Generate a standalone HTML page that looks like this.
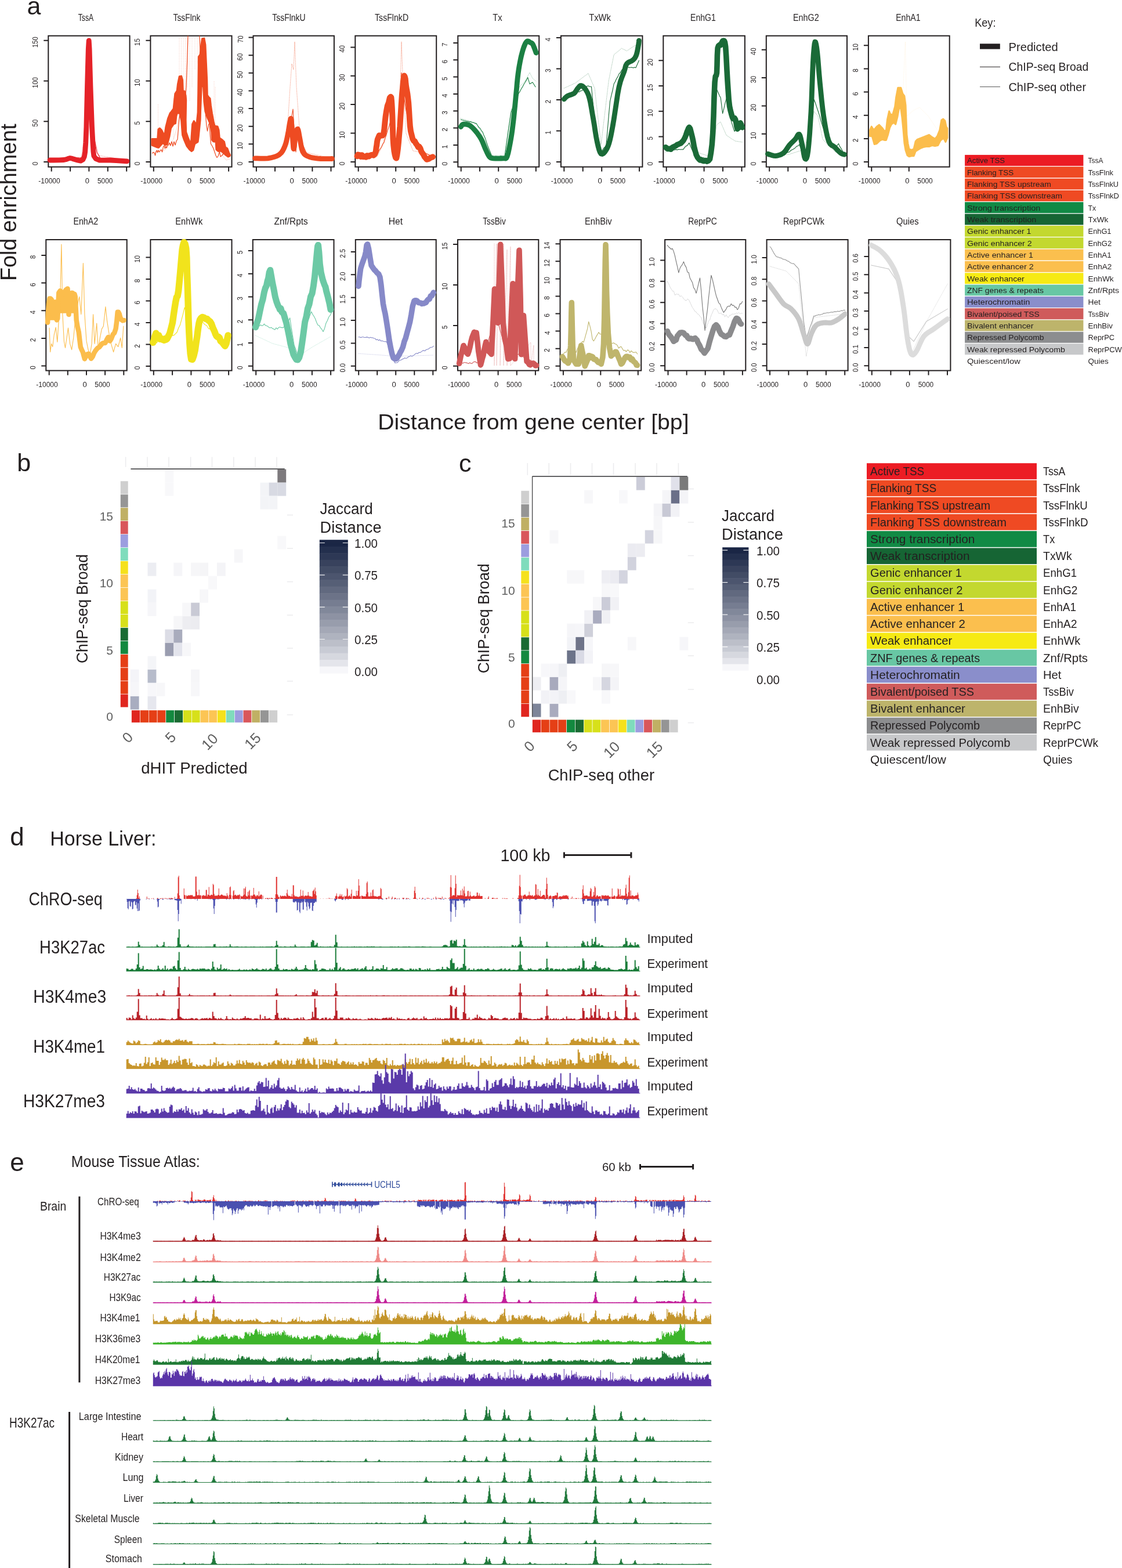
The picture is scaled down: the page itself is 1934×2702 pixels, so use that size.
<!DOCTYPE html>
<html><head><meta charset="utf-8"><title>Figure</title>
<style>html,body{margin:0;padding:0;background:#fff;}svg{display:block;}</style></head>
<body><svg width="1934" height="2702" viewBox="0 0 1934 2702" font-family="'Liberation Sans', Arial, sans-serif" fill="#231f20">
<rect width="1934" height="2702" fill="#fff"/>
<text x="46.5" y="24.5" font-size="43" >a</text>
<text x="27.8" y="484.1" font-size="39" textLength="270.8" lengthAdjust="spacingAndGlyphs" transform="rotate(-90 27.8 484.1)" >Fold enrichment</text>
<text x="651.2" y="740.0" font-size="37.5" textLength="536.4" lengthAdjust="spacingAndGlyphs" >Distance from gene center [bp]</text>
<rect x="83.3" y="61.7" width="140.3" height="225.9" fill="none" stroke="#231f20" stroke-width="2"/>
<text x="148.0" y="35.6" font-size="15.8" text-anchor="middle" textLength="26.6" lengthAdjust="spacingAndGlyphs" >TssA</text>
<text x="65.3" y="281.9" font-size="13" text-anchor="middle" textLength="6.3" lengthAdjust="spacingAndGlyphs" transform="rotate(-90 65.3 281.9)" >0</text>
<text x="65.3" y="212.1" font-size="13" text-anchor="middle" textLength="12.6" lengthAdjust="spacingAndGlyphs" transform="rotate(-90 65.3 212.1)" >50</text>
<text x="65.3" y="142.4" font-size="13" text-anchor="middle" textLength="18.9" lengthAdjust="spacingAndGlyphs" transform="rotate(-90 65.3 142.4)" >100</text>
<text x="65.3" y="72.6" font-size="13" text-anchor="middle" textLength="18.9" lengthAdjust="spacingAndGlyphs" transform="rotate(-90 65.3 72.6)" >150</text>
<path d="M75.3,279.0H83.3 M75.3,209.2H83.3 M75.3,139.5H83.3 M75.3,69.7H83.3 M88.7,287.6V295.6 M121.1,287.6V295.6 M153.4,287.6V295.6 M185.8,287.6V295.6 M218.2,287.6V295.6" stroke="#231f20" stroke-width="2" fill="none"/>
<text x="85.0" y="315.6" font-size="13" text-anchor="middle" textLength="37.5" lengthAdjust="spacingAndGlyphs" >-10000</text>
<text x="150.4" y="315.6" font-size="13" text-anchor="middle" >0</text>
<text x="181.2" y="315.6" font-size="13" text-anchor="middle" textLength="26.4" lengthAdjust="spacingAndGlyphs" >5000</text>
<rect x="259.4" y="61.7" width="140.1" height="225.9" fill="none" stroke="#231f20" stroke-width="2"/>
<text x="321.9" y="35.6" font-size="15.8" text-anchor="middle" textLength="46.8" lengthAdjust="spacingAndGlyphs" >TssFlnk</text>
<text x="241.4" y="281.9" font-size="13" text-anchor="middle" textLength="6.3" lengthAdjust="spacingAndGlyphs" transform="rotate(-90 241.4 281.9)" >0</text>
<text x="241.4" y="212.1" font-size="13" text-anchor="middle" textLength="6.3" lengthAdjust="spacingAndGlyphs" transform="rotate(-90 241.4 212.1)" >5</text>
<text x="241.4" y="142.4" font-size="13" text-anchor="middle" textLength="12.6" lengthAdjust="spacingAndGlyphs" transform="rotate(-90 241.4 142.4)" >10</text>
<text x="241.4" y="72.6" font-size="13" text-anchor="middle" textLength="12.6" lengthAdjust="spacingAndGlyphs" transform="rotate(-90 241.4 72.6)" >15</text>
<path d="M251.4,279.0H259.4 M251.4,209.2H259.4 M251.4,139.5H259.4 M251.4,69.7H259.4 M264.8,287.6V295.6 M297.1,287.6V295.6 M329.4,287.6V295.6 M361.8,287.6V295.6 M394.1,287.6V295.6" stroke="#231f20" stroke-width="2" fill="none"/>
<text x="261.1" y="315.6" font-size="13" text-anchor="middle" textLength="37.5" lengthAdjust="spacingAndGlyphs" >-10000</text>
<text x="326.4" y="315.6" font-size="13" text-anchor="middle" >0</text>
<text x="357.2" y="315.6" font-size="13" text-anchor="middle" textLength="26.4" lengthAdjust="spacingAndGlyphs" >5000</text>
<rect x="436.5" y="61.7" width="139.4" height="225.9" fill="none" stroke="#231f20" stroke-width="2"/>
<text x="498.0" y="35.6" font-size="15.8" text-anchor="middle" textLength="57.3" lengthAdjust="spacingAndGlyphs" >TssFlnkU</text>
<text x="418.5" y="281.8" font-size="13" text-anchor="middle" textLength="6.3" lengthAdjust="spacingAndGlyphs" transform="rotate(-90 418.5 281.8)" >0</text>
<text x="418.5" y="251.2" font-size="13" text-anchor="middle" textLength="12.6" lengthAdjust="spacingAndGlyphs" transform="rotate(-90 418.5 251.2)" >10</text>
<text x="418.5" y="220.6" font-size="13" text-anchor="middle" textLength="12.6" lengthAdjust="spacingAndGlyphs" transform="rotate(-90 418.5 220.6)" >20</text>
<text x="418.5" y="190.0" font-size="13" text-anchor="middle" textLength="12.6" lengthAdjust="spacingAndGlyphs" transform="rotate(-90 418.5 190.0)" >30</text>
<text x="418.5" y="159.3" font-size="13" text-anchor="middle" textLength="12.6" lengthAdjust="spacingAndGlyphs" transform="rotate(-90 418.5 159.3)" >40</text>
<text x="418.5" y="128.7" font-size="13" text-anchor="middle" textLength="12.6" lengthAdjust="spacingAndGlyphs" transform="rotate(-90 418.5 128.7)" >50</text>
<text x="418.5" y="98.1" font-size="13" text-anchor="middle" textLength="12.6" lengthAdjust="spacingAndGlyphs" transform="rotate(-90 418.5 98.1)" >60</text>
<text x="418.5" y="67.5" font-size="13" text-anchor="middle" textLength="12.6" lengthAdjust="spacingAndGlyphs" transform="rotate(-90 418.5 67.5)" >70</text>
<path d="M428.5,278.9H436.5 M428.5,248.3H436.5 M428.5,217.7H436.5 M428.5,187.1H436.5 M428.5,156.4H436.5 M428.5,125.8H436.5 M428.5,95.2H436.5 M428.5,64.6H436.5 M441.9,287.6V295.6 M474.0,287.6V295.6 M506.2,287.6V295.6 M538.4,287.6V295.6 M570.5,287.6V295.6" stroke="#231f20" stroke-width="2" fill="none"/>
<text x="438.2" y="315.6" font-size="13" text-anchor="middle" textLength="37.5" lengthAdjust="spacingAndGlyphs" >-10000</text>
<text x="503.2" y="315.6" font-size="13" text-anchor="middle" >0</text>
<text x="533.8" y="315.6" font-size="13" text-anchor="middle" textLength="26.4" lengthAdjust="spacingAndGlyphs" >5000</text>
<rect x="612.3" y="61.7" width="139.9" height="225.9" fill="none" stroke="#231f20" stroke-width="2"/>
<text x="675.1" y="35.6" font-size="15.8" text-anchor="middle" textLength="58.1" lengthAdjust="spacingAndGlyphs" >TssFlnkD</text>
<text x="594.3" y="281.8" font-size="13" text-anchor="middle" textLength="6.3" lengthAdjust="spacingAndGlyphs" transform="rotate(-90 594.3 281.8)" >0</text>
<text x="594.3" y="232.4" font-size="13" text-anchor="middle" textLength="12.6" lengthAdjust="spacingAndGlyphs" transform="rotate(-90 594.3 232.4)" >10</text>
<text x="594.3" y="183.0" font-size="13" text-anchor="middle" textLength="12.6" lengthAdjust="spacingAndGlyphs" transform="rotate(-90 594.3 183.0)" >20</text>
<text x="594.3" y="133.7" font-size="13" text-anchor="middle" textLength="12.6" lengthAdjust="spacingAndGlyphs" transform="rotate(-90 594.3 133.7)" >30</text>
<text x="594.3" y="84.3" font-size="13" text-anchor="middle" textLength="12.6" lengthAdjust="spacingAndGlyphs" transform="rotate(-90 594.3 84.3)" >40</text>
<path d="M604.3,278.9H612.3 M604.3,229.5H612.3 M604.3,180.1H612.3 M604.3,130.8H612.3 M604.3,81.4H612.3 M617.7,287.6V295.6 M650.0,287.6V295.6 M682.2,287.6V295.6 M714.5,287.6V295.6 M746.8,287.6V295.6" stroke="#231f20" stroke-width="2" fill="none"/>
<text x="614.0" y="315.6" font-size="13" text-anchor="middle" textLength="37.5" lengthAdjust="spacingAndGlyphs" >-10000</text>
<text x="679.2" y="315.6" font-size="13" text-anchor="middle" >0</text>
<text x="709.9" y="315.6" font-size="13" text-anchor="middle" textLength="26.4" lengthAdjust="spacingAndGlyphs" >5000</text>
<rect x="789.3" y="61.7" width="139.9" height="225.9" fill="none" stroke="#231f20" stroke-width="2"/>
<text x="857.5" y="35.6" font-size="15.8" text-anchor="middle" textLength="16.3" lengthAdjust="spacingAndGlyphs" >Tx</text>
<text x="771.3" y="282.1" font-size="13" text-anchor="middle" textLength="6.3" lengthAdjust="spacingAndGlyphs" transform="rotate(-90 771.3 282.1)" >0</text>
<text x="771.3" y="252.8" font-size="13" text-anchor="middle" textLength="6.3" lengthAdjust="spacingAndGlyphs" transform="rotate(-90 771.3 252.8)" >1</text>
<text x="771.3" y="223.4" font-size="13" text-anchor="middle" textLength="6.3" lengthAdjust="spacingAndGlyphs" transform="rotate(-90 771.3 223.4)" >2</text>
<text x="771.3" y="194.1" font-size="13" text-anchor="middle" textLength="6.3" lengthAdjust="spacingAndGlyphs" transform="rotate(-90 771.3 194.1)" >3</text>
<text x="771.3" y="164.8" font-size="13" text-anchor="middle" textLength="6.3" lengthAdjust="spacingAndGlyphs" transform="rotate(-90 771.3 164.8)" >4</text>
<text x="771.3" y="135.5" font-size="13" text-anchor="middle" textLength="6.3" lengthAdjust="spacingAndGlyphs" transform="rotate(-90 771.3 135.5)" >5</text>
<text x="771.3" y="106.1" font-size="13" text-anchor="middle" textLength="6.3" lengthAdjust="spacingAndGlyphs" transform="rotate(-90 771.3 106.1)" >6</text>
<text x="771.3" y="76.8" font-size="13" text-anchor="middle" textLength="6.3" lengthAdjust="spacingAndGlyphs" transform="rotate(-90 771.3 76.8)" >7</text>
<path d="M781.3,279.2H789.3 M781.3,249.9H789.3 M781.3,220.5H789.3 M781.3,191.2H789.3 M781.3,161.9H789.3 M781.3,132.6H789.3 M781.3,103.2H789.3 M781.3,73.9H789.3 M794.7,287.6V295.6 M827.0,287.6V295.6 M859.2,287.6V295.6 M891.5,287.6V295.6 M923.8,287.6V295.6" stroke="#231f20" stroke-width="2" fill="none"/>
<text x="791.0" y="315.6" font-size="13" text-anchor="middle" textLength="37.5" lengthAdjust="spacingAndGlyphs" >-10000</text>
<text x="856.2" y="315.6" font-size="13" text-anchor="middle" >0</text>
<text x="886.9" y="315.6" font-size="13" text-anchor="middle" textLength="26.4" lengthAdjust="spacingAndGlyphs" >5000</text>
<rect x="966.9" y="61.7" width="140.5" height="225.9" fill="none" stroke="#231f20" stroke-width="2"/>
<text x="1034.1" y="35.6" font-size="15.8" text-anchor="middle" textLength="37.8" lengthAdjust="spacingAndGlyphs" >TxWk</text>
<text x="948.9" y="281.9" font-size="13" text-anchor="middle" textLength="6.3" lengthAdjust="spacingAndGlyphs" transform="rotate(-90 948.9 281.9)" >0</text>
<text x="948.9" y="228.4" font-size="13" text-anchor="middle" textLength="6.3" lengthAdjust="spacingAndGlyphs" transform="rotate(-90 948.9 228.4)" >1</text>
<text x="948.9" y="175.0" font-size="13" text-anchor="middle" textLength="6.3" lengthAdjust="spacingAndGlyphs" transform="rotate(-90 948.9 175.0)" >2</text>
<text x="948.9" y="121.5" font-size="13" text-anchor="middle" textLength="6.3" lengthAdjust="spacingAndGlyphs" transform="rotate(-90 948.9 121.5)" >3</text>
<text x="948.9" y="68.0" font-size="13" text-anchor="middle" textLength="6.3" lengthAdjust="spacingAndGlyphs" transform="rotate(-90 948.9 68.0)" >4</text>
<path d="M958.9,279.0H966.9 M958.9,225.5H966.9 M958.9,172.1H966.9 M958.9,118.6H966.9 M958.9,65.1H966.9 M972.3,287.6V295.6 M1004.7,287.6V295.6 M1037.2,287.6V295.6 M1069.6,287.6V295.6 M1102.0,287.6V295.6" stroke="#231f20" stroke-width="2" fill="none"/>
<text x="968.6" y="315.6" font-size="13" text-anchor="middle" textLength="37.5" lengthAdjust="spacingAndGlyphs" >-10000</text>
<text x="1034.2" y="315.6" font-size="13" text-anchor="middle" >0</text>
<text x="1065.0" y="315.6" font-size="13" text-anchor="middle" textLength="26.4" lengthAdjust="spacingAndGlyphs" >5000</text>
<rect x="1143.3" y="61.7" width="140.6" height="225.9" fill="none" stroke="#231f20" stroke-width="2"/>
<text x="1211.9" y="35.6" font-size="15.8" text-anchor="middle" textLength="43.7" lengthAdjust="spacingAndGlyphs" >EnhG1</text>
<text x="1125.3" y="282.0" font-size="13" text-anchor="middle" textLength="6.3" lengthAdjust="spacingAndGlyphs" transform="rotate(-90 1125.3 282.0)" >0</text>
<text x="1125.3" y="238.3" font-size="13" text-anchor="middle" textLength="6.3" lengthAdjust="spacingAndGlyphs" transform="rotate(-90 1125.3 238.3)" >5</text>
<text x="1125.3" y="194.6" font-size="13" text-anchor="middle" textLength="12.6" lengthAdjust="spacingAndGlyphs" transform="rotate(-90 1125.3 194.6)" >10</text>
<text x="1125.3" y="150.9" font-size="13" text-anchor="middle" textLength="12.6" lengthAdjust="spacingAndGlyphs" transform="rotate(-90 1125.3 150.9)" >15</text>
<text x="1125.3" y="107.2" font-size="13" text-anchor="middle" textLength="12.6" lengthAdjust="spacingAndGlyphs" transform="rotate(-90 1125.3 107.2)" >20</text>
<path d="M1135.3,279.1H1143.3 M1135.3,235.4H1143.3 M1135.3,191.7H1143.3 M1135.3,148.0H1143.3 M1135.3,104.3H1143.3 M1148.7,287.6V295.6 M1181.2,287.6V295.6 M1213.6,287.6V295.6 M1246.0,287.6V295.6 M1278.5,287.6V295.6" stroke="#231f20" stroke-width="2" fill="none"/>
<text x="1145.0" y="315.6" font-size="13" text-anchor="middle" textLength="37.5" lengthAdjust="spacingAndGlyphs" >-10000</text>
<text x="1210.6" y="315.6" font-size="13" text-anchor="middle" >0</text>
<text x="1241.5" y="315.6" font-size="13" text-anchor="middle" textLength="26.4" lengthAdjust="spacingAndGlyphs" >5000</text>
<rect x="1320.8" y="61.7" width="139.2" height="225.9" fill="none" stroke="#231f20" stroke-width="2"/>
<text x="1389.3" y="35.6" font-size="15.8" text-anchor="middle" textLength="44.7" lengthAdjust="spacingAndGlyphs" >EnhG2</text>
<text x="1302.8" y="282.0" font-size="13" text-anchor="middle" textLength="6.3" lengthAdjust="spacingAndGlyphs" transform="rotate(-90 1302.8 282.0)" >0</text>
<text x="1302.8" y="233.7" font-size="13" text-anchor="middle" textLength="12.6" lengthAdjust="spacingAndGlyphs" transform="rotate(-90 1302.8 233.7)" >10</text>
<text x="1302.8" y="185.3" font-size="13" text-anchor="middle" textLength="12.6" lengthAdjust="spacingAndGlyphs" transform="rotate(-90 1302.8 185.3)" >20</text>
<text x="1302.8" y="137.0" font-size="13" text-anchor="middle" textLength="12.6" lengthAdjust="spacingAndGlyphs" transform="rotate(-90 1302.8 137.0)" >30</text>
<text x="1302.8" y="88.6" font-size="13" text-anchor="middle" textLength="12.6" lengthAdjust="spacingAndGlyphs" transform="rotate(-90 1302.8 88.6)" >40</text>
<path d="M1312.8,279.1H1320.8 M1312.8,230.8H1320.8 M1312.8,182.4H1320.8 M1312.8,134.1H1320.8 M1312.8,85.7H1320.8 M1326.2,287.6V295.6 M1358.3,287.6V295.6 M1390.4,287.6V295.6 M1422.5,287.6V295.6 M1454.6,287.6V295.6" stroke="#231f20" stroke-width="2" fill="none"/>
<text x="1322.5" y="315.6" font-size="13" text-anchor="middle" textLength="37.5" lengthAdjust="spacingAndGlyphs" >-10000</text>
<text x="1387.4" y="315.6" font-size="13" text-anchor="middle" >0</text>
<text x="1417.9" y="315.6" font-size="13" text-anchor="middle" textLength="26.4" lengthAdjust="spacingAndGlyphs" >5000</text>
<rect x="1496.9" y="61.7" width="139.8" height="225.9" fill="none" stroke="#231f20" stroke-width="2"/>
<text x="1565.4" y="35.6" font-size="15.8" text-anchor="middle" textLength="42.5" lengthAdjust="spacingAndGlyphs" >EnhA1</text>
<text x="1478.9" y="282.0" font-size="13" text-anchor="middle" textLength="6.3" lengthAdjust="spacingAndGlyphs" transform="rotate(-90 1478.9 282.0)" >0</text>
<text x="1478.9" y="241.8" font-size="13" text-anchor="middle" textLength="6.3" lengthAdjust="spacingAndGlyphs" transform="rotate(-90 1478.9 241.8)" >2</text>
<text x="1478.9" y="201.7" font-size="13" text-anchor="middle" textLength="6.3" lengthAdjust="spacingAndGlyphs" transform="rotate(-90 1478.9 201.7)" >4</text>
<text x="1478.9" y="161.5" font-size="13" text-anchor="middle" textLength="6.3" lengthAdjust="spacingAndGlyphs" transform="rotate(-90 1478.9 161.5)" >6</text>
<text x="1478.9" y="121.4" font-size="13" text-anchor="middle" textLength="6.3" lengthAdjust="spacingAndGlyphs" transform="rotate(-90 1478.9 121.4)" >8</text>
<text x="1478.9" y="81.2" font-size="13" text-anchor="middle" textLength="12.6" lengthAdjust="spacingAndGlyphs" transform="rotate(-90 1478.9 81.2)" >10</text>
<path d="M1488.9,279.1H1496.9 M1488.9,238.9H1496.9 M1488.9,198.8H1496.9 M1488.9,158.6H1496.9 M1488.9,118.5H1496.9 M1488.9,78.3H1496.9 M1502.3,287.6V295.6 M1534.6,287.6V295.6 M1566.8,287.6V295.6" stroke="#231f20" stroke-width="2" fill="none"/>
<text x="1498.6" y="315.6" font-size="13" text-anchor="middle" textLength="37.5" lengthAdjust="spacingAndGlyphs" >-10000</text>
<text x="1563.8" y="315.6" font-size="13" text-anchor="middle" >0</text>
<text x="1594.5" y="315.6" font-size="13" text-anchor="middle" textLength="26.4" lengthAdjust="spacingAndGlyphs" >5000</text>
<rect x="79.3" y="413.0" width="139.4" height="225.6" fill="none" stroke="#231f20" stroke-width="2"/>
<text x="147.8" y="387.4" font-size="15.8" text-anchor="middle" textLength="42.7" lengthAdjust="spacingAndGlyphs" >EnhA2</text>
<text x="61.3" y="633.4" font-size="13" text-anchor="middle" textLength="6.3" lengthAdjust="spacingAndGlyphs" transform="rotate(-90 61.3 633.4)" >0</text>
<text x="61.3" y="585.8" font-size="13" text-anchor="middle" textLength="6.3" lengthAdjust="spacingAndGlyphs" transform="rotate(-90 61.3 585.8)" >2</text>
<text x="61.3" y="538.1" font-size="13" text-anchor="middle" textLength="6.3" lengthAdjust="spacingAndGlyphs" transform="rotate(-90 61.3 538.1)" >4</text>
<text x="61.3" y="490.5" font-size="13" text-anchor="middle" textLength="6.3" lengthAdjust="spacingAndGlyphs" transform="rotate(-90 61.3 490.5)" >6</text>
<text x="61.3" y="442.9" font-size="13" text-anchor="middle" textLength="6.3" lengthAdjust="spacingAndGlyphs" transform="rotate(-90 61.3 442.9)" >8</text>
<path d="M71.3,630.5H79.3 M71.3,582.9H79.3 M71.3,535.2H79.3 M71.3,487.6H79.3 M71.3,440.0H79.3 M84.7,638.6V646.6 M116.8,638.6V646.6 M149.0,638.6V646.6 M181.1,638.6V646.6 M213.3,638.6V646.6" stroke="#231f20" stroke-width="2" fill="none"/>
<text x="81.0" y="666.6" font-size="13" text-anchor="middle" textLength="37.5" lengthAdjust="spacingAndGlyphs" >-10000</text>
<text x="146.0" y="666.6" font-size="13" text-anchor="middle" >0</text>
<text x="176.5" y="666.6" font-size="13" text-anchor="middle" textLength="26.4" lengthAdjust="spacingAndGlyphs" >5000</text>
<rect x="259.4" y="413.0" width="140.1" height="225.6" fill="none" stroke="#231f20" stroke-width="2"/>
<text x="325.8" y="387.4" font-size="15.8" text-anchor="middle" textLength="46.9" lengthAdjust="spacingAndGlyphs" >EnhWk</text>
<text x="241.4" y="633.8" font-size="13" text-anchor="middle" textLength="6.3" lengthAdjust="spacingAndGlyphs" transform="rotate(-90 241.4 633.8)" >0</text>
<text x="241.4" y="596.3" font-size="13" text-anchor="middle" textLength="6.3" lengthAdjust="spacingAndGlyphs" transform="rotate(-90 241.4 596.3)" >2</text>
<text x="241.4" y="558.8" font-size="13" text-anchor="middle" textLength="6.3" lengthAdjust="spacingAndGlyphs" transform="rotate(-90 241.4 558.8)" >4</text>
<text x="241.4" y="521.3" font-size="13" text-anchor="middle" textLength="6.3" lengthAdjust="spacingAndGlyphs" transform="rotate(-90 241.4 521.3)" >6</text>
<text x="241.4" y="483.8" font-size="13" text-anchor="middle" textLength="6.3" lengthAdjust="spacingAndGlyphs" transform="rotate(-90 241.4 483.8)" >8</text>
<text x="241.4" y="446.3" font-size="13" text-anchor="middle" textLength="12.6" lengthAdjust="spacingAndGlyphs" transform="rotate(-90 241.4 446.3)" >10</text>
<path d="M251.4,630.9H259.4 M251.4,593.4H259.4 M251.4,555.9H259.4 M251.4,518.4H259.4 M251.4,480.9H259.4 M251.4,443.4H259.4 M264.8,638.6V646.6 M297.1,638.6V646.6 M329.4,638.6V646.6 M361.8,638.6V646.6 M394.1,638.6V646.6" stroke="#231f20" stroke-width="2" fill="none"/>
<text x="261.1" y="666.6" font-size="13" text-anchor="middle" textLength="37.5" lengthAdjust="spacingAndGlyphs" >-10000</text>
<text x="326.4" y="666.6" font-size="13" text-anchor="middle" >0</text>
<text x="357.2" y="666.6" font-size="13" text-anchor="middle" textLength="26.4" lengthAdjust="spacingAndGlyphs" >5000</text>
<rect x="435.8" y="413.0" width="139.7" height="225.6" fill="none" stroke="#231f20" stroke-width="2"/>
<text x="501.6" y="387.4" font-size="15.8" text-anchor="middle" textLength="58.2" lengthAdjust="spacingAndGlyphs" >Znf/Rpts</text>
<text x="417.8" y="633.7" font-size="13" text-anchor="middle" textLength="6.3" lengthAdjust="spacingAndGlyphs" transform="rotate(-90 417.8 633.7)" >0</text>
<text x="417.8" y="593.9" font-size="13" text-anchor="middle" textLength="6.3" lengthAdjust="spacingAndGlyphs" transform="rotate(-90 417.8 593.9)" >1</text>
<text x="417.8" y="554.2" font-size="13" text-anchor="middle" textLength="6.3" lengthAdjust="spacingAndGlyphs" transform="rotate(-90 417.8 554.2)" >2</text>
<text x="417.8" y="514.4" font-size="13" text-anchor="middle" textLength="6.3" lengthAdjust="spacingAndGlyphs" transform="rotate(-90 417.8 514.4)" >3</text>
<text x="417.8" y="474.7" font-size="13" text-anchor="middle" textLength="6.3" lengthAdjust="spacingAndGlyphs" transform="rotate(-90 417.8 474.7)" >4</text>
<text x="417.8" y="434.9" font-size="13" text-anchor="middle" textLength="6.3" lengthAdjust="spacingAndGlyphs" transform="rotate(-90 417.8 434.9)" >5</text>
<path d="M427.8,630.8H435.8 M427.8,591.0H435.8 M427.8,551.3H435.8 M427.8,511.5H435.8 M427.8,471.8H435.8 M427.8,432.0H435.8 M441.2,638.6V646.6 M473.4,638.6V646.6 M505.6,638.6V646.6 M537.9,638.6V646.6 M570.1,638.6V646.6" stroke="#231f20" stroke-width="2" fill="none"/>
<text x="437.5" y="666.6" font-size="13" text-anchor="middle" textLength="37.5" lengthAdjust="spacingAndGlyphs" >-10000</text>
<text x="502.6" y="666.6" font-size="13" text-anchor="middle" >0</text>
<text x="533.3" y="666.6" font-size="13" text-anchor="middle" textLength="26.4" lengthAdjust="spacingAndGlyphs" >5000</text>
<rect x="612.8" y="413.0" width="138.9" height="225.6" fill="none" stroke="#231f20" stroke-width="2"/>
<text x="681.9" y="387.4" font-size="15.8" text-anchor="middle" textLength="24.4" lengthAdjust="spacingAndGlyphs" >Het</text>
<text x="594.8" y="633.7" font-size="13" text-anchor="middle" textLength="15.5" lengthAdjust="spacingAndGlyphs" transform="rotate(-90 594.8 633.7)" >0.0</text>
<text x="594.8" y="594.3" font-size="13" text-anchor="middle" textLength="15.5" lengthAdjust="spacingAndGlyphs" transform="rotate(-90 594.8 594.3)" >0.5</text>
<text x="594.8" y="554.9" font-size="13" text-anchor="middle" textLength="15.5" lengthAdjust="spacingAndGlyphs" transform="rotate(-90 594.8 554.9)" >1.0</text>
<text x="594.8" y="515.6" font-size="13" text-anchor="middle" textLength="15.5" lengthAdjust="spacingAndGlyphs" transform="rotate(-90 594.8 515.6)" >1.5</text>
<text x="594.8" y="476.2" font-size="13" text-anchor="middle" textLength="15.5" lengthAdjust="spacingAndGlyphs" transform="rotate(-90 594.8 476.2)" >2.0</text>
<text x="594.8" y="436.8" font-size="13" text-anchor="middle" textLength="15.5" lengthAdjust="spacingAndGlyphs" transform="rotate(-90 594.8 436.8)" >2.5</text>
<path d="M604.8,630.8H612.8 M604.8,591.4H612.8 M604.8,552.0H612.8 M604.8,512.7H612.8 M604.8,473.3H612.8 M604.8,433.9H612.8 M618.2,638.6V646.6 M650.2,638.6V646.6 M682.2,638.6V646.6 M714.3,638.6V646.6 M746.3,638.6V646.6" stroke="#231f20" stroke-width="2" fill="none"/>
<text x="614.5" y="666.6" font-size="13" text-anchor="middle" textLength="37.5" lengthAdjust="spacingAndGlyphs" >-10000</text>
<text x="679.2" y="666.6" font-size="13" text-anchor="middle" >0</text>
<text x="709.7" y="666.6" font-size="13" text-anchor="middle" textLength="26.4" lengthAdjust="spacingAndGlyphs" >5000</text>
<rect x="789.0" y="413.0" width="139.3" height="225.6" fill="none" stroke="#231f20" stroke-width="2"/>
<text x="852.0" y="387.4" font-size="15.8" text-anchor="middle" textLength="39.4" lengthAdjust="spacingAndGlyphs" >TssBiv</text>
<text x="771.0" y="633.7" font-size="13" text-anchor="middle" textLength="6.3" lengthAdjust="spacingAndGlyphs" transform="rotate(-90 771.0 633.7)" >0</text>
<text x="771.0" y="563.8" font-size="13" text-anchor="middle" textLength="6.3" lengthAdjust="spacingAndGlyphs" transform="rotate(-90 771.0 563.8)" >5</text>
<text x="771.0" y="493.8" font-size="13" text-anchor="middle" textLength="12.6" lengthAdjust="spacingAndGlyphs" transform="rotate(-90 771.0 493.8)" >10</text>
<text x="771.0" y="423.9" font-size="13" text-anchor="middle" textLength="12.6" lengthAdjust="spacingAndGlyphs" transform="rotate(-90 771.0 423.9)" >15</text>
<path d="M781.0,630.8H789.0 M781.0,560.9H789.0 M781.0,490.9H789.0 M781.0,421.0H789.0 M794.4,638.6V646.6 M826.5,638.6V646.6 M858.6,638.6V646.6 M890.8,638.6V646.6 M922.9,638.6V646.6" stroke="#231f20" stroke-width="2" fill="none"/>
<text x="790.7" y="666.6" font-size="13" text-anchor="middle" textLength="37.5" lengthAdjust="spacingAndGlyphs" >-10000</text>
<text x="855.6" y="666.6" font-size="13" text-anchor="middle" >0</text>
<text x="886.2" y="666.6" font-size="13" text-anchor="middle" textLength="26.4" lengthAdjust="spacingAndGlyphs" >5000</text>
<rect x="965.5" y="413.0" width="139.7" height="225.6" fill="none" stroke="#231f20" stroke-width="2"/>
<text x="1031.3" y="387.4" font-size="15.8" text-anchor="middle" textLength="46.7" lengthAdjust="spacingAndGlyphs" >EnhBiv</text>
<text x="947.5" y="633.7" font-size="13" text-anchor="middle" textLength="6.3" lengthAdjust="spacingAndGlyphs" transform="rotate(-90 947.5 633.7)" >0</text>
<text x="947.5" y="603.6" font-size="13" text-anchor="middle" textLength="6.3" lengthAdjust="spacingAndGlyphs" transform="rotate(-90 947.5 603.6)" >2</text>
<text x="947.5" y="573.5" font-size="13" text-anchor="middle" textLength="6.3" lengthAdjust="spacingAndGlyphs" transform="rotate(-90 947.5 573.5)" >4</text>
<text x="947.5" y="543.4" font-size="13" text-anchor="middle" textLength="6.3" lengthAdjust="spacingAndGlyphs" transform="rotate(-90 947.5 543.4)" >6</text>
<text x="947.5" y="513.4" font-size="13" text-anchor="middle" textLength="6.3" lengthAdjust="spacingAndGlyphs" transform="rotate(-90 947.5 513.4)" >8</text>
<text x="947.5" y="483.3" font-size="13" text-anchor="middle" textLength="12.6" lengthAdjust="spacingAndGlyphs" transform="rotate(-90 947.5 483.3)" >10</text>
<text x="947.5" y="453.2" font-size="13" text-anchor="middle" textLength="12.6" lengthAdjust="spacingAndGlyphs" transform="rotate(-90 947.5 453.2)" >12</text>
<text x="947.5" y="423.1" font-size="13" text-anchor="middle" textLength="12.6" lengthAdjust="spacingAndGlyphs" transform="rotate(-90 947.5 423.1)" >14</text>
<path d="M957.5,630.8H965.5 M957.5,600.7H965.5 M957.5,570.6H965.5 M957.5,540.5H965.5 M957.5,510.5H965.5 M957.5,480.4H965.5 M957.5,450.3H965.5 M957.5,420.2H965.5 M970.9,638.6V646.6 M1003.1,638.6V646.6 M1035.3,638.6V646.6 M1067.6,638.6V646.6 M1099.8,638.6V646.6" stroke="#231f20" stroke-width="2" fill="none"/>
<text x="967.2" y="666.6" font-size="13" text-anchor="middle" textLength="37.5" lengthAdjust="spacingAndGlyphs" >-10000</text>
<text x="1032.3" y="666.6" font-size="13" text-anchor="middle" >0</text>
<text x="1063.0" y="666.6" font-size="13" text-anchor="middle" textLength="26.4" lengthAdjust="spacingAndGlyphs" >5000</text>
<rect x="1146.1" y="413.0" width="139.2" height="225.6" fill="none" stroke="#231f20" stroke-width="2"/>
<text x="1211.0" y="387.4" font-size="15.8" text-anchor="middle" textLength="49.3" lengthAdjust="spacingAndGlyphs" >ReprPC</text>
<text x="1128.1" y="633.2" font-size="13" text-anchor="middle" textLength="15.5" lengthAdjust="spacingAndGlyphs" transform="rotate(-90 1128.1 633.2)" >0.0</text>
<text x="1128.1" y="596.8" font-size="13" text-anchor="middle" textLength="15.5" lengthAdjust="spacingAndGlyphs" transform="rotate(-90 1128.1 596.8)" >0.2</text>
<text x="1128.1" y="560.4" font-size="13" text-anchor="middle" textLength="15.5" lengthAdjust="spacingAndGlyphs" transform="rotate(-90 1128.1 560.4)" >0.4</text>
<text x="1128.1" y="524.1" font-size="13" text-anchor="middle" textLength="15.5" lengthAdjust="spacingAndGlyphs" transform="rotate(-90 1128.1 524.1)" >0.6</text>
<text x="1128.1" y="487.7" font-size="13" text-anchor="middle" textLength="15.5" lengthAdjust="spacingAndGlyphs" transform="rotate(-90 1128.1 487.7)" >0.8</text>
<text x="1128.1" y="451.3" font-size="13" text-anchor="middle" textLength="15.5" lengthAdjust="spacingAndGlyphs" transform="rotate(-90 1128.1 451.3)" >1.0</text>
<path d="M1138.1,630.3H1146.1 M1138.1,593.9H1146.1 M1138.1,557.5H1146.1 M1138.1,521.2H1146.1 M1138.1,484.8H1146.1 M1138.1,448.4H1146.1 M1151.5,638.6V646.6 M1183.6,638.6V646.6 M1215.7,638.6V646.6 M1247.8,638.6V646.6 M1279.9,638.6V646.6" stroke="#231f20" stroke-width="2" fill="none"/>
<text x="1147.8" y="666.6" font-size="13" text-anchor="middle" textLength="37.5" lengthAdjust="spacingAndGlyphs" >-10000</text>
<text x="1212.7" y="666.6" font-size="13" text-anchor="middle" >0</text>
<text x="1243.2" y="666.6" font-size="13" text-anchor="middle" textLength="26.4" lengthAdjust="spacingAndGlyphs" >5000</text>
<rect x="1321.6" y="413.0" width="140.0" height="225.6" fill="none" stroke="#231f20" stroke-width="2"/>
<text x="1385.5" y="387.4" font-size="15.8" text-anchor="middle" textLength="70.8" lengthAdjust="spacingAndGlyphs" >ReprPCWk</text>
<text x="1303.6" y="633.2" font-size="13" text-anchor="middle" textLength="15.5" lengthAdjust="spacingAndGlyphs" transform="rotate(-90 1303.6 633.2)" >0.0</text>
<text x="1303.6" y="595.9" font-size="13" text-anchor="middle" textLength="15.5" lengthAdjust="spacingAndGlyphs" transform="rotate(-90 1303.6 595.9)" >0.2</text>
<text x="1303.6" y="558.7" font-size="13" text-anchor="middle" textLength="15.5" lengthAdjust="spacingAndGlyphs" transform="rotate(-90 1303.6 558.7)" >0.4</text>
<text x="1303.6" y="521.4" font-size="13" text-anchor="middle" textLength="15.5" lengthAdjust="spacingAndGlyphs" transform="rotate(-90 1303.6 521.4)" >0.6</text>
<text x="1303.6" y="484.2" font-size="13" text-anchor="middle" textLength="15.5" lengthAdjust="spacingAndGlyphs" transform="rotate(-90 1303.6 484.2)" >0.8</text>
<text x="1303.6" y="446.9" font-size="13" text-anchor="middle" textLength="15.5" lengthAdjust="spacingAndGlyphs" transform="rotate(-90 1303.6 446.9)" >1.0</text>
<path d="M1313.6,630.3H1321.6 M1313.6,593.0H1321.6 M1313.6,555.8H1321.6 M1313.6,518.5H1321.6 M1313.6,481.3H1321.6 M1313.6,444.0H1321.6 M1327.0,638.6V646.6 M1359.3,638.6V646.6 M1391.6,638.6V646.6 M1423.9,638.6V646.6 M1456.2,638.6V646.6" stroke="#231f20" stroke-width="2" fill="none"/>
<text x="1323.3" y="666.6" font-size="13" text-anchor="middle" textLength="37.5" lengthAdjust="spacingAndGlyphs" >-10000</text>
<text x="1388.6" y="666.6" font-size="13" text-anchor="middle" >0</text>
<text x="1419.3" y="666.6" font-size="13" text-anchor="middle" textLength="26.4" lengthAdjust="spacingAndGlyphs" >5000</text>
<rect x="1497.4" y="413.0" width="141.0" height="225.6" fill="none" stroke="#231f20" stroke-width="2"/>
<text x="1564.3" y="387.4" font-size="15.8" text-anchor="middle" textLength="38.5" lengthAdjust="spacingAndGlyphs" >Quies</text>
<text x="1479.4" y="633.2" font-size="13" text-anchor="middle" textLength="15.5" lengthAdjust="spacingAndGlyphs" transform="rotate(-90 1479.4 633.2)" >0.0</text>
<text x="1479.4" y="601.8" font-size="13" text-anchor="middle" textLength="15.5" lengthAdjust="spacingAndGlyphs" transform="rotate(-90 1479.4 601.8)" >0.1</text>
<text x="1479.4" y="570.4" font-size="13" text-anchor="middle" textLength="15.5" lengthAdjust="spacingAndGlyphs" transform="rotate(-90 1479.4 570.4)" >0.2</text>
<text x="1479.4" y="539.0" font-size="13" text-anchor="middle" textLength="15.5" lengthAdjust="spacingAndGlyphs" transform="rotate(-90 1479.4 539.0)" >0.3</text>
<text x="1479.4" y="507.6" font-size="13" text-anchor="middle" textLength="15.5" lengthAdjust="spacingAndGlyphs" transform="rotate(-90 1479.4 507.6)" >0.4</text>
<text x="1479.4" y="476.2" font-size="13" text-anchor="middle" textLength="15.5" lengthAdjust="spacingAndGlyphs" transform="rotate(-90 1479.4 476.2)" >0.5</text>
<text x="1479.4" y="444.8" font-size="13" text-anchor="middle" textLength="15.5" lengthAdjust="spacingAndGlyphs" transform="rotate(-90 1479.4 444.8)" >0.6</text>
<path d="M1489.4,630.3H1497.4 M1489.4,598.9H1497.4 M1489.4,567.5H1497.4 M1489.4,536.1H1497.4 M1489.4,504.7H1497.4 M1489.4,473.3H1497.4 M1489.4,441.9H1497.4 M1502.8,638.6V646.6 M1535.4,638.6V646.6 M1567.9,638.6V646.6 M1600.5,638.6V646.6 M1633.0,638.6V646.6" stroke="#231f20" stroke-width="2" fill="none"/>
<text x="1499.1" y="666.6" font-size="13" text-anchor="middle" textLength="37.5" lengthAdjust="spacingAndGlyphs" >-10000</text>
<text x="1564.9" y="666.6" font-size="13" text-anchor="middle" >0</text>
<text x="1595.9" y="666.6" font-size="13" text-anchor="middle" textLength="26.4" lengthAdjust="spacingAndGlyphs" >5000</text>
<text x="1680.2" y="46.2" font-size="20" textLength="36.3" lengthAdjust="spacingAndGlyphs" >Key:</text>
<rect x="1689" y="75.3" width="34.8" height="9.3" fill="#231f20"/>
<text x="1738.5" y="87.8" font-size="21" textLength="85.2" lengthAdjust="spacingAndGlyphs" >Predicted</text>
<path d="M1689,115.3H1724" stroke="#231f20" stroke-width="1"/>
<text x="1738.5" y="122.4" font-size="21" textLength="137.8" lengthAdjust="spacingAndGlyphs" >ChIP-seq Broad</text>
<path d="M1689,149.6H1724" stroke="#555" stroke-width="1"/>
<text x="1738.5" y="157.0" font-size="21" textLength="133.5" lengthAdjust="spacingAndGlyphs" >ChIP-seq other</text>
<rect x="1663.1" y="266.9" width="204.3" height="19.0" fill="#ec1c24"/>
<text x="1667.0" y="281.2" font-size="13.5" textLength="65.2" lengthAdjust="spacingAndGlyphs" >Active TSS</text>
<text x="1875.6" y="281.2" font-size="13.5" textLength="25.9" lengthAdjust="spacingAndGlyphs" >TssA</text>
<rect x="1663.1" y="287.2" width="204.3" height="19.0" fill="#ef4a23"/>
<text x="1667.0" y="301.5" font-size="13.5" textLength="80.1" lengthAdjust="spacingAndGlyphs" >Flanking TSS</text>
<text x="1875.6" y="301.5" font-size="13.5" textLength="43.4" lengthAdjust="spacingAndGlyphs" >TssFlnk</text>
<rect x="1663.1" y="307.6" width="204.3" height="19.0" fill="#ef4a23"/>
<text x="1667.0" y="321.9" font-size="13.5" textLength="144.8" lengthAdjust="spacingAndGlyphs" >Flanking TSS upstream</text>
<text x="1875.6" y="321.9" font-size="13.5" textLength="52.5" lengthAdjust="spacingAndGlyphs" >TssFlnkU</text>
<rect x="1663.1" y="327.9" width="204.3" height="19.0" fill="#ef4a23"/>
<text x="1667.0" y="342.2" font-size="13.5" textLength="164.0" lengthAdjust="spacingAndGlyphs" >Flanking TSS downstream</text>
<text x="1875.6" y="342.2" font-size="13.5" textLength="53.4" lengthAdjust="spacingAndGlyphs" >TssFlnkD</text>
<rect x="1663.1" y="348.2" width="204.3" height="19.0" fill="#118a45"/>
<text x="1667.0" y="362.5" font-size="13.5" textLength="126.4" lengthAdjust="spacingAndGlyphs" >Strong transcription</text>
<text x="1875.6" y="362.5" font-size="13.5" textLength="13.6" lengthAdjust="spacingAndGlyphs" >Tx</text>
<rect x="1663.1" y="368.5" width="204.3" height="19.0" fill="#166534"/>
<text x="1667.0" y="382.8" font-size="13.5" textLength="119.4" lengthAdjust="spacingAndGlyphs" >Weak transcription</text>
<text x="1875.6" y="382.8" font-size="13.5" textLength="34.6" lengthAdjust="spacingAndGlyphs" >TxWk</text>
<rect x="1663.1" y="388.9" width="204.3" height="19.0" fill="#c3d82f"/>
<text x="1667.0" y="403.2" font-size="13.5" textLength="110.4" lengthAdjust="spacingAndGlyphs" >Genic enhancer 1</text>
<text x="1875.6" y="403.2" font-size="13.5" textLength="39.9" lengthAdjust="spacingAndGlyphs" >EnhG1</text>
<rect x="1663.1" y="409.2" width="204.3" height="19.0" fill="#c3d82f"/>
<text x="1667.0" y="423.5" font-size="13.5" textLength="111.6" lengthAdjust="spacingAndGlyphs" >Genic enhancer 2</text>
<text x="1875.6" y="423.5" font-size="13.5" textLength="40.6" lengthAdjust="spacingAndGlyphs" >EnhG2</text>
<rect x="1663.1" y="429.5" width="204.3" height="19.0" fill="#fbbf4e"/>
<text x="1667.0" y="443.8" font-size="13.5" textLength="113.9" lengthAdjust="spacingAndGlyphs" >Active enhancer 1</text>
<text x="1875.6" y="443.8" font-size="13.5" textLength="40.0" lengthAdjust="spacingAndGlyphs" >EnhA1</text>
<rect x="1663.1" y="449.9" width="204.3" height="19.0" fill="#fbbf4e"/>
<text x="1667.0" y="464.2" font-size="13.5" textLength="114.6" lengthAdjust="spacingAndGlyphs" >Active enhancer 2</text>
<text x="1875.6" y="464.2" font-size="13.5" textLength="40.6" lengthAdjust="spacingAndGlyphs" >EnhA2</text>
<rect x="1663.1" y="470.2" width="204.3" height="19.0" fill="#f6ea14"/>
<text x="1667.0" y="484.5" font-size="13.5" textLength="98.8" lengthAdjust="spacingAndGlyphs" >Weak enhancer</text>
<text x="1875.6" y="484.5" font-size="13.5" textLength="44.1" lengthAdjust="spacingAndGlyphs" >EnhWk</text>
<rect x="1663.1" y="490.5" width="204.3" height="19.0" fill="#68c7a4"/>
<text x="1667.0" y="504.8" font-size="13.5" textLength="132.0" lengthAdjust="spacingAndGlyphs" >ZNF genes &amp; repeats</text>
<text x="1875.6" y="504.8" font-size="13.5" textLength="53.4" lengthAdjust="spacingAndGlyphs" >Znf/Rpts</text>
<rect x="1663.1" y="510.9" width="204.3" height="19.0" fill="#8a8ecb"/>
<text x="1667.0" y="525.2" font-size="13.5" textLength="108.3" lengthAdjust="spacingAndGlyphs" >Heterochromatin</text>
<text x="1875.6" y="525.2" font-size="13.5" textLength="21.3" lengthAdjust="spacingAndGlyphs" >Het</text>
<rect x="1663.1" y="531.2" width="204.3" height="19.0" fill="#cf5b5b"/>
<text x="1667.0" y="545.5" font-size="13.5" textLength="124.7" lengthAdjust="spacingAndGlyphs" >Bivalent/poised TSS</text>
<text x="1875.6" y="545.5" font-size="13.5" textLength="35.8" lengthAdjust="spacingAndGlyphs" >TssBiv</text>
<rect x="1663.1" y="551.5" width="204.3" height="19.0" fill="#bdb46b"/>
<text x="1667.0" y="565.8" font-size="13.5" textLength="114.6" lengthAdjust="spacingAndGlyphs" >Bivalent enhancer</text>
<text x="1875.6" y="565.8" font-size="13.5" textLength="42.3" lengthAdjust="spacingAndGlyphs" >EnhBiv</text>
<rect x="1663.1" y="571.8" width="204.3" height="19.0" fill="#8c8d8f"/>
<text x="1667.0" y="586.1" font-size="13.5" textLength="132.6" lengthAdjust="spacingAndGlyphs" >Repressed Polycomb</text>
<text x="1875.6" y="586.1" font-size="13.5" textLength="45.5" lengthAdjust="spacingAndGlyphs" >ReprPC</text>
<rect x="1663.1" y="592.2" width="204.3" height="19.0" fill="#c7c8ca"/>
<text x="1667.0" y="606.5" font-size="13.5" textLength="168.8" lengthAdjust="spacingAndGlyphs" >Weak repressed Polycomb</text>
<text x="1875.6" y="606.5" font-size="13.5" textLength="58.1" lengthAdjust="spacingAndGlyphs" >ReprPCW</text>
<text x="1667.0" y="626.8" font-size="13.5" textLength="91.8" lengthAdjust="spacingAndGlyphs" >Quiescent/low</text>
<text x="1875.6" y="626.8" font-size="13.5" textLength="35.0" lengthAdjust="spacingAndGlyphs" >Quies</text>
<polyline points="87.0,276.0 140.0,274.0 150.0,200.0 153.0,120.0 158.0,180.0 163.0,240.0 170.0,268.0 219.0,276.0" fill="none" stroke="#e52228" stroke-width="1.0" stroke-linejoin="round" stroke-linecap="round" stroke-dasharray="1 1.6" opacity="0.4"/>
<polyline points="87.0,276.9 89.1,276.8 91.1,277.0 93.2,276.2 95.2,276.0 97.3,275.9 99.4,275.1 101.4,275.3 103.5,275.2 105.6,275.1 107.6,274.0 109.7,274.0 111.8,273.5 113.8,274.1 115.9,273.7 117.9,272.7 120.0,273.6 122.1,273.5 124.2,273.0 126.2,272.9 128.3,272.3 130.4,272.0 132.5,272.5 134.6,271.9 136.7,272.0 138.8,271.9 140.8,271.6 142.9,272.0 145.0,271.9 147.5,236.4 150.0,200.0 152.0,175.2 154.0,150.0 156.0,175.2 158.0,199.9 160.5,219.7 163.0,240.6 165.0,251.6 167.0,262.4 169.0,265.9 171.0,269.1 173.0,272.7 175.0,272.9 177.0,272.8 179.0,273.8 181.0,273.6 183.0,274.3 185.0,273.9 187.0,274.8 189.0,274.8 191.0,274.0 193.0,274.4 195.0,275.4 197.0,275.1 199.0,275.8 201.0,275.3 203.0,275.1 205.0,275.9 207.0,276.3 209.0,275.9 211.0,275.8 213.0,276.3 215.0,277.2 217.0,277.1 219.0,277.0" fill="none" stroke="#e52228" stroke-width="1.1" stroke-linejoin="round" stroke-linecap="round" />
<polyline points="86.0,276.0 92.7,276.0 102.1,275.9 110.0,275.5 114.6,274.5 117.7,273.2 120.7,272.5 123.8,273.0 126.7,274.1 130.0,275.0 134.4,276.3 139.1,277.2 143.0,275.0 145.3,270.0 146.7,261.7 147.8,246.0 148.9,218.4 149.7,183.3 150.5,150.0 151.4,116.2 152.3,84.2 153.2,70.0 154.1,84.2 155.0,116.2 156.0,150.0 157.2,183.4 158.5,218.5 160.0,246.0 160.9,261.1 161.8,268.6 165.0,273.4 171.7,276.1 180.6,276.1 190.0,276.0 200.4,276.7 211.3,277.4 219.0,277.8" fill="none" stroke="#e52228" stroke-width="8.8" stroke-linejoin="round" stroke-linecap="round" />
<path d="M272.5,180V262" stroke="#ee4b22" stroke-width="1" stroke-dasharray="1 1.6" opacity="0.3"/>
<path d="M299,170V240" stroke="#ee4b22" stroke-width="1" stroke-dasharray="1 1.6" opacity="0.3"/>
<path d="M309,66V200" stroke="#ee4b22" stroke-width="1" stroke-dasharray="1 1.6" opacity="0.3"/>
<path d="M312.5,66V190" stroke="#ee4b22" stroke-width="1" stroke-dasharray="1 1.6" opacity="0.3"/>
<path d="M316,66V200" stroke="#ee4b22" stroke-width="1" stroke-dasharray="1 1.6" opacity="0.3"/>
<path d="M319.5,66V180" stroke="#ee4b22" stroke-width="1" stroke-dasharray="1 1.6" opacity="0.3"/>
<path d="M323,66V150" stroke="#ee4b22" stroke-width="1" stroke-dasharray="1 1.6" opacity="0.3"/>
<path d="M327,66V175" stroke="#ee4b22" stroke-width="1" stroke-dasharray="1 1.6" opacity="0.3"/>
<path d="M331,66V150" stroke="#ee4b22" stroke-width="1" stroke-dasharray="1 1.6" opacity="0.3"/>
<path d="M336,66V120" stroke="#ee4b22" stroke-width="1" stroke-dasharray="1 1.6" opacity="0.3"/>
<path d="M340,66V110" stroke="#ee4b22" stroke-width="1" stroke-dasharray="1 1.6" opacity="0.3"/>
<path d="M345,66V100" stroke="#ee4b22" stroke-width="1" stroke-dasharray="1 1.6" opacity="0.3"/>
<path d="M369,140V220" stroke="#ee4b22" stroke-width="1" stroke-dasharray="1 1.6" opacity="0.3"/>
<path d="M371,150V230" stroke="#ee4b22" stroke-width="1" stroke-dasharray="1 1.6" opacity="0.3"/>
<polyline points="263.0,262.0 272.0,262.0 285.0,258.0 292.0,250.0 299.0,240.0 305.0,220.0 309.0,200.0" fill="none" stroke="#ee4b22" stroke-width="1.0" stroke-linejoin="round" stroke-linecap="round" stroke-dasharray="1 1.6" opacity="0.3"/>
<polyline points="372.0,230.0 380.0,255.0 385.0,270.0 390.0,276.0 396.0,274.0" fill="none" stroke="#ee4b22" stroke-width="1.0" stroke-linejoin="round" stroke-linecap="round" stroke-dasharray="1 1.6" opacity="0.3"/>
<polyline points="262.6,264.0 264.5,262.5 266.4,264.0 267.5,268.0 269.0,261.0 270.4,259.0 271.5,263.0 273.0,259.0 274.6,262.0 276.5,259.0 278.0,258.0 279.6,262.0 281.5,253.0 283.0,251.0 284.4,256.0 285.8,252.0 287.0,255.0 289.0,250.0 290.5,250.0 292.0,246.0 294.0,251.0 296.0,244.0 298.0,252.0 300.0,244.0 302.0,250.0 304.0,243.0 306.0,240.0 308.0,215.0 310.0,195.0 315.0,185.0 319.0,175.0 321.0,150.0 322.5,110.0 324.0,62.0" fill="none" stroke="#ee4b22" stroke-width="1.2" stroke-linejoin="round" stroke-linecap="round" />
<polyline points="343.8,62.0 345.1,87.0 348.0,120.0 352.0,160.0 354.6,200.0 356.0,217.0 357.5,226.0 359.5,215.0 361.0,212.0 362.0,230.0 363.5,248.0 366.0,252.0 368.0,256.0 370.0,262.0 372.0,268.0 374.0,271.5 376.0,269.0 378.5,261.0 380.0,270.0 382.5,268.0 385.0,265.0" fill="none" stroke="#ee4b22" stroke-width="1.2" stroke-linejoin="round" stroke-linecap="round" />
<polygon points="261.8,239.5 271.7,239.5 272.9,222.8 275.4,221.0 278.4,224.0 280.9,229.0 284.0,232.0 285.8,219.1 289.5,204.3 293.2,195.0 295.0,192.9 299.1,187.4 301.8,161.6 305.2,156.2 306.5,144.7 309.2,131.8 312.6,131.1 314.6,137.9 315.3,156.2 318.0,156.9 320.1,165.0 320.7,172.5 320.1,207.1 320.7,227.4 323.5,235.6 327.5,245.7 329.6,243.0 331.6,213.9 334.3,208.5 337.0,212.5 339.0,213.9 341.1,193.6 341.7,161.6 342.4,97.9 345.1,93.9 346.5,80.3 348.5,66.8 351.9,66.1 353.9,76.9 355.3,107.4 356.7,137.9 357.3,163.7 359.4,167.0 362.1,169.8 363.4,182.0 365.5,195.5 368.2,210.5 370.2,217.3 375.0,218.0 377.0,224.0 378.3,237.6 383.1,241.0 386.5,244.4 388.5,253.8 391.9,255.9 394.6,263.3 396.6,267.4 395.9,268.8 393.2,270.1 388.5,266.7 384.4,262.7 380.4,259.9 376.3,260.6 372.9,257.9 372.2,244.4 367.5,243.7 365.5,241.0 364.8,227.4 362.7,213.9 358.0,203.7 353.9,192.1 351.9,175.2 350.6,150.1 349.2,148.1 347.2,149.4 345.6,190.0 345.1,207.1 342.4,234.2 341.1,244.4 335.7,247.8 332.9,258.6 330.2,260.6 326.8,257.9 322.1,251.8 317.4,241.0 314.6,232.8 312.6,207.1 309.9,194.9 305.2,194.9 303.8,200.3 302.5,212.5 299.1,213.9 294.5,221.0 292.0,235.1 288.3,248.7 284.6,250.0 280.9,246.2 277.2,250.0 273.5,254.3 270.4,253.7 261.8,250.0" fill="#ee4b22" stroke="#ee4b22" stroke-width="3" stroke-linejoin="round"/>
<polyline points="440.0,274.0 480.0,268.0 495.0,230.0 500.0,150.0 503.0,110.0 506.0,120.0 508.0,72.0 511.0,150.0 516.0,220.0 525.0,262.0 572.0,273.0" fill="none" stroke="#ee4b22" stroke-width="1.0" stroke-linejoin="round" stroke-linecap="round" stroke-dasharray="1 1.6" opacity="0.45"/>
<polyline points="440.0,274.0 480.0,269.0 495.0,245.0 502.0,205.0 505.0,188.0 508.0,240.0 510.0,262.0 513.0,230.0 518.0,240.0 530.0,268.0 572.0,274.0" fill="none" stroke="#ee4b22" stroke-width="1.1" stroke-linejoin="round" stroke-linecap="round" />
<polyline points="439.4,272.8 443.4,272.9 449.3,273.2 455.7,273.2 461.6,272.8 466.9,271.9 472.2,270.6 477.1,268.9 481.3,266.6 484.6,263.6 487.1,260.1 489.2,256.1 491.1,251.8 492.7,247.3 493.9,242.4 495.0,237.2 496.0,232.0 497.1,226.2 498.1,220.0 499.0,214.3 499.8,210.0 500.5,206.9 501.0,204.7 501.5,204.2 502.0,206.5 502.7,213.1 503.4,223.1 504.1,233.7 504.7,242.0 505.2,248.1 505.5,253.1 505.9,256.3 506.4,256.7 507.1,252.9 507.9,245.9 508.7,238.0 509.6,232.0 510.5,227.9 511.4,224.5 512.4,222.5 513.3,222.3 514.2,224.6 515.1,228.9 516.0,234.2 517.0,239.5 518.0,245.0 519.0,251.1 520.2,257.0 521.9,261.7 524.0,264.9 526.5,267.2 529.5,268.8 533.0,270.3 537.3,271.6 542.3,272.4 547.6,273.1 552.7,273.5 558.1,273.7 563.8,273.7 568.9,273.6 572.4,273.5" fill="none" stroke="#ee4b22" stroke-width="8.8" stroke-linejoin="round" stroke-linecap="round" />
<polyline points="615.0,272.0 650.0,270.0 660.0,250.0 668.0,205.0 672.0,180.0 676.0,250.0 684.0,268.0 690.0,150.0 692.0,72.0 695.0,150.0 700.0,230.0 712.0,260.0 725.0,262.0 746.0,270.0" fill="none" stroke="#ee4b22" stroke-width="1.0" stroke-linejoin="round" stroke-linecap="round" stroke-dasharray="1 1.6" opacity="0.45"/>
<polyline points="615.0,269.2 617.1,270.2 619.1,269.8 621.2,270.2 623.2,268.6 625.3,268.3 627.4,269.1 629.4,268.7 631.5,267.7 633.5,268.3 635.6,267.4 637.6,268.0 639.7,266.4 641.8,266.4 643.8,267.5 645.9,266.2 647.9,265.8 650.0,266.6 652.0,262.8 654.0,258.3 656.0,255.6 658.0,252.3 660.0,247.8 662.0,245.3 664.0,238.0 666.0,232.2 668.0,225.4 670.0,219.4 672.5,211.0 675.0,199.8 677.5,231.0 680.0,259.9 682.0,261.9 684.0,264.1 686.0,265.4 688.0,211.7 690.0,160.2 692.0,125.3 695.0,159.4 697.5,174.2 700.0,190.7 702.0,200.0 704.0,209.4 706.0,219.9 708.0,229.4 710.0,235.6 712.0,240.0 714.0,244.2 716.0,250.6 718.0,250.9 720.0,253.0 722.0,254.2 724.0,257.3 726.0,257.8 728.0,260.3 730.0,261.2 732.0,263.0 734.0,264.4 736.0,265.1 738.0,265.9 740.0,267.0 742.0,267.9 744.0,269.2 746.0,270.0" fill="none" stroke="#ee4b22" stroke-width="1.1" stroke-linejoin="round" stroke-linecap="round" />
<polyline points="615.5,269.3 617.2,266.4 619.0,268.9 620.6,267.3 622.3,270.1 624.0,267.2 625.8,270.1 627.6,269.6 629.4,270.3 630.9,270.7 632.5,268.2 634.0,268.5 635.9,269.4 637.7,267.8 639.4,267.4 641.1,266.9 644.0,267.6 646.3,265.2 647.8,260.8 648.7,253.6 649.3,250.3 650.0,244.4 650.8,240.3 651.6,238.4 652.5,236.2 653.7,233.3 655.3,234.1 657.3,233.6 659.3,233.5 661.0,231.1 662.4,222.3 663.5,210.6 664.6,200.7 666.0,191.6 667.8,182.2 669.9,176.7 671.8,168.6 673.4,166.8 674.4,167.9 675.0,173.9 675.4,179.4 675.9,188.5 676.4,201.0 676.9,219.8 677.5,239.1 678.3,250.5 679.4,260.0 680.6,266.7 682.0,271.7 683.3,272.6 684.5,266.7 685.8,257.0 687.0,245.3 688.2,231.0 689.4,217.4 690.7,196.6 691.9,177.5 693.0,162.4 694.0,152.2 695.0,140.9 695.9,135.8 696.8,130.5 697.7,131.9 698.7,135.8 699.6,145.4 700.5,151.7 701.4,156.5 702.3,161.3 703.3,169.5 704.2,177.6 705.1,190.5 705.9,204.5 706.8,217.2 708.0,226.3 709.5,232.3 711.3,239.4 713.1,242.7 715.0,243.3 716.9,247.3 718.8,249.6 720.8,253.4 722.7,252.8 724.6,255.9 726.4,261.6 728.2,264.0 730.0,266.5 731.8,270.2 733.6,272.3 735.5,274.7 737.4,274.4 739.7,273.5 742.2,271.7 744.4,271.0 746.0,270.3" fill="none" stroke="#ee4b22" stroke-width="10" stroke-linejoin="round" stroke-linecap="round" />
<polyline points="794.0,204.0 821.0,212.0 848.0,268.0 870.0,268.0 881.0,190.0 886.0,178.0 895.0,150.0 905.0,140.0 913.0,125.0 918.0,135.0 924.0,140.0" fill="none" stroke="#1b8043" stroke-width="1.0" stroke-linejoin="round" stroke-linecap="round" stroke-dasharray="1 1.6" opacity="0.35"/>
<polyline points="794.4,206.1 796.4,206.8 798.5,207.2 800.5,207.8 802.6,208.2 804.6,209.1 806.7,209.0 808.7,210.1 810.8,209.6 812.8,210.6 814.9,211.2 816.9,211.4 819.0,212.9 821.0,212.7 823.2,216.3 825.4,219.4 827.6,221.2 829.8,225.1 832.0,227.8 834.2,233.6 836.5,238.6 838.7,245.3 840.9,251.6 843.1,257.1 845.4,263.0 847.6,269.2 849.6,269.1 851.6,270.0 853.7,269.3 855.7,269.4 857.7,269.7 859.7,270.2 861.7,269.2 863.7,268.8 865.8,270.3 867.8,270.0 869.8,270.0 872.0,254.4 874.2,238.9 876.4,223.6 878.6,208.8 880.8,193.9 883.0,187.8 885.3,183.3 887.5,177.8 889.7,171.1 891.9,166.9 894.1,160.8 896.3,157.6 898.5,153.0 900.8,149.6 903.0,145.2 905.2,141.8 907.5,137.9 909.7,133.4 913.0,144.7 915.5,143.2 918.0,141.8 920.5,145.7 923.0,149.8" fill="none" stroke="#1b8043" stroke-width="1.1" stroke-linejoin="round" stroke-linecap="round" />
<polyline points="794.4,218.5 795.0,217.5 795.9,216.1 797.1,214.8 798.8,214.0 801.1,213.9 803.9,214.2 807.0,215.0 809.9,216.3 812.7,218.4 815.6,221.1 818.4,224.2 821.0,227.3 823.4,230.4 825.7,233.7 827.9,237.1 829.9,240.6 831.7,244.4 833.3,248.4 834.9,252.4 836.5,256.2 838.2,259.9 839.9,263.6 841.5,266.9 843.2,269.5 844.6,271.1 845.8,272.0 847.4,272.4 849.8,272.8 853.7,273.1 858.6,273.2 863.6,273.1 867.5,272.8 870.0,272.9 871.5,273.1 872.8,272.4 874.2,269.5 875.9,263.7 877.6,255.8 879.3,247.0 880.8,238.4 882.1,230.5 883.2,222.6 884.2,214.3 885.3,205.2 886.4,194.6 887.6,183.0 888.7,171.4 889.7,160.8 890.6,151.6 891.3,143.1 892.1,135.2 893.0,127.6 894.0,120.3 895.1,113.5 896.3,107.0 897.5,101.0 898.8,95.3 900.2,90.0 901.6,85.1 903.0,81.0 904.4,77.5 905.7,74.7 907.1,72.5 908.5,71.1 909.9,70.8 911.4,71.4 912.8,72.4 914.1,73.3 915.3,73.8 916.3,74.2 917.3,75.0 918.5,76.6 919.9,79.8 921.6,84.0 923.1,88.2 924.1,91.0" fill="none" stroke="#1b8043" stroke-width="8.8" stroke-linejoin="round" stroke-linecap="round" />
<polyline points="972.2,152.0 991.7,143.1 1013.9,126.5 1025.0,152.0 1036.0,249.5 1049.3,138.7 1058.2,94.3 1071.5,83.3 1080.4,87.7 1093.7,78.8 1101.0,78.0" fill="none" stroke="#1a6a37" stroke-width="1.0" stroke-linejoin="round" stroke-linecap="round" stroke-dasharray="1 1.6" opacity="0.35"/>
<polyline points="972.2,170.0 974.4,169.1 976.5,168.0 978.7,165.5 980.9,164.9 983.0,163.4 985.2,161.9 987.4,159.7 989.5,158.1 991.7,157.3 993.9,158.3 996.1,157.8 998.3,158.6 1000.5,156.8 1002.8,156.2 1005.0,154.9 1007.2,152.4 1009.5,151.6 1011.7,148.5 1013.9,148.0 1016.6,149.3 1019.4,149.2 1022.0,176.0 1024.6,201.6 1027.2,228.0 1029.4,235.7 1031.6,245.1 1033.8,254.5 1036.0,263.0 1038.2,259.2 1040.5,255.5 1042.7,253.5 1044.9,249.5 1047.1,225.1 1049.3,198.6 1051.5,174.5 1053.7,164.9 1056.0,155.5 1058.2,144.5 1060.4,140.7 1062.6,135.7 1064.8,132.4 1067.0,127.4 1069.2,125.2 1071.4,121.2 1073.7,118.7 1075.9,115.8 1078.1,111.7 1080.3,113.7 1082.6,115.8 1084.8,116.5 1087.0,116.3 1089.2,116.1 1091.5,117.0 1093.7,116.0 1095.9,116.7 1098.7,110.5 1101.4,104.3" fill="none" stroke="#1a6a37" stroke-width="1.1" stroke-linejoin="round" stroke-linecap="round" />
<polyline points="972.2,170.8 973.2,169.8 974.6,168.3 976.4,166.7 978.4,165.3 980.9,164.2 983.9,163.3 986.9,162.2 989.5,160.8 991.5,158.8 993.1,156.4 994.6,154.0 996.1,152.0 997.5,150.3 998.8,148.8 1000.2,147.7 1001.7,147.5 1003.5,148.2 1005.5,149.6 1007.5,151.6 1009.4,154.2 1011.1,157.0 1012.8,160.1 1014.5,164.2 1016.1,169.7 1017.8,177.1 1019.4,185.9 1021.0,195.6 1022.7,205.2 1024.4,215.3 1026.0,226.1 1027.7,236.3 1029.4,245.0 1031.0,252.0 1032.6,257.9 1034.2,262.3 1036.0,265.0 1038.1,265.5 1040.5,264.1 1042.8,261.5 1044.9,258.4 1046.7,255.1 1048.3,251.3 1049.9,246.5 1051.5,240.6 1053.1,233.5 1054.7,225.2 1056.4,215.9 1058.2,205.2 1060.2,192.1 1062.5,176.9 1064.7,162.1 1067.0,149.8 1069.3,140.8 1071.7,133.9 1074.0,128.2 1075.9,123.2 1077.2,118.8 1078.0,115.3 1078.9,112.4 1080.4,109.9 1082.8,107.8 1085.8,106.3 1088.9,104.9 1091.4,103.2 1093.2,101.3 1094.7,99.3 1095.9,97.0 1097.0,94.3 1098.0,90.7 1098.9,86.5 1099.7,82.4 1100.3,78.8 1100.8,75.9 1101.1,73.4 1101.3,71.4 1101.4,70.0" fill="none" stroke="#1a6a37" stroke-width="8.8" stroke-linejoin="round" stroke-linecap="round" />
<polyline points="1147.0,262.0 1180.0,256.0 1188.0,248.0 1200.0,262.0 1225.0,270.0 1235.5,215.0 1242.0,210.0 1252.0,233.0 1267.0,243.0 1280.0,245.0" fill="none" stroke="#1a6a37" stroke-width="1.0" stroke-linejoin="round" stroke-linecap="round" stroke-dasharray="1 1.6" opacity="0.35"/>
<polyline points="1147.4,259.5 1149.4,260.2 1151.5,259.3 1153.5,258.8 1155.5,259.2 1157.6,259.0 1159.6,258.7 1161.6,258.4 1163.7,257.8 1165.7,257.6 1167.7,258.2 1169.8,257.3 1171.8,257.7 1173.8,257.7 1175.9,257.7 1177.9,257.6 1179.9,254.1 1181.9,252.1 1184.0,251.1 1186.0,248.8 1188.0,246.0 1190.0,251.4 1192.1,256.3 1194.1,260.7 1196.2,264.0 1198.2,268.6 1200.3,268.4 1202.4,270.7 1204.5,269.6 1206.7,271.0 1208.8,271.0 1210.9,271.5 1213.0,271.8 1215.1,272.8 1217.2,272.7 1219.4,272.5 1221.5,272.5 1223.6,273.7 1225.9,253.1 1228.1,230.1 1230.4,209.7 1233.0,182.4 1235.5,154.3 1237.7,159.0 1240.0,164.5 1242.2,168.6 1245.6,195.6 1247.9,186.7 1250.1,176.9 1252.4,169.1 1255.0,184.1 1257.5,199.3 1259.6,205.7 1261.8,213.4 1263.9,220.2 1266.0,226.4 1268.0,223.4 1270.0,221.5 1272.1,219.4 1274.1,217.2 1276.1,216.3 1280.0,224.0" fill="none" stroke="#1a6a37" stroke-width="1.1" stroke-linejoin="round" stroke-linecap="round" />
<polyline points="1147.4,253.7 1148.9,255.2 1151.2,256.2 1152.7,256.5 1154.2,256.4 1156.3,257.2 1158.3,254.7 1159.9,253.5 1161.6,252.9 1163.2,252.0 1164.7,251.3 1166.2,250.3 1167.7,249.1 1169.6,248.6 1171.5,247.6 1173.2,247.2 1174.9,245.4 1177.9,242.2 1180.3,237.8 1182.3,233.0 1184.0,227.7 1185.4,224.4 1186.7,221.1 1188.0,219.3 1189.6,221.5 1191.4,228.5 1193.1,235.3 1194.7,242.6 1196.4,252.5 1198.2,259.6 1200.2,266.9 1202.4,271.2 1205.0,274.4 1206.6,275.8 1208.2,275.2 1210.0,276.4 1211.7,277.3 1213.4,277.6 1215.1,276.7 1216.6,276.6 1218.2,278.2 1221.1,277.1 1223.6,274.2 1225.6,262.5 1227.3,249.0 1228.7,229.6 1230.0,200.0 1231.0,167.2 1232.1,141.6 1233.3,131.3 1234.5,130.4 1235.5,125.6 1236.0,112.6 1236.4,95.3 1237.1,82.9 1238.5,78.9 1240.4,77.3 1242.2,77.7 1244.0,73.8 1245.7,70.6 1247.3,70.0 1248.6,70.5 1249.6,73.4 1250.7,80.5 1251.8,97.4 1253.0,121.3 1254.1,140.5 1255.2,156.7 1256.2,171.4 1257.5,182.8 1259.0,190.1 1260.8,196.7 1262.5,202.5 1264.3,204.8 1266.0,203.3 1267.6,205.8 1268.8,211.1 1269.8,217.8 1271.0,222.1 1272.6,220.4 1274.5,215.8 1276.1,211.8 1277.5,214.2 1278.7,218.0 1279.5,219.5" fill="none" stroke="#1a6a37" stroke-width="9.6" stroke-linejoin="round" stroke-linecap="round" />
<polyline points="1323.5,270.0 1360.0,266.0 1385.0,258.0 1395.0,230.0 1403.0,192.0 1410.0,200.0 1418.0,240.0 1440.0,262.0 1455.0,266.0" fill="none" stroke="#1a6a37" stroke-width="1.0" stroke-linejoin="round" stroke-linecap="round" stroke-dasharray="1 1.6" opacity="0.35"/>
<polyline points="1323.5,269.8 1325.5,269.3 1327.6,269.4 1329.6,269.6 1331.7,268.2 1333.7,268.9 1335.7,269.3 1337.8,269.2 1339.8,268.5 1341.8,267.6 1343.9,268.1 1345.9,269.1 1348.0,267.3 1350.0,267.6 1352.1,267.5 1354.3,265.1 1356.4,263.3 1358.5,262.1 1360.7,261.9 1362.8,259.4 1364.9,258.2 1367.0,257.2 1369.2,256.1 1371.3,254.1 1373.4,251.9 1375.6,251.5 1377.7,249.1 1379.7,253.9 1381.7,258.9 1383.8,264.6 1385.8,268.5 1387.8,274.1 1389.8,261.5 1391.9,249.9 1393.9,238.1 1396.0,228.0 1398.0,216.7 1400.5,193.4 1403.1,171.5 1405.5,177.5 1408.0,185.3 1410.3,192.0 1412.6,199.1 1414.8,207.6 1417.1,214.9 1419.4,222.1 1421.7,228.9 1423.8,233.2 1425.9,236.3 1428.0,239.4 1430.2,242.1 1432.3,247.0 1434.4,250.1 1436.5,253.1 1438.6,257.0 1440.9,253.6 1443.1,250.6 1445.4,247.5 1447.4,252.1 1449.5,255.4 1451.5,258.8 1453.6,263.4 1455.6,266.0" fill="none" stroke="#1a6a37" stroke-width="1.1" stroke-linejoin="round" stroke-linecap="round" />
<polyline points="1323.5,265.2 1325.9,266.0 1329.4,267.2 1333.3,268.3 1337.0,268.6 1340.5,268.1 1344.0,267.1 1347.4,265.6 1350.6,263.5 1353.4,260.6 1355.9,257.1 1358.3,253.3 1360.8,250.0 1363.4,247.2 1366.1,244.6 1368.6,242.2 1370.9,239.8 1372.9,236.9 1374.6,233.7 1376.2,231.5 1377.7,231.3 1379.1,233.9 1380.4,238.6 1381.6,244.3 1382.8,250.0 1384.1,256.4 1385.3,263.9 1386.5,270.3 1387.8,273.7 1389.1,274.2 1390.3,272.6 1391.6,268.2 1392.9,260.1 1394.2,247.4 1395.6,230.7 1396.8,211.8 1398.0,192.4 1399.0,171.3 1399.8,148.0 1400.6,125.8 1401.4,107.7 1402.2,94.1 1403.1,83.5 1403.9,76.1 1404.8,72.2 1405.7,72.3 1406.7,76.1 1407.8,82.6 1408.8,90.8 1409.8,101.0 1410.8,113.6 1411.9,127.4 1413.2,141.6 1414.7,156.6 1416.3,172.7 1418.1,188.5 1420.0,202.5 1422.0,214.8 1424.0,226.0 1426.2,235.7 1428.5,243.2 1430.9,247.9 1433.4,250.2 1436.0,251.5 1438.6,253.3 1441.2,256.0 1443.9,258.9 1446.5,261.5 1448.8,263.5 1450.9,264.8 1452.8,265.5 1454.5,265.9 1455.6,266.2" fill="none" stroke="#1a6a37" stroke-width="8.8" stroke-linejoin="round" stroke-linecap="round" />
<polyline points="1500.0,235.0 1530.0,215.0 1548.0,180.0 1556.0,170.0 1560.5,72.0 1563.0,200.0 1575.0,190.0 1585.0,185.0 1600.0,200.0 1620.0,230.0 1632.0,240.0" fill="none" stroke="#fbbd4c" stroke-width="1.0" stroke-linejoin="round" stroke-linecap="round" stroke-dasharray="1 1.6" opacity="0.12"/>
<polygon points="1499.6,224.2 1502.2,218.1 1506.2,224.2 1511.3,218.1 1515.3,215.1 1520.4,220.2 1524.5,226.2 1527.5,224.2 1529.5,206.0 1532.6,191.8 1534.6,196.8 1538.7,197.9 1542.7,183.7 1544.7,167.5 1547.8,151.2 1552.8,151.2 1555.9,161.4 1558.9,165.4 1561.0,181.6 1562.0,207.0 1563.0,232.3 1565.0,247.5 1567.0,256.7 1571.1,258.7 1575.1,256.7 1578.2,243.5 1581.2,240.4 1586.3,238.4 1591.4,236.4 1596.4,234.4 1601.5,232.3 1606.6,236.4 1611.6,239.4 1615.7,234.4 1619.8,224.2 1622.8,207.0 1625.8,205.0 1628.9,208.0 1630.9,218.1 1632.9,221.2 1632.9,237.4 1629.9,244.5 1626.8,238.4 1622.8,240.4 1620.8,242.5 1616.7,250.6 1611.6,251.6 1606.6,250.6 1601.5,252.6 1596.4,252.6 1591.4,253.6 1586.3,255.6 1581.2,258.7 1578.2,260.7 1575.1,268.8 1571.1,268.8 1567.0,269.8 1564.0,267.8 1561.0,258.7 1558.9,246.5 1556.9,222.2 1554.9,201.9 1552.8,186.7 1549.8,185.7 1546.8,201.9 1543.7,214.1 1540.7,211.0 1536.6,214.1 1533.6,220.2 1530.5,232.3 1527.5,241.4 1524.5,241.4 1520.4,240.4 1516.4,242.5 1511.3,247.5 1507.2,248.5 1503.2,234.4 1499.6,234.4" fill="#fbbd4c" stroke="#fbbd4c" stroke-width="3" stroke-linejoin="round"/>
<polyline points="85.1,565.1 86.6,606.6 88.6,592.4 90.7,597.5 93.2,577.2 96.2,564.1 98.8,589.4 101.3,551.9 103.3,531.6 105.9,421.1 107.9,541.8 110.4,588.4 112.5,599.5 115.0,582.3 117.5,565.1 120.6,592.4 123.6,602.6 126.7,582.3 130.7,541.8 134.8,519.5 136.8,511.4 139.8,541.8 143.4,453.6 145.9,541.8 149.0,587.4 152.0,602.6 155.0,612.7 158.1,592.4 160.6,541.8 163.1,592.4 166.7,557.0 169.2,602.6 172.3,582.3 175.3,567.1 178.3,562.0 181.9,528.6 184.4,551.9 187.5,572.2 191.5,592.4 195.6,606.6 199.6,592.4 203.7,597.5 207.7,582.3 210.3,599.5 212.8,562.0" fill="none" stroke="#fbbd4c" stroke-width="1.1" stroke-linejoin="round" stroke-linecap="round" />
<polyline points="101.3,505.0 102.1,538.0 102.9,505.0 103.7,538.0 104.5,505.0 105.3,538.0 106.1,505.0 106.9,538.0 107.7,505.0 108.5,538.0 109.3,505.0 110.1,538.0 110.9,505.0 111.7,538.0 112.5,505.0 113.3,538.0 114.1,505.0 114.9,538.0 115.7,505.0 116.5,538.0 117.3,505.0 118.1,538.0 118.9,505.0 119.7,538.0 120.5,505.0 121.3,538.0 122.1,505.0 122.9,538.0 123.7,505.0 124.5,538.0 125.3,505.0 126.1,538.0 126.9,505.0 127.7,538.0 128.5,505.0 129.3,538.0" fill="none" stroke="#fbbd4c" stroke-width="3.5" stroke-linejoin="round" stroke-linecap="round" />
<polyline points="83.0,518.0 83.8,550.0 84.6,518.0 85.4,550.0 86.2,518.0 87.0,550.0 87.8,518.0 88.6,550.0 89.4,518.0 90.2,550.0 91.0,518.0 91.8,550.0 92.6,518.0 93.4,550.0 94.2,518.0 95.0,550.0 95.8,518.0 96.6,550.0 97.4,518.0 98.2,550.0" fill="none" stroke="#fbbd4c" stroke-width="3.5" stroke-linejoin="round" stroke-linecap="round" />
<polyline points="82.1,555.8 82.9,539.6 84.1,522.3 85.5,514.6 87.1,514.6 88.7,516.1 90.2,521.6 91.1,531.0 92.2,541.2 94.1,545.3 96.2,546.2 97.9,551.4 99.3,548.9 100.2,526.5 101.3,504.7 103.7,501.2 106.4,504.3 108.3,506.3 110.4,506.0 112.0,501.8 113.6,499.7 116.5,497.4 117.8,521.4 118.5,542.0 119.3,528.3 120.6,507.0 123.6,504.8 125.1,505.0 126.7,506.4 128.5,506.6 129.7,511.0 130.6,529.9 131.7,551.8 133.7,563.4 135.8,572.4 137.3,585.4 138.8,597.8 140.9,602.9 142.9,607.0 144.5,613.3 145.9,618.4 147.4,615.4 149.0,611.9 150.9,610.1 153.0,609.8 155.0,614.2 157.1,617.9 159.6,614.7 162.1,608.4 164.1,605.1 166.2,602.2 168.6,599.6 171.2,598.1 173.7,594.9 176.3,591.9 178.9,590.9 181.4,591.0 184.1,585.2 186.5,581.0 188.0,583.4 189.5,587.5 191.9,583.6 194.6,576.4 197.2,573.6 199.6,566.4 201.3,553.1 202.7,537.8 204.2,537.8 205.7,540.8 207.1,546.5 208.7,550.3 211.4,552.4 213.8,551.9" fill="none" stroke="#fbbd4c" stroke-width="8.5" stroke-linejoin="round" stroke-linecap="round" />
<polyline points="263.8,592.6 265.9,592.1 268.0,589.3 270.1,590.9 272.2,587.6 274.3,588.1 276.4,585.5 278.5,586.6 280.6,584.0 282.7,584.7 284.8,583.9 286.9,583.2 289.0,581.3 291.1,581.7 293.2,581.2 295.3,577.7 297.4,578.1 300.0,577.6 302.5,575.2 305.1,572.5 307.7,565.2 310.3,560.3 312.9,550.8 315.5,541.2 318.1,529.8 320.7,537.4 323.3,547.5 327.0,614.4 329.1,606.8 331.2,597.9 333.3,591.1 335.4,582.8 337.6,572.6 339.7,565.9 341.8,555.1 343.9,546.8 345.9,550.7 347.9,553.3 349.9,555.5 351.9,558.2 354.0,560.0 356.0,560.4 358.0,564.0 360.0,566.7 362.0,566.4 364.2,569.6 366.3,570.6 368.5,572.6 370.6,575.7 372.8,578.3 374.9,581.2 377.1,580.7 379.3,583.9 381.4,587.4 383.6,588.7 385.7,590.1 387.9,591.2 390.4,588.9 393.0,585.0" fill="none" stroke="#f1e31c" stroke-width="1.1" stroke-linejoin="round" stroke-linecap="round" />
<polyline points="263.8,590.3 264.9,587.5 266.6,580.5 268.9,574.2 270.4,577.8 272.0,578.0 273.8,578.1 275.6,584.2 277.5,583.1 279.3,584.9 281.1,585.5 282.8,586.2 284.6,583.6 286.4,585.1 288.0,583.8 289.6,580.5 292.5,574.9 295.1,565.1 297.4,555.9 299.3,542.2 301.0,531.0 302.6,520.9 304.4,512.3 306.1,510.1 307.7,500.8 309.1,486.3 310.3,473.5 311.6,458.7 312.9,443.8 314.1,430.3 315.5,422.6 317.2,417.4 319.1,420.3 320.7,428.0 321.8,443.9 322.5,471.2 323.3,493.4 324.1,520.1 324.9,550.0 325.8,571.6 326.9,592.5 328.2,609.7 329.7,619.0 331.7,619.5 334.0,612.8 336.2,603.7 338.0,590.9 339.7,580.6 341.4,566.7 343.0,556.9 344.6,551.1 346.5,548.2 348.9,546.5 351.6,547.4 354.3,549.4 356.9,549.4 359.4,552.3 362.0,554.0 364.5,558.1 367.0,565.1 369.8,571.1 371.5,575.8 373.1,579.0 375.0,580.7 376.8,580.6 378.4,582.3 380.1,587.5 383.0,589.9 385.6,593.4 387.9,596.3 390.0,591.9 391.8,583.8 393.1,577.9" fill="none" stroke="#f1e31c" stroke-width="11.5" stroke-linejoin="round" stroke-linecap="round" />
<polyline points="440.0,578.0 470.0,592.0 500.0,600.0 520.0,610.0 540.0,597.0 570.0,580.0" fill="none" stroke="#6cc9a5" stroke-width="1.0" stroke-linejoin="round" stroke-linecap="round" stroke-dasharray="1 1.6" opacity="0.35"/>
<polyline points="440.6,563.9 442.7,561.8 444.8,561.3 446.9,561.9 449.1,559.8 451.2,561.4 453.3,560.8 455.4,558.1 457.5,560.9 459.5,561.2 461.6,562.4 463.6,564.2 465.7,565.1 467.7,564.2 469.8,566.3 471.8,566.9 473.9,568.3 476.0,564.9 478.1,567.1 480.2,564.4 482.4,563.6 484.5,564.4 486.6,564.6 488.7,564.4 490.9,559.7 493.1,558.1 495.3,552.8 497.5,552.7 499.7,547.8 502.2,564.5 504.6,579.3 507.1,595.0 509.6,601.1 512.0,609.0 514.5,615.1 517.0,602.3 519.4,588.9 521.9,574.1 524.0,570.1 526.1,562.8 528.2,559.6 530.4,552.4 532.5,549.2 534.6,542.2 536.7,537.1 538.9,541.8 541.1,544.9 543.4,549.3 545.6,555.2 547.8,560.1 550.1,560.9 552.4,564.8 554.7,567.4 557.0,571.4 559.5,565.9 561.9,557.0 564.4,552.2 566.9,546.0 569.3,543.1 571.8,537.3" fill="none" stroke="#6cc9a5" stroke-width="1.1" stroke-linejoin="round" stroke-linecap="round" />
<polyline points="440.6,563.8 442.5,557.6 445.3,549.3 448.0,536.1 450.5,524.5 453.1,515.6 455.4,503.4 457.4,496.3 459.3,492.5 461.0,484.3 462.6,479.2 464.1,469.4 465.8,465.4 467.7,476.3 469.8,488.2 472.0,498.7 474.3,511.3 476.7,519.8 479.4,527.2 480.9,529.5 482.4,533.5 484.1,531.6 485.7,537.5 487.2,538.9 488.7,540.0 491.3,548.9 493.6,556.4 496.0,567.5 498.5,580.0 500.9,592.8 503.4,602.2 505.9,610.9 508.3,615.6 510.8,619.6 513.3,620.0 515.7,616.3 518.2,607.6 520.7,591.3 523.1,574.0 525.6,554.9 528.1,545.2 530.5,531.3 533.0,524.4 535.5,511.3 538.1,505.5 540.4,492.4 542.5,476.5 544.4,456.6 545.9,440.5 546.9,430.0 547.6,424.1 548.5,422.2 549.8,434.0 551.3,454.8 553.3,469.5 556.1,481.3 557.8,486.5 559.4,491.0 561.0,494.4 562.5,501.5 565.4,512.4 568.0,523.2 569.9,533.6" fill="none" stroke="#6cc9a5" stroke-width="11" stroke-linejoin="round" stroke-linecap="round" />
<polyline points="618.0,609.3 658.6,612.0 680.8,614.0 747.2,612.0" fill="none" stroke="#8689c8" stroke-width="1.0" stroke-linejoin="round" stroke-linecap="round" stroke-dasharray="1 1.6" opacity="0.35"/>
<polyline points="618.0,580.7 620.0,580.7 622.1,581.8 624.1,580.8 626.2,580.7 628.2,581.5 630.3,581.4 632.3,580.9 634.4,581.3 636.4,582.4 638.4,581.2 640.4,581.9 642.5,582.0 644.5,583.0 646.5,583.2 648.5,585.8 650.5,584.7 652.5,586.8 654.6,585.3 656.6,587.7 658.6,587.2 661.1,588.3 663.5,588.8 666.0,588.4 668.1,593.6 670.2,600.0 672.3,604.0 674.5,609.0 676.6,616.1 678.7,621.0 680.8,625.4 682.9,625.0 685.0,624.9 687.1,622.3 689.2,620.9 691.3,620.5 693.4,618.9 695.5,618.3 697.6,616.7 699.6,617.6 701.7,616.9 703.7,615.0 705.8,614.2 707.8,613.1 709.9,613.9 711.9,612.9 714.0,611.6 716.1,609.6 718.1,608.8 720.2,609.4 722.2,607.2 724.3,607.5 726.3,606.1 728.4,604.3 730.4,603.9 732.5,604.8 734.6,602.3 736.7,602.1 738.8,601.3 740.9,599.3 743.0,598.5 745.1,598.3 747.2,596.4" fill="none" stroke="#8689c8" stroke-width="1.1" stroke-linejoin="round" stroke-linecap="round" />
<polyline points="618.0,493.1 618.8,484.6 620.0,474.8 621.6,462.8 623.9,455.4 626.6,447.8 629.0,441.1 630.6,433.7 632.0,422.5 633.5,420.8 635.5,428.7 637.8,443.6 640.1,457.4 642.5,461.0 645.0,464.6 647.5,466.9 650.0,470.2 652.6,471.9 654.9,477.3 656.9,490.9 658.6,507.3 660.4,523.3 662.2,532.9 664.0,540.6 666.0,552.6 668.3,567.3 670.9,585.6 673.4,599.3 675.7,609.4 678.1,616.8 680.8,618.6 682.6,618.2 684.3,617.1 686.3,613.7 688.3,610.9 690.0,606.9 691.8,604.1 694.5,597.9 696.9,588.4 699.2,582.8 701.7,573.3 704.1,564.4 706.6,554.8 708.9,542.3 711.3,527.3 714.0,518.5 715.7,517.8 717.4,517.7 719.3,518.7 721.3,521.5 723.2,521.8 725.1,522.0 727.0,523.4 728.8,522.8 730.7,523.0 732.5,521.8 734.4,521.3 736.2,518.0 738.2,515.9 740.3,515.5 742.3,509.9 744.4,509.5 747.2,504.1" fill="none" stroke="#8689c8" stroke-width="9.6" stroke-linejoin="round" stroke-linecap="round" />
<polyline points="852.0,420.0 852.0,630.0 856.0,420.0 856.0,630.0 862.0,420.0 862.0,630.0 868.0,420.0 868.0,630.0 874.0,430.0 874.0,630.0 880.0,425.0 880.0,630.0 915.0,590.0 915.0,630.0 920.0,595.0 920.0,630.0" fill="none" stroke="#d05858" stroke-width="1.0" stroke-linejoin="round" stroke-linecap="round" stroke-dasharray="1 1.6" opacity="0.35"/>
<polyline points="791.6,626.1 793.6,625.3 795.6,624.4 797.7,626.1 799.7,624.7 801.7,624.7 803.7,625.1 805.7,625.7 807.8,626.6 809.8,624.9 811.8,626.4 813.8,626.3 815.9,624.0 817.9,623.3 819.9,623.5 821.9,625.4 823.9,624.6 826.0,625.5 828.0,625.5 830.0,624.5 832.0,617.7 834.0,609.9 836.0,603.4 838.0,599.3 840.0,592.5 842.0,586.4 844.0,579.4 846.0,573.3 848.0,566.8 850.0,561.2 852.1,535.5 854.1,513.3 856.2,489.4 860.0,561.0 862.0,569.1 864.0,575.3 866.0,582.7 868.0,591.2 870.0,599.4 872.0,601.8 874.0,601.7 876.0,603.7 878.0,603.4 880.0,605.1 882.0,605.1 884.0,607.4 886.0,608.0 888.0,610.1 890.0,611.3 892.0,610.9 894.0,610.3 896.0,613.7 898.0,614.5 900.0,613.9 902.0,614.8 904.0,616.9 906.0,615.7 908.0,616.5 910.0,618.6 912.1,619.7 914.2,620.8 916.3,622.4 918.3,622.6 920.4,623.5 922.5,624.0 924.6,626.0" fill="none" stroke="#d05858" stroke-width="1.1" stroke-linejoin="round" stroke-linecap="round" />
<polyline points="791.6,626.5 793.2,618.5 794.8,610.9 796.9,604.3 799.0,595.5 800.9,599.0 802.7,603.0 804.6,608.1 806.4,610.3 808.2,605.1 810.0,598.2 811.9,588.7 813.7,581.7 815.5,577.0 817.4,572.4 819.2,574.8 821.1,573.2 822.9,587.9 824.7,605.2 826.6,616.6 828.5,628.9 830.0,623.2 831.5,617.2 833.0,612.6 834.6,603.2 836.2,595.7 837.8,589.2 839.4,594.4 841.0,600.7 842.6,605.6 844.8,607.6 847.0,610.4 850.0,552.5 852.5,498.0 855.4,526.3 858.1,556.4 860.4,484.6 862.5,421.4 864.8,476.7 867.3,556.6 870.1,583.7 872.9,595.6 875.7,618.5 878.4,617.9 881.3,546.1 883.9,488.9 885.6,557.2 887.6,618.3 889.5,570.3 891.3,522.1 893.2,476.9 895.0,431.4 897.1,513.7 898.7,610.8 900.4,583.2 902.4,543.9 904.9,579.5 906.4,600.9 908.0,622.8 910.2,624.5 912.5,628.0 914.1,628.9 915.6,627.2 917.2,626.5 919.3,626.0 921.5,627.8 923.0,630.0 924.6,629.7" fill="none" stroke="#d05858" stroke-width="9.6" stroke-linejoin="round" stroke-linecap="round" />
<polyline points="969.4,611.5 971.6,609.3 973.7,606.8 975.9,607.3 978.0,601.9 980.2,600.2 982.3,593.4 984.5,592.9 986.6,597.9 988.8,599.0 991.0,604.6 993.1,607.3 995.2,601.5 997.4,596.5 999.5,598.2 1001.7,591.7 1003.9,588.2 1006.0,589.8 1008.2,582.4 1010.4,574.3 1012.5,566.9 1014.7,554.3 1016.9,562.1 1019.0,570.8 1021.1,584.4 1023.3,587.7 1025.5,584.3 1027.6,579.9 1029.8,576.4 1031.9,572.7 1034.1,575.7 1036.2,575.7 1038.3,577.7 1040.5,582.6 1042.7,579.7 1044.8,585.2 1047.0,586.4 1049.1,587.1 1051.2,588.8 1053.4,591.6 1055.6,591.7 1057.7,590.7 1059.9,592.5 1062.1,593.2 1064.2,595.3 1066.4,600.0 1068.6,598.0 1070.7,597.2 1072.8,600.9 1075.0,604.2 1077.2,603.4 1079.3,606.2 1081.5,603.1 1083.6,603.5 1085.8,607.6 1087.9,604.5 1090.1,606.6 1092.2,607.6 1094.4,607.0 1096.5,606.7 1098.7,610.0" fill="none" stroke="#bfb56c" stroke-width="1.1" stroke-linejoin="round" stroke-linecap="round" />
<polyline points="969.4,614.6 972.2,619.4 974.1,622.1 975.9,622.2 977.6,624.2 979.4,625.8 982.3,620.1 983.6,595.9 984.3,570.5 984.8,540.2 985.3,521.6 985.8,541.4 986.5,570.1 987.2,596.6 988.8,620.2 990.9,623.8 993.0,627.2 995.2,626.9 997.4,627.2 999.7,607.8 1001.7,595.3 1003.3,603.8 1004.8,610.8 1006.5,621.5 1008.2,630.9 1011.2,623.9 1012.9,619.7 1014.7,612.9 1016.4,612.9 1018.1,616.5 1019.8,614.2 1021.7,615.1 1023.5,618.8 1025.4,619.5 1027.3,619.5 1029.3,622.4 1031.2,624.4 1032.9,625.1 1034.5,624.8 1036.2,627.3 1038.9,615.6 1040.5,592.4 1041.7,548.1 1042.5,498.6 1043.3,447.7 1044.0,421.6 1044.7,451.3 1045.5,500.2 1046.7,539.0 1048.3,574.2 1050.5,598.8 1053.4,613.6 1055.5,611.1 1057.5,610.3 1059.1,608.2 1060.6,606.4 1062.1,606.3 1064.3,611.1 1066.4,616.6 1068.6,621.4 1070.7,627.3 1072.8,625.5 1075.0,621.1 1077.2,616.5 1079.3,614.2 1081.4,614.2 1083.5,616.0 1085.7,615.4 1087.9,619.9 1089.9,618.7 1091.9,622.5 1093.8,624.1 1095.5,625.3 1097.1,629.1 1098.7,629.4" fill="none" stroke="#bfb56c" stroke-width="9.6" stroke-linejoin="round" stroke-linecap="round" />
<polyline points="1150.4,485.2 1152.6,489.0 1154.7,494.1 1156.9,497.9 1159.1,501.3 1161.2,501.7 1163.4,508.7 1165.6,506.7 1167.7,507.2 1169.9,507.1 1172.0,510.8 1174.2,509.8 1176.3,511.7 1178.5,514.9 1180.6,517.1 1182.8,518.2 1184.9,515.3 1187.1,516.4 1189.2,520.5 1191.4,525.3 1193.5,530.0 1195.7,532.8 1197.8,536.6 1200.0,537.5 1202.1,540.8 1204.3,541.8 1206.4,544.9 1208.6,547.2 1210.8,553.5 1212.9,558.1 1215.0,562.2 1217.2,565.4 1219.3,559.9 1221.5,553.2 1223.6,550.9 1225.7,543.8 1227.9,539.2 1230.0,533.9 1232.2,532.0 1234.3,532.3 1236.5,534.6 1238.7,539.6 1240.8,540.2 1243.0,539.2 1245.2,542.8 1247.4,541.5 1249.5,545.9 1251.7,542.5 1253.7,546.1 1255.7,547.2 1257.7,543.4 1259.7,543.3 1261.7,541.0 1263.7,541.5 1265.7,540.9 1267.7,540.9 1269.7,539.2 1271.7,540.2 1273.7,538.7 1275.7,540.9 1277.7,539.8 1279.7,540.0" fill="none" stroke="#8b8b8d" stroke-width="1.0" stroke-linejoin="round" stroke-linecap="round" stroke-dasharray="1 1.6" opacity="0.45"/>
<polyline points="1150.4,422.7 1152.6,425.5 1154.7,427.2 1156.9,429.5 1159.0,428.3 1161.2,433.4 1163.3,440.6 1165.5,450.7 1167.7,459.9 1169.8,469.9 1172.0,462.3 1174.1,458.5 1176.2,455.9 1178.4,450.9 1180.6,457.1 1182.8,460.6 1184.9,468.9 1187.1,469.6 1189.2,478.9 1191.4,482.9 1193.5,486.9 1195.7,495.9 1197.8,498.6 1200.0,505.3 1202.2,497.1 1204.3,487.6 1206.5,479.0 1208.7,501.2 1210.8,527.7 1212.9,546.5 1215.1,569.5 1217.3,549.2 1219.4,533.6 1221.6,511.9 1223.7,493.5 1225.9,474.4 1228.1,481.7 1230.2,490.9 1232.3,500.6 1234.5,509.7 1236.7,515.7 1238.8,521.8 1241.0,523.8 1243.1,529.4 1245.2,534.3 1247.4,538.4 1249.6,535.4 1251.7,532.6 1253.8,528.2 1256.0,527.5 1258.2,527.7 1260.3,523.5 1262.5,526.4 1264.6,526.0 1266.8,529.4 1268.9,529.3 1271.1,533.8 1273.2,530.7 1275.4,523.5 1277.5,523.6 1279.7,519.5" fill="none" stroke="#777" stroke-width="1.1" stroke-linejoin="round" stroke-linecap="round" />
<polyline points="1150.4,570.7 1152.1,575.0 1154.5,578.1 1156.9,581.1 1159.1,584.4 1161.2,588.3 1163.4,586.8 1165.5,585.7 1167.5,579.0 1169.8,576.2 1172.4,573.3 1175.3,572.9 1176.8,573.2 1178.4,573.6 1180.1,576.0 1181.8,578.0 1183.7,578.1 1185.5,581.8 1187.4,583.7 1189.2,583.8 1191.0,583.0 1192.9,584.2 1194.7,584.6 1196.6,583.3 1198.3,582.6 1200.0,584.8 1201.5,586.0 1203.0,590.3 1205.8,594.9 1208.6,601.7 1211.5,604.5 1214.3,608.5 1217.2,604.5 1220.1,600.4 1223.0,589.0 1225.9,579.4 1228.8,569.9 1231.6,562.4 1234.5,559.7 1237.4,563.2 1240.2,570.7 1243.1,575.9 1246.0,577.5 1248.8,579.8 1251.7,580.3 1254.6,577.7 1257.4,577.1 1260.3,569.9 1263.2,563.0 1266.1,554.2 1269.0,548.6 1270.6,548.8 1272.2,549.8 1273.8,552.4 1275.4,556.4 1277.6,558.3" fill="none" stroke="#8b8b8d" stroke-width="9.6" stroke-linejoin="round" stroke-linecap="round" />
<polyline points="1327.2,459.0 1355.0,467.0 1376.7,489.0 1389.7,614.0 1402.6,547.0 1456.5,541.0" fill="none" stroke="#aaa" stroke-width="1.0" stroke-linejoin="round" stroke-linecap="round" stroke-dasharray="1 1.6" opacity="0.45"/>
<polyline points="1327.2,425.0 1329.3,427.5 1331.5,431.8 1333.6,435.6 1335.8,439.0 1337.9,441.9 1340.1,442.9 1342.2,443.3 1344.4,444.4 1346.6,444.5 1348.7,446.3 1350.9,446.9 1353.0,447.2 1355.2,448.2 1357.3,449.8 1359.5,450.4 1361.7,452.3 1363.8,453.4 1365.9,454.3 1368.1,454.1 1370.2,456.3 1372.4,458.8 1374.5,461.0 1376.7,463.7 1378.8,486.6 1381.0,508.8 1383.2,531.6 1385.3,554.1 1387.5,568.3 1389.7,584.1 1391.8,577.2 1394.0,571.0 1396.2,563.9 1398.3,558.5 1400.4,552.4 1402.6,544.6 1404.8,544.8 1406.9,543.3 1409.0,543.1 1411.2,542.2 1413.3,542.7 1415.5,541.8 1417.6,541.5 1419.8,539.7 1421.9,539.9 1424.1,539.2 1426.3,538.7 1428.4,539.1 1430.6,538.4 1432.7,537.7 1434.9,538.1 1437.1,537.5 1439.2,536.9 1441.4,537.3 1443.5,536.2 1445.7,536.6 1447.9,536.4 1450.0,535.1 1452.2,535.7 1454.3,534.4 1456.5,534.6" fill="none" stroke="#999" stroke-width="1.1" stroke-linejoin="round" stroke-linecap="round" />
<polyline points="1325.0,489.3 1327.3,492.4 1330.6,496.9 1334.4,501.9 1337.9,506.6 1341.1,511.1 1344.4,515.7 1347.7,520.1 1350.9,523.8 1354.1,526.4 1357.4,528.1 1360.6,529.8 1363.8,532.4 1367.1,535.9 1370.5,540.0 1373.8,544.6 1376.7,549.7 1379.2,555.8 1381.4,562.6 1383.4,569.4 1385.3,575.5 1387.1,581.2 1388.7,586.8 1390.2,591.1 1391.8,592.8 1393.4,590.9 1394.9,586.2 1396.5,580.5 1398.3,575.5 1400.2,571.3 1402.2,567.1 1404.4,563.4 1406.9,560.4 1409.8,558.5 1413.1,557.3 1416.5,556.6 1419.8,556.1 1423.0,555.9 1426.3,556.2 1429.6,556.4 1432.8,556.1 1436.1,555.0 1439.4,553.4 1442.6,551.6 1445.7,549.7 1448.8,547.5 1451.9,545.0 1454.6,542.6 1456.5,541.0" fill="none" stroke="#c8c8c8" stroke-width="8.8" stroke-linejoin="round" stroke-linecap="round" />
<polyline points="1570.7,610.0 1596.6,555.0 1633.2,489.3" fill="none" stroke="#ccc" stroke-width="1.0" stroke-linejoin="round" stroke-linecap="round" stroke-dasharray="1 1.6" opacity="0.6"/>
<polyline points="1501.7,457.0 1531.9,463.4 1549.1,489.3 1562.1,575.5 1575.0,588.4 1596.6,554.0 1633.2,532.4" fill="none" stroke="#c8c8c8" stroke-width="1.1" stroke-linejoin="round" stroke-linecap="round" />
<polyline points="1501.7,422.5 1504.1,423.8 1507.4,425.5 1511.3,427.7 1515.3,430.3 1519.0,433.3 1522.5,436.8 1526.1,440.7 1529.6,445.1 1533.0,449.8 1536.2,454.8 1539.1,460.0 1541.9,465.4 1544.4,471.3 1546.9,477.7 1549.1,485.0 1551.1,493.3 1553.0,502.5 1554.7,512.3 1556.3,522.4 1557.8,532.4 1559.2,542.9 1560.5,554.0 1561.7,565.1 1563.0,575.3 1564.2,584.1 1565.5,591.4 1566.7,597.8 1567.9,603.1 1569.3,607.2 1570.7,610.0 1572.2,611.4 1573.8,611.5 1575.4,610.4 1577.3,608.4 1579.3,605.7 1581.5,601.7 1583.9,596.3 1586.5,590.3 1589.3,584.5 1592.2,579.8 1595.3,576.5 1598.5,573.9 1601.9,571.7 1605.6,569.5 1609.5,566.9 1614.2,563.5 1619.7,559.5 1625.1,555.5 1629.9,552.1 1633.2,549.7" fill="none" stroke="#dcdcdc" stroke-width="8.8" stroke-linejoin="round" stroke-linecap="round" />
<text x="29.3" y="811.7" font-size="43" >b</text>
<path d="M216.6,787.6V804.8 M254.0,787.6V804.8 M291.0,787.6V804.8 M328.6,787.6V804.8 M365.5,787.6V804.8 M402.8,787.6V804.8 M440.0,787.6V804.8 M477.0,787.6V804.8" stroke="#ebebed" stroke-width="1.5"/>
<path d="M494.8,887.6H505.0 M494.8,945.0H505.0 M494.8,1002.4H505.0 M494.8,1060.0H505.0 M494.8,1117.0H505.0 M494.8,1173.8H505.0 M494.8,1231.7H505.0" stroke="#ebebed" stroke-width="1.5"/>
<rect x="224.7" y="1199.6" width="14.9" height="23.0" fill="#a8adc0"/>
<rect x="254.5" y="1199.6" width="14.9" height="23.0" fill="#e6e7ee"/>
<rect x="224.7" y="1176.6" width="14.9" height="23.0" fill="#f6f6f9"/>
<rect x="224.7" y="1153.6" width="14.9" height="23.0" fill="#f4f4f8"/>
<rect x="254.5" y="1176.6" width="14.9" height="23.0" fill="#f7f7fa"/>
<rect x="254.5" y="1153.6" width="14.9" height="23.0" fill="#b7bccb"/>
<rect x="254.5" y="1130.6" width="14.9" height="23.0" fill="#f4f5f8"/>
<rect x="329.1" y="1153.6" width="14.9" height="23.0" fill="#f6f6f8"/>
<rect x="329.1" y="1176.6" width="14.9" height="23.0" fill="#f7f7f9"/>
<rect x="269.5" y="1176.6" width="14.9" height="23.0" fill="#f7f7f9"/>
<rect x="284.4" y="1107.6" width="14.9" height="23.0" fill="#9a9db0"/>
<rect x="299.3" y="1107.6" width="14.9" height="23.0" fill="#e3e4ec"/>
<rect x="284.4" y="1084.6" width="14.9" height="23.0" fill="#dcdde6"/>
<rect x="299.3" y="1084.6" width="14.9" height="23.0" fill="#a9acbd"/>
<rect x="314.2" y="1107.6" width="14.9" height="23.0" fill="#f7f7f9"/>
<rect x="314.2" y="1061.6" width="14.9" height="23.0" fill="#ededf1"/>
<rect x="329.1" y="1061.6" width="14.9" height="23.0" fill="#ececf0"/>
<rect x="299.3" y="1061.6" width="14.9" height="23.0" fill="#f6f6f8"/>
<rect x="329.1" y="1038.6" width="14.9" height="23.0" fill="#c9cad5"/>
<rect x="314.2" y="1038.6" width="14.9" height="23.0" fill="#f7f7f9"/>
<rect x="254.5" y="1038.6" width="14.9" height="23.0" fill="#f6f6f9"/>
<rect x="254.5" y="1015.6" width="14.9" height="23.0" fill="#f2f3f7"/>
<rect x="254.5" y="969.6" width="14.9" height="23.0" fill="#ecedf2"/>
<rect x="299.3" y="969.6" width="14.9" height="23.0" fill="#f5f5f8"/>
<rect x="329.1" y="969.6" width="14.9" height="23.0" fill="#f6f6f8"/>
<rect x="344.1" y="969.6" width="14.9" height="23.0" fill="#f5f5f7"/>
<rect x="373.9" y="969.6" width="14.9" height="23.0" fill="#f4f4f7"/>
<rect x="344.1" y="1015.6" width="14.9" height="23.0" fill="#f7f7f9"/>
<rect x="359.0" y="992.6" width="14.9" height="23.0" fill="#f8f8fa"/>
<rect x="403.7" y="946.6" width="14.9" height="23.0" fill="#f6f6f8"/>
<rect x="478.3" y="808.6" width="14.9" height="23.0" fill="#7d7a7d"/>
<rect x="463.4" y="831.6" width="14.9" height="23.0" fill="#d8dae3"/>
<rect x="478.3" y="831.6" width="14.9" height="23.0" fill="#d8dae3"/>
<rect x="448.5" y="831.6" width="14.9" height="23.0" fill="#f3f4f7"/>
<rect x="448.5" y="854.6" width="14.9" height="23.0" fill="#f3f4f7"/>
<rect x="463.4" y="854.6" width="14.9" height="23.0" fill="#f3f4f7"/>
<rect x="284.4" y="831.6" width="14.9" height="23.0" fill="#f8f8fa"/>
<rect x="284.4" y="808.6" width="14.9" height="23.0" fill="#f8f8fa"/>
<rect x="478.3" y="923.6" width="14.9" height="23.0" fill="#f8f8fa"/>
<rect x="207.4" y="1196.0" width="13.6" height="22.9" fill="#e0261f" stroke="#fff" stroke-width="0.6"/>
<rect x="207.4" y="1173.1" width="13.6" height="22.9" fill="#e53f16" stroke="#fff" stroke-width="0.6"/>
<rect x="207.4" y="1150.2" width="13.6" height="22.9" fill="#e53f16" stroke="#fff" stroke-width="0.6"/>
<rect x="207.4" y="1127.2" width="13.6" height="22.9" fill="#e53f16" stroke="#fff" stroke-width="0.6"/>
<rect x="207.4" y="1104.2" width="13.6" height="22.9" fill="#13893f" stroke="#fff" stroke-width="0.6"/>
<rect x="207.4" y="1081.3" width="13.6" height="22.9" fill="#1a6b33" stroke="#fff" stroke-width="0.6"/>
<rect x="207.4" y="1058.3" width="13.6" height="22.9" fill="#d7e01a" stroke="#fff" stroke-width="0.6"/>
<rect x="207.4" y="1035.4" width="13.6" height="22.9" fill="#d7e01a" stroke="#fff" stroke-width="0.6"/>
<rect x="207.4" y="1012.5" width="13.6" height="22.9" fill="#fcc554" stroke="#fff" stroke-width="0.6"/>
<rect x="207.4" y="989.5" width="13.6" height="22.9" fill="#fcc554" stroke="#fff" stroke-width="0.6"/>
<rect x="207.4" y="966.5" width="13.6" height="22.9" fill="#f5e11c" stroke="#fff" stroke-width="0.6"/>
<rect x="207.4" y="943.6" width="13.6" height="22.9" fill="#7fdcbc" stroke="#fff" stroke-width="0.6"/>
<rect x="207.4" y="920.7" width="13.6" height="22.9" fill="#9c9ddf" stroke="#fff" stroke-width="0.6"/>
<rect x="207.4" y="897.7" width="13.6" height="22.9" fill="#d9565b" stroke="#fff" stroke-width="0.6"/>
<rect x="207.4" y="874.8" width="13.6" height="22.9" fill="#c0b064" stroke="#fff" stroke-width="0.6"/>
<rect x="207.4" y="851.8" width="13.6" height="22.9" fill="#959595" stroke="#fff" stroke-width="0.6"/>
<rect x="207.4" y="828.9" width="13.6" height="22.9" fill="#cfcfcf" stroke="#fff" stroke-width="0.6"/>
<rect x="226.7" y="1223.8" width="14.8" height="21.4" fill="#e0261f" stroke="#fff" stroke-width="0.6"/>
<rect x="241.5" y="1223.8" width="14.8" height="21.4" fill="#e53f16" stroke="#fff" stroke-width="0.6"/>
<rect x="256.3" y="1223.8" width="14.8" height="21.4" fill="#e53f16" stroke="#fff" stroke-width="0.6"/>
<rect x="271.1" y="1223.8" width="14.8" height="21.4" fill="#e53f16" stroke="#fff" stroke-width="0.6"/>
<rect x="285.9" y="1223.8" width="14.8" height="21.4" fill="#13893f" stroke="#fff" stroke-width="0.6"/>
<rect x="300.7" y="1223.8" width="14.8" height="21.4" fill="#1a6b33" stroke="#fff" stroke-width="0.6"/>
<rect x="315.5" y="1223.8" width="14.8" height="21.4" fill="#d7e01a" stroke="#fff" stroke-width="0.6"/>
<rect x="330.3" y="1223.8" width="14.8" height="21.4" fill="#d7e01a" stroke="#fff" stroke-width="0.6"/>
<rect x="345.1" y="1223.8" width="14.8" height="21.4" fill="#fcc554" stroke="#fff" stroke-width="0.6"/>
<rect x="359.9" y="1223.8" width="14.8" height="21.4" fill="#fcc554" stroke="#fff" stroke-width="0.6"/>
<rect x="374.7" y="1223.8" width="14.8" height="21.4" fill="#f5e11c" stroke="#fff" stroke-width="0.6"/>
<rect x="389.5" y="1223.8" width="14.8" height="21.4" fill="#7fdcbc" stroke="#fff" stroke-width="0.6"/>
<rect x="404.3" y="1223.8" width="14.8" height="21.4" fill="#9c9ddf" stroke="#fff" stroke-width="0.6"/>
<rect x="419.1" y="1223.8" width="14.8" height="21.4" fill="#d9565b" stroke="#fff" stroke-width="0.6"/>
<rect x="433.9" y="1223.8" width="14.8" height="21.4" fill="#c0b064" stroke="#fff" stroke-width="0.6"/>
<rect x="448.7" y="1223.8" width="14.8" height="21.4" fill="#959595" stroke="#fff" stroke-width="0.6"/>
<rect x="463.5" y="1223.8" width="14.8" height="21.4" fill="#cfcfcf" stroke="#fff" stroke-width="0.6"/>
<path d="M225.4,808.2H490.7" stroke="#4d4d4f" stroke-width="1.8"/>
<text x="195.0" y="897.0" font-size="21" text-anchor="end" fill="#5f5f5f" >15</text>
<text x="195.0" y="1012.0" font-size="21" text-anchor="end" fill="#5f5f5f" >10</text>
<text x="195.0" y="1127.5" font-size="21" text-anchor="end" fill="#5f5f5f" >5</text>
<text x="195.0" y="1242.0" font-size="21" text-anchor="end" fill="#5f5f5f" >0</text>
<text x="226.0" y="1276.8" font-size="25" text-anchor="middle" fill="#5f5f5f" transform="rotate(-45 226.0 1276.8)" >0</text>
<text x="299.8" y="1276.8" font-size="25" text-anchor="middle" fill="#5f5f5f" transform="rotate(-45 299.8 1276.8)" >5</text>
<text x="367.6" y="1284.2" font-size="25" text-anchor="middle" fill="#5f5f5f" transform="rotate(-45 367.6 1284.2)" >10</text>
<text x="441.5" y="1283.0" font-size="25" text-anchor="middle" fill="#5f5f5f" transform="rotate(-45 441.5 1283.0)" >15</text>
<text x="151.0" y="1143.0" font-size="28" textLength="188.0" lengthAdjust="spacingAndGlyphs" transform="rotate(-90 151.0 1143.0)" >ChIP-seq Broad</text>
<text x="243.2" y="1332.9" font-size="28" textLength="183.5" lengthAdjust="spacingAndGlyphs" >dHIT Predicted</text>
<text x="551.6" y="886.3" font-size="27" textLength="91.0" lengthAdjust="spacingAndGlyphs" >Jaccard</text>
<text x="551.6" y="917.9" font-size="27" textLength="106.0" lengthAdjust="spacingAndGlyphs" >Distance</text>
<rect x="550.8" y="930.2" width="49.0" height="12.1" fill="rgb(26, 38, 69)"/>
<rect x="550.8" y="941.7" width="49.0" height="12.1" fill="rgb(35, 47, 77)"/>
<rect x="550.8" y="953.2" width="49.0" height="12.1" fill="rgb(45, 56, 85)"/>
<rect x="550.8" y="964.7" width="49.0" height="12.1" fill="rgb(56, 66, 93)"/>
<rect x="550.8" y="976.2" width="49.0" height="12.1" fill="rgb(66, 76, 101)"/>
<rect x="550.8" y="987.7" width="49.0" height="12.1" fill="rgb(76, 85, 110)"/>
<rect x="550.8" y="999.1" width="49.0" height="12.1" fill="rgb(86, 95, 118)"/>
<rect x="550.8" y="1010.6" width="49.0" height="12.1" fill="rgb(97, 105, 127)"/>
<rect x="550.8" y="1022.1" width="49.0" height="12.1" fill="rgb(108, 115, 136)"/>
<rect x="550.8" y="1033.6" width="49.0" height="12.1" fill="rgb(118, 125, 145)"/>
<rect x="550.8" y="1045.1" width="49.0" height="12.1" fill="rgb(129, 136, 154)"/>
<rect x="550.8" y="1056.6" width="49.0" height="12.1" fill="rgb(141, 146, 163)"/>
<rect x="550.8" y="1068.1" width="49.0" height="12.1" fill="rgb(152, 157, 172)"/>
<rect x="550.8" y="1079.6" width="49.0" height="12.1" fill="rgb(164, 168, 182)"/>
<rect x="550.8" y="1091.1" width="49.0" height="12.1" fill="rgb(175, 179, 191)"/>
<rect x="550.8" y="1102.5" width="49.0" height="12.1" fill="rgb(188, 191, 201)"/>
<rect x="550.8" y="1114.0" width="49.0" height="12.1" fill="rgb(200, 203, 212)"/>
<rect x="550.8" y="1125.5" width="49.0" height="12.1" fill="rgb(214, 216, 223)"/>
<rect x="550.8" y="1137.0" width="49.0" height="12.1" fill="rgb(228, 229, 235)"/>
<rect x="550.8" y="1148.5" width="49.0" height="12.1" fill="rgb(247, 247, 250)"/>
<text x="611.0" y="944.0" font-size="22" textLength="40.0" lengthAdjust="spacingAndGlyphs" >1.00</text>
<path d="M550.8,935.5h9M590.8,935.5h9" stroke="#fff" stroke-width="1.2" opacity="0.9"/>
<text x="611.0" y="999.4" font-size="22" textLength="40.0" lengthAdjust="spacingAndGlyphs" >0.75</text>
<path d="M550.8,990.9h9M590.8,990.9h9" stroke="#fff" stroke-width="1.2" opacity="0.9"/>
<text x="611.0" y="1054.7" font-size="22" textLength="40.0" lengthAdjust="spacingAndGlyphs" >0.50</text>
<path d="M550.8,1046.2h9M590.8,1046.2h9" stroke="#fff" stroke-width="1.2" opacity="0.9"/>
<text x="611.0" y="1110.0" font-size="22" textLength="40.0" lengthAdjust="spacingAndGlyphs" >0.25</text>
<path d="M550.8,1101.5h9M590.8,1101.5h9" stroke="#fff" stroke-width="1.2" opacity="0.9"/>
<text x="611.0" y="1165.4" font-size="22" textLength="40.0" lengthAdjust="spacingAndGlyphs" >0.00</text>
<text x="791.0" y="812.9" font-size="43" >c</text>
<path d="M909.3,798.0V818.8 M946.2,798.0V818.8 M983.5,798.0V818.8 M1020.5,798.0V818.8 M1057.5,798.0V818.8 M1095.0,798.0V818.8 M1132.0,798.0V818.8 M1169.4,798.0V818.8" stroke="#ebebed" stroke-width="1.5"/>
<path d="M1185.7,842.4H1196.0 M1185.7,900.0H1196.0 M1185.7,957.6H1196.0 M1185.7,1015.0H1196.0 M1185.7,1073.0H1196.0 M1185.7,1130.0H1196.0 M1185.7,1188.0H1196.0 M1185.7,1245.6H1196.0" stroke="#ebebed" stroke-width="1.5"/>
<rect x="917.6" y="1212.6" width="14.9" height="23.0" fill="#7e8599"/>
<rect x="947.5" y="1212.6" width="14.9" height="23.0" fill="#a9abbe"/>
<rect x="917.6" y="1166.6" width="14.9" height="23.0" fill="#eeeef2"/>
<rect x="947.5" y="1166.6" width="14.9" height="23.0" fill="#a8aabd"/>
<rect x="932.5" y="1189.6" width="14.9" height="23.0" fill="#f2f2f6"/>
<rect x="947.5" y="1189.6" width="14.9" height="23.0" fill="#f3f3f7"/>
<rect x="962.4" y="1189.6" width="14.9" height="23.0" fill="#eeeff3"/>
<rect x="962.4" y="1166.6" width="14.9" height="23.0" fill="#f5f5f8"/>
<rect x="962.4" y="1143.6" width="14.9" height="23.0" fill="#eeeff3"/>
<rect x="932.5" y="1143.6" width="14.9" height="23.0" fill="#f7f7fa"/>
<rect x="947.5" y="1143.6" width="14.9" height="23.0" fill="#f6f6f9"/>
<rect x="1037.0" y="1166.6" width="14.9" height="23.0" fill="#d5d6e0"/>
<rect x="1052.0" y="1166.6" width="14.9" height="23.0" fill="#f4f4f7"/>
<rect x="1022.1" y="1166.6" width="14.9" height="23.0" fill="#f7f7f9"/>
<rect x="1037.0" y="1143.6" width="14.9" height="23.0" fill="#f6f6f8"/>
<rect x="1052.0" y="1143.6" width="14.9" height="23.0" fill="#f7f7f9"/>
<rect x="1037.0" y="1189.6" width="14.9" height="23.0" fill="#f8f8fa"/>
<rect x="977.3" y="1189.6" width="14.9" height="23.0" fill="#f8f8fa"/>
<rect x="977.3" y="1120.6" width="14.9" height="23.0" fill="#6c7389"/>
<rect x="992.2" y="1120.6" width="14.9" height="23.0" fill="#d9dae5"/>
<rect x="1007.2" y="1120.6" width="14.9" height="23.0" fill="#f3f3f7"/>
<rect x="992.2" y="1097.6" width="14.9" height="23.0" fill="#6f7489"/>
<rect x="977.3" y="1097.6" width="14.9" height="23.0" fill="#f2f3f7"/>
<rect x="1007.2" y="1097.6" width="14.9" height="23.0" fill="#f6f6f9"/>
<rect x="977.3" y="1074.6" width="14.9" height="23.0" fill="#f5f5f8"/>
<rect x="992.2" y="1074.6" width="14.9" height="23.0" fill="#f6f6f9"/>
<rect x="1007.2" y="1074.6" width="14.9" height="23.0" fill="#cfd0da"/>
<rect x="1007.2" y="1051.6" width="14.9" height="23.0" fill="#f1f1f5"/>
<rect x="1022.1" y="1051.6" width="14.9" height="23.0" fill="#aaacbf"/>
<rect x="1037.0" y="1051.6" width="14.9" height="23.0" fill="#f0f0f4"/>
<rect x="1022.1" y="1028.6" width="14.9" height="23.0" fill="#f7f7f9"/>
<rect x="1037.0" y="1028.6" width="14.9" height="23.0" fill="#cbccd8"/>
<rect x="1052.0" y="1028.6" width="14.9" height="23.0" fill="#f1f1f5"/>
<rect x="1037.0" y="1005.6" width="14.9" height="23.0" fill="#f7f7f9"/>
<rect x="1052.0" y="1005.6" width="14.9" height="23.0" fill="#f8f8fa"/>
<rect x="1037.0" y="982.6" width="14.9" height="23.0" fill="#eeeef3"/>
<rect x="1052.0" y="982.6" width="14.9" height="23.0" fill="#ebebf1"/>
<rect x="1066.9" y="982.6" width="14.9" height="23.0" fill="#d3d4df"/>
<rect x="977.3" y="982.6" width="14.9" height="23.0" fill="#f7f7f9"/>
<rect x="992.2" y="982.6" width="14.9" height="23.0" fill="#f7f7f9"/>
<rect x="1081.8" y="959.6" width="14.9" height="23.0" fill="#d1d2dd"/>
<rect x="1081.8" y="936.6" width="14.9" height="23.0" fill="#ebebf1"/>
<rect x="1096.8" y="936.6" width="14.9" height="23.0" fill="#ececf1"/>
<rect x="1111.7" y="913.6" width="14.9" height="23.0" fill="#d3d4df"/>
<rect x="1126.6" y="913.6" width="14.9" height="23.0" fill="#f6f6f8"/>
<rect x="1126.6" y="890.6" width="14.9" height="23.0" fill="#f6f6f8"/>
<rect x="1126.6" y="867.6" width="14.9" height="23.0" fill="#f4f4f7"/>
<rect x="1141.5" y="867.6" width="14.9" height="23.0" fill="#c8c9d5"/>
<rect x="1156.5" y="867.6" width="14.9" height="23.0" fill="#f2f2f6"/>
<rect x="1156.5" y="844.6" width="14.9" height="23.0" fill="#6a6f88"/>
<rect x="1141.5" y="844.6" width="14.9" height="23.0" fill="#f5f5f8"/>
<rect x="1171.4" y="844.6" width="14.9" height="23.0" fill="#f4f4f7"/>
<rect x="1096.8" y="821.6" width="14.9" height="23.0" fill="#cbccd8"/>
<rect x="1156.5" y="821.6" width="14.9" height="23.0" fill="#e0e1ea"/>
<rect x="1171.4" y="821.6" width="14.9" height="23.0" fill="#7a7a7a"/>
<rect x="1171.4" y="1097.6" width="14.9" height="23.0" fill="#f6f6f9"/>
<rect x="1081.8" y="1097.6" width="14.9" height="23.0" fill="#f7f7f9"/>
<rect x="947.5" y="913.6" width="14.9" height="23.0" fill="#f7f7f9"/>
<rect x="1007.2" y="844.6" width="14.9" height="23.0" fill="#f7f7f9"/>
<rect x="1066.9" y="844.6" width="14.9" height="23.0" fill="#f8f8fa"/>
<rect x="898.0" y="1212.6" width="14.2" height="22.9" fill="#e0261f" stroke="#fff" stroke-width="0.6"/>
<rect x="898.0" y="1189.7" width="14.2" height="22.9" fill="#e53f16" stroke="#fff" stroke-width="0.6"/>
<rect x="898.0" y="1166.8" width="14.2" height="22.9" fill="#e53f16" stroke="#fff" stroke-width="0.6"/>
<rect x="898.0" y="1143.8" width="14.2" height="22.9" fill="#e53f16" stroke="#fff" stroke-width="0.6"/>
<rect x="898.0" y="1120.8" width="14.2" height="22.9" fill="#13893f" stroke="#fff" stroke-width="0.6"/>
<rect x="898.0" y="1097.9" width="14.2" height="22.9" fill="#1a6b33" stroke="#fff" stroke-width="0.6"/>
<rect x="898.0" y="1074.9" width="14.2" height="22.9" fill="#d7e01a" stroke="#fff" stroke-width="0.6"/>
<rect x="898.0" y="1052.0" width="14.2" height="22.9" fill="#d7e01a" stroke="#fff" stroke-width="0.6"/>
<rect x="898.0" y="1029.0" width="14.2" height="22.9" fill="#fcc554" stroke="#fff" stroke-width="0.6"/>
<rect x="898.0" y="1006.1" width="14.2" height="22.9" fill="#fcc554" stroke="#fff" stroke-width="0.6"/>
<rect x="898.0" y="983.1" width="14.2" height="22.9" fill="#f5e11c" stroke="#fff" stroke-width="0.6"/>
<rect x="898.0" y="960.2" width="14.2" height="22.9" fill="#7fdcbc" stroke="#fff" stroke-width="0.6"/>
<rect x="898.0" y="937.2" width="14.2" height="22.9" fill="#9c9ddf" stroke="#fff" stroke-width="0.6"/>
<rect x="898.0" y="914.3" width="14.2" height="22.9" fill="#d9565b" stroke="#fff" stroke-width="0.6"/>
<rect x="898.0" y="891.3" width="14.2" height="22.9" fill="#c0b064" stroke="#fff" stroke-width="0.6"/>
<rect x="898.0" y="868.4" width="14.2" height="22.9" fill="#959595" stroke="#fff" stroke-width="0.6"/>
<rect x="898.0" y="845.4" width="14.2" height="22.9" fill="#cfcfcf" stroke="#fff" stroke-width="0.6"/>
<rect x="917.6" y="1240.0" width="14.8" height="22.2" fill="#e0261f" stroke="#fff" stroke-width="0.6"/>
<rect x="932.4" y="1240.0" width="14.8" height="22.2" fill="#e53f16" stroke="#fff" stroke-width="0.6"/>
<rect x="947.2" y="1240.0" width="14.8" height="22.2" fill="#e53f16" stroke="#fff" stroke-width="0.6"/>
<rect x="961.9" y="1240.0" width="14.8" height="22.2" fill="#e53f16" stroke="#fff" stroke-width="0.6"/>
<rect x="976.7" y="1240.0" width="14.8" height="22.2" fill="#13893f" stroke="#fff" stroke-width="0.6"/>
<rect x="991.5" y="1240.0" width="14.8" height="22.2" fill="#1a6b33" stroke="#fff" stroke-width="0.6"/>
<rect x="1006.3" y="1240.0" width="14.8" height="22.2" fill="#d7e01a" stroke="#fff" stroke-width="0.6"/>
<rect x="1021.1" y="1240.0" width="14.8" height="22.2" fill="#d7e01a" stroke="#fff" stroke-width="0.6"/>
<rect x="1035.8" y="1240.0" width="14.8" height="22.2" fill="#fcc554" stroke="#fff" stroke-width="0.6"/>
<rect x="1050.6" y="1240.0" width="14.8" height="22.2" fill="#fcc554" stroke="#fff" stroke-width="0.6"/>
<rect x="1065.4" y="1240.0" width="14.8" height="22.2" fill="#f5e11c" stroke="#fff" stroke-width="0.6"/>
<rect x="1080.2" y="1240.0" width="14.8" height="22.2" fill="#7fdcbc" stroke="#fff" stroke-width="0.6"/>
<rect x="1095.0" y="1240.0" width="14.8" height="22.2" fill="#9c9ddf" stroke="#fff" stroke-width="0.6"/>
<rect x="1109.7" y="1240.0" width="14.8" height="22.2" fill="#d9565b" stroke="#fff" stroke-width="0.6"/>
<rect x="1124.5" y="1240.0" width="14.8" height="22.2" fill="#c0b064" stroke="#fff" stroke-width="0.6"/>
<rect x="1139.3" y="1240.0" width="14.8" height="22.2" fill="#959595" stroke="#fff" stroke-width="0.6"/>
<rect x="1154.1" y="1240.0" width="14.8" height="22.2" fill="#cfcfcf" stroke="#fff" stroke-width="0.6"/>
<path d="M917.6,820.8H1184.8" stroke="#4d4d4f" stroke-width="1.8"/>
<path d="M917.6,820.8V1235.6" stroke="#4d4d4f" stroke-width="1.4"/>
<text x="887.7" y="909.0" font-size="21" text-anchor="end" fill="#5f5f5f" >15</text>
<text x="887.7" y="1024.5" font-size="21" text-anchor="end" fill="#5f5f5f" >10</text>
<text x="887.7" y="1139.5" font-size="21" text-anchor="end" fill="#5f5f5f" >5</text>
<text x="887.7" y="1253.5" font-size="21" text-anchor="end" fill="#5f5f5f" >0</text>
<text x="918.4" y="1292.0" font-size="25" text-anchor="middle" fill="#5f5f5f" transform="rotate(-45 918.4 1292.0)" >0</text>
<text x="992.3" y="1292.0" font-size="25" text-anchor="middle" fill="#5f5f5f" transform="rotate(-45 992.3 1292.0)" >5</text>
<text x="1060.3" y="1297.9" font-size="25" text-anchor="middle" fill="#5f5f5f" transform="rotate(-45 1060.3 1297.9)" >10</text>
<text x="1134.2" y="1297.9" font-size="25" text-anchor="middle" fill="#5f5f5f" transform="rotate(-45 1134.2 1297.9)" >15</text>
<text x="843.0" y="1160.2" font-size="28" textLength="189.0" lengthAdjust="spacingAndGlyphs" transform="rotate(-90 843.0 1160.2)" >ChIP-seq Broad</text>
<text x="944.7" y="1345.0" font-size="28" textLength="183.3" lengthAdjust="spacingAndGlyphs" >ChIP-seq other</text>
<text x="1244.0" y="898.2" font-size="27" textLength="91.0" lengthAdjust="spacingAndGlyphs" >Jaccard</text>
<text x="1244.0" y="930.4" font-size="27" textLength="106.0" lengthAdjust="spacingAndGlyphs" >Distance</text>
<rect x="1245.2" y="943.2" width="45.2" height="11.2" fill="rgb(26, 38, 69)"/>
<rect x="1245.2" y="953.8" width="45.2" height="11.2" fill="rgb(35, 47, 77)"/>
<rect x="1245.2" y="964.4" width="45.2" height="11.2" fill="rgb(45, 56, 85)"/>
<rect x="1245.2" y="975.0" width="45.2" height="11.2" fill="rgb(56, 66, 93)"/>
<rect x="1245.2" y="985.6" width="45.2" height="11.2" fill="rgb(66, 76, 101)"/>
<rect x="1245.2" y="996.2" width="45.2" height="11.2" fill="rgb(76, 85, 110)"/>
<rect x="1245.2" y="1006.7" width="45.2" height="11.2" fill="rgb(86, 95, 118)"/>
<rect x="1245.2" y="1017.3" width="45.2" height="11.2" fill="rgb(97, 105, 127)"/>
<rect x="1245.2" y="1027.9" width="45.2" height="11.2" fill="rgb(108, 115, 136)"/>
<rect x="1245.2" y="1038.5" width="45.2" height="11.2" fill="rgb(118, 125, 145)"/>
<rect x="1245.2" y="1049.1" width="45.2" height="11.2" fill="rgb(129, 136, 154)"/>
<rect x="1245.2" y="1059.7" width="45.2" height="11.2" fill="rgb(141, 146, 163)"/>
<rect x="1245.2" y="1070.3" width="45.2" height="11.2" fill="rgb(152, 157, 172)"/>
<rect x="1245.2" y="1080.9" width="45.2" height="11.2" fill="rgb(164, 168, 182)"/>
<rect x="1245.2" y="1091.5" width="45.2" height="11.2" fill="rgb(175, 179, 191)"/>
<rect x="1245.2" y="1102.0" width="45.2" height="11.2" fill="rgb(188, 191, 201)"/>
<rect x="1245.2" y="1112.6" width="45.2" height="11.2" fill="rgb(200, 203, 212)"/>
<rect x="1245.2" y="1123.2" width="45.2" height="11.2" fill="rgb(214, 216, 223)"/>
<rect x="1245.2" y="1133.8" width="45.2" height="11.2" fill="rgb(228, 229, 235)"/>
<rect x="1245.2" y="1144.4" width="45.2" height="11.2" fill="rgb(247, 247, 250)"/>
<text x="1304.0" y="956.7" font-size="22" textLength="40.0" lengthAdjust="spacingAndGlyphs" >1.00</text>
<path d="M1245.2,948.2h9M1281.4,948.2h9" stroke="#fff" stroke-width="1.2" opacity="0.9"/>
<text x="1304.0" y="1012.2" font-size="22" textLength="40.0" lengthAdjust="spacingAndGlyphs" >0.75</text>
<path d="M1245.2,1003.7h9M1281.4,1003.7h9" stroke="#fff" stroke-width="1.2" opacity="0.9"/>
<text x="1304.0" y="1067.7" font-size="22" textLength="40.0" lengthAdjust="spacingAndGlyphs" >0.50</text>
<path d="M1245.2,1059.2h9M1281.4,1059.2h9" stroke="#fff" stroke-width="1.2" opacity="0.9"/>
<text x="1304.0" y="1123.2" font-size="22" textLength="40.0" lengthAdjust="spacingAndGlyphs" >0.25</text>
<path d="M1245.2,1114.7h9M1281.4,1114.7h9" stroke="#fff" stroke-width="1.2" opacity="0.9"/>
<text x="1304.0" y="1178.7" font-size="22" textLength="40.0" lengthAdjust="spacingAndGlyphs" >0.00</text>
<rect x="1494.0" y="798.2" width="293.0" height="27.7" fill="#ec1c24"/>
<text x="1500.1" y="819.1" font-size="20" textLength="93.1" lengthAdjust="spacingAndGlyphs" >Active TSS</text>
<text x="1798.1" y="819.1" font-size="20" textLength="38.3" lengthAdjust="spacingAndGlyphs" >TssA</text>
<rect x="1494.0" y="827.4" width="293.0" height="27.7" fill="#ef4a23"/>
<text x="1500.1" y="848.3" font-size="20" textLength="114.1" lengthAdjust="spacingAndGlyphs" >Flanking TSS</text>
<text x="1798.1" y="848.3" font-size="20" textLength="63.5" lengthAdjust="spacingAndGlyphs" >TssFlnk</text>
<rect x="1494.0" y="856.6" width="293.0" height="27.7" fill="#ef4a23"/>
<text x="1500.1" y="877.5" font-size="20" textLength="206.9" lengthAdjust="spacingAndGlyphs" >Flanking TSS upstream</text>
<text x="1798.1" y="877.5" font-size="20" textLength="76.6" lengthAdjust="spacingAndGlyphs" >TssFlnkU</text>
<rect x="1494.0" y="885.9" width="293.0" height="27.7" fill="#ef4a23"/>
<text x="1500.1" y="906.8" font-size="20" textLength="234.8" lengthAdjust="spacingAndGlyphs" >Flanking TSS downstream</text>
<text x="1798.1" y="906.8" font-size="20" textLength="77.4" lengthAdjust="spacingAndGlyphs" >TssFlnkD</text>
<rect x="1494.0" y="915.1" width="293.0" height="27.7" fill="#118a45"/>
<text x="1500.1" y="936.0" font-size="20" textLength="180.3" lengthAdjust="spacingAndGlyphs" >Strong transcription</text>
<text x="1798.1" y="936.0" font-size="20" textLength="20.1" lengthAdjust="spacingAndGlyphs" >Tx</text>
<rect x="1494.0" y="944.3" width="293.0" height="27.7" fill="#166534"/>
<text x="1500.1" y="965.2" font-size="20" textLength="171.4" lengthAdjust="spacingAndGlyphs" >Weak transcription</text>
<text x="1798.1" y="965.2" font-size="20" textLength="49.5" lengthAdjust="spacingAndGlyphs" >TxWk</text>
<rect x="1494.0" y="973.5" width="293.0" height="27.7" fill="#c3d82f"/>
<text x="1500.1" y="994.4" font-size="20" textLength="157.7" lengthAdjust="spacingAndGlyphs" >Genic enhancer 1</text>
<text x="1798.1" y="994.4" font-size="20" textLength="57.9" lengthAdjust="spacingAndGlyphs" >EnhG1</text>
<rect x="1494.0" y="1002.7" width="293.0" height="27.7" fill="#c3d82f"/>
<text x="1500.1" y="1023.6" font-size="20" textLength="159.4" lengthAdjust="spacingAndGlyphs" >Genic enhancer 2</text>
<text x="1798.1" y="1023.6" font-size="20" textLength="59.3" lengthAdjust="spacingAndGlyphs" >EnhG2</text>
<rect x="1494.0" y="1032.0" width="293.0" height="27.7" fill="#fbbf4e"/>
<text x="1500.1" y="1052.9" font-size="20" textLength="162.1" lengthAdjust="spacingAndGlyphs" >Active enhancer 1</text>
<text x="1798.1" y="1052.9" font-size="20" textLength="57.0" lengthAdjust="spacingAndGlyphs" >EnhA1</text>
<rect x="1494.0" y="1061.2" width="293.0" height="27.7" fill="#fbbf4e"/>
<text x="1500.1" y="1082.1" font-size="20" textLength="163.8" lengthAdjust="spacingAndGlyphs" >Active enhancer 2</text>
<text x="1798.1" y="1082.1" font-size="20" textLength="58.4" lengthAdjust="spacingAndGlyphs" >EnhA2</text>
<rect x="1494.0" y="1090.4" width="293.0" height="27.7" fill="#f6ea14"/>
<text x="1500.1" y="1111.3" font-size="20" textLength="141.2" lengthAdjust="spacingAndGlyphs" >Weak enhancer</text>
<text x="1798.1" y="1111.3" font-size="20" textLength="64.0" lengthAdjust="spacingAndGlyphs" >EnhWk</text>
<rect x="1494.0" y="1119.6" width="293.0" height="27.7" fill="#68c7a4"/>
<text x="1500.1" y="1140.5" font-size="20" textLength="189.0" lengthAdjust="spacingAndGlyphs" >ZNF genes &amp; repeats</text>
<text x="1798.1" y="1140.5" font-size="20" textLength="76.9" lengthAdjust="spacingAndGlyphs" >Znf/Rpts</text>
<rect x="1494.0" y="1148.8" width="293.0" height="27.7" fill="#8a8ecb"/>
<text x="1500.1" y="1169.7" font-size="20" textLength="154.6" lengthAdjust="spacingAndGlyphs" >Heterochromatin</text>
<text x="1798.1" y="1169.7" font-size="20" textLength="31.3" lengthAdjust="spacingAndGlyphs" >Het</text>
<rect x="1494.0" y="1178.1" width="293.0" height="27.7" fill="#cf5b5b"/>
<text x="1500.1" y="1199.0" font-size="20" textLength="178.9" lengthAdjust="spacingAndGlyphs" >Bivalent/poised TSS</text>
<text x="1798.1" y="1199.0" font-size="20" textLength="52.8" lengthAdjust="spacingAndGlyphs" >TssBiv</text>
<rect x="1494.0" y="1207.3" width="293.0" height="27.7" fill="#bdb46b"/>
<text x="1500.1" y="1228.2" font-size="20" textLength="163.8" lengthAdjust="spacingAndGlyphs" >Bivalent enhancer</text>
<text x="1798.1" y="1228.2" font-size="20" textLength="61.5" lengthAdjust="spacingAndGlyphs" >EnhBiv</text>
<rect x="1494.0" y="1236.5" width="293.0" height="27.7" fill="#8c8d8f"/>
<text x="1500.1" y="1257.4" font-size="20" textLength="189.0" lengthAdjust="spacingAndGlyphs" >Repressed Polycomb</text>
<text x="1798.1" y="1257.4" font-size="20" textLength="65.4" lengthAdjust="spacingAndGlyphs" >ReprPC</text>
<rect x="1494.0" y="1265.7" width="293.0" height="27.7" fill="#c7c8ca"/>
<text x="1500.1" y="1286.6" font-size="20" textLength="241.3" lengthAdjust="spacingAndGlyphs" >Weak repressed Polycomb</text>
<text x="1798.1" y="1286.6" font-size="20" textLength="95.0" lengthAdjust="spacingAndGlyphs" >ReprPCWk</text>
<text x="1500.1" y="1315.8" font-size="20" textLength="130.8" lengthAdjust="spacingAndGlyphs" >Quiescent/low</text>
<text x="1798.1" y="1315.8" font-size="20" textLength="50.3" lengthAdjust="spacingAndGlyphs" >Quies</text>
<text x="17.2" y="1456.9" font-size="44" >d</text>
<text x="86.2" y="1456.9" font-size="35" textLength="183.2" lengthAdjust="spacingAndGlyphs" >Horse Liver:</text>
<text x="862.4" y="1483.5" font-size="29" textLength="86.1" lengthAdjust="spacingAndGlyphs" >100 kb</text>
<path d="M971.4,1473.6H1088.9M972.4,1468.6V1478.6M1087.9,1468.6V1478.6" stroke="#231f20" stroke-width="3"/>
<text x="49.6" y="1559.5" font-size="31" textLength="127.1" lengthAdjust="spacingAndGlyphs" >ChRO-seq</text>
<text x="68.1" y="1642.5" font-size="31" textLength="112.9" lengthAdjust="spacingAndGlyphs" >H3K27ac</text>
<text x="57.3" y="1727.8" font-size="31" textLength="125.9" lengthAdjust="spacingAndGlyphs" >H3K4me3</text>
<text x="57.3" y="1814.0" font-size="31" textLength="123.7" lengthAdjust="spacingAndGlyphs" >H3K4me1</text>
<text x="40.0" y="1907.6" font-size="31" textLength="141.0" lengthAdjust="spacingAndGlyphs" >H3K27me3</text>
<text x="1115.5" y="1625.0" font-size="22" textLength="78.9" lengthAdjust="spacingAndGlyphs" >Imputed</text>
<text x="1115.5" y="1668.2" font-size="22" textLength="104.5" lengthAdjust="spacingAndGlyphs" >Experiment</text>
<text x="1115.5" y="1710.0" font-size="22" textLength="78.9" lengthAdjust="spacingAndGlyphs" >Imputed</text>
<text x="1115.5" y="1754.0" font-size="22" textLength="104.5" lengthAdjust="spacingAndGlyphs" >Experiment</text>
<text x="1115.5" y="1793.9" font-size="22" textLength="78.9" lengthAdjust="spacingAndGlyphs" >Imputed</text>
<text x="1115.5" y="1837.5" font-size="22" textLength="104.5" lengthAdjust="spacingAndGlyphs" >Experiment</text>
<text x="1115.5" y="1878.8" font-size="22" textLength="78.9" lengthAdjust="spacingAndGlyphs" >Imputed</text>
<text x="1115.5" y="1922.4" font-size="22" textLength="104.5" lengthAdjust="spacingAndGlyphs" >Experiment</text>
<path d="M217.7,1549.0h17v-1h1v-5.5h1v-9.5h1v6h1v8.5h1v-3h1v4.5h12v-4h1v4h1v-1h1v1h1v-1h1v1h3v-1h1v1h2v-1.5h1v1.5h6v-1.5h2v1.5h3v-1h2v1h1v-1.5h1v1.5h1v-1.5h1v1.5h2v-1.5h1v1.5h1v-1.5h1v1.5h1v-1h1v1h2v-1.5h2v1.5h1v-1.5h3v.5h2v1h2v-3.5h1v3.5h3v-1h1v-8.5h1v-28h1v-2.5h1v34h1v5h1v1h6v-18h1v11h1v1h1v6h1v-6.5h1v1.5h2v-1.5h1v.5h3v-1h1v1h1v-.5h1v-.5h1v1.5h1v1.5h1v-.5h1v.5h1v-1h1v-33.5h2v26h1v6.5h1v-.5h2v-9.5h1v10h1v-.5h1v.5h1v6h1v-5.5h2v-1h2v1h3v-10h2v11h1v-3h1v.5h1v-13.5h1v14.5h1v.5h1v-1h1v-1h1v.5h1v.5h1v-19.5h1v2h1v15.5h1v3h3v-.5h1v1h1v-1.5h1v-.5h1v-11h1v12h1v.5h1v-1h1v-.5h1v-1h1v1h1v1h2v1h1v-1h1v.5h1v.5h1v.5h1v-5.5h1v3.5h1v2h1v3.5h1v-6h1v-13h1v-1.5h1v15h1v6h1v.5h1v-5.5h1v-8h1v-1.5h1v9h1v-1h1v-.5h1v1.5h1v1h1v-1.5h1v-.5h1v1h1v-1.5h2v7.5h1v-5.5h1v1h1v.5h1v-.5h1v-1.5h1v-12h1v10.5h1v-10.5h1v-3h1v15.5h1v1h1v.5h1v-8h1v6h1v-7.5h1v-2h1v10h1v5h1v-5.5h1v.5h1v.5h1v-2h1v-12h1v11.5h2v2h1v1.5h1v-1.5h1v-1.5h1v1h1v1.5h1v-8.5h1v8.5h1v-1.5h1v-1.5h2v.5h1v7h1v-5.5h1v5.5h3v-1h1v-.5h1v1.5h1v-1.5h3v1.5h1v-1.5h2v1.5h1v-1.5h1v-.5h1v.5h1v.5h1v1h2v-1.5h1v.5h1v-7h1v-30h2v30h1v2h1v3h1v-.5h1v3.5h1v-6h1v.5h1v1.5h1v-1h1v-.5h1v.5h1v.5h1v-1h2v.5h1v1h1v-6h1v-6h1v8.5h1v2.5h1v-.5h1v.5h2v1.5h1v-1h1v-4h1v5h1v-20h2v17h1v2h1v.5h1v-1h1v1h1v.5h1v-.5h1v1h1v-.5h1v-1h1v.5h1v-12h1v10.5h1v.5h1v-.5h1v-9h1v9h1v2h1v-1.5h1v-1h1v.5h2v.5h1v-1h1v-6h1v6.5h2v1.5h1v-1h1v.5h1v1h1v-.5h1v-9.5h1v-1h1v-2h1v8h1v-11h1v6.5h1v7h1v6h6v-.5h1v.5h4v-.5h1v.5h4v-.5h1v.5h1v-.5h1v.5h2v-2h1v2h1v-1h1v1h2v-1h1v1h3v-1h1v1h1v-4.5h1v-1h1v-4h1v5h1v4.5h1v-4h2v-1.5h1v-3h1v4h1v-1h1v-2.5h1v4.5h2v-1h1v4.5h1v-5.5h1v1.5h1v-.5h1v-1h1v-13h1v2h1v12.5h1v-1h1v-1h1v.5h1v2h1v-5.5h1v-7h1v16h1v-4.5h1v-1h1v.5h3v1h1v-10h1v8h1v.5h1v-8.5h1v-20h1v11h1v19h1v-1h1v5h1v-5.5h2v.5h1v.5h1v.5h1v-1h1v1h1v-.5h1v-4h1v-19h1v-2.5h1v18.5h1v7h1v.5h1v-.5h2v-6.5h1v6.5h1v-.5h1v-10h1v-1.5h1v11.5h1v-.5h1v1.5h1v-1h1v.5h1v.5h1v.5h1v-.5h1v-1h1v.5h1v-1h1v.5h1v-14h1v2h1v15h1v1.5h1v.5h5v-1.5h3v1.5h2v-4h1v4h4v-1.5h1v-2.5h1v4h3v-2h2v.5h1v1.5h2v-1h1v1h2v-1.5h1v1.5h5v-2h1v.5h1v-.5h1v2h3v-1.5h2v1.5h1v-1.5h1v.5h1v1h7v-.5h1v-1.5h1v-12h1v-7h1v11h1v8.5h1v1.5h5v-2h1v2h4v-2h1v.5h1v1.5h6v-2h1v2h1v-2h1v2h1v-1h1v1h6v-2h1v2h3v-4h1v2.5h1v1.5h2v-2h1v2h1v-1.5h3v.5h1v1h1v-4h1v4h4v-2h1v2h1v-1h1v1h3v-1.5h1v1.5h1v-3h1v-17.5h1v-20.5h1v21.5h1v15h1v-1.5h1v-.5h2v.5h1v-12.5h1v-22h1v14.5h1v22.5h1v-3h2v.5h3v-.5h1v-8h1v8.5h1v-.5h1v-11h1v12h1v-9h1v-7h1v12h1v5.5h1v-1h1v1h1v-1.5h1v-8h1v-.5h1v9.5h2v-8h1v6.5h1v1.5h1v.5h1v-.5h1v-.5h1v-.5h1v-.5h1v1.5h1v.5h1v-1h2v-6h2v5.5h2v-4h1v4h1v1h1v-.5h3v5h4v-1.5h1v1.5h4v-2h1v-2.5h1v4.5h5v-1.5h1v-.5h2v2h1v-1.5h1v1.5h1v-1h1v1h1v-1.5h2v1.5h8v-1.5h1v1.5h2v-1.5h1v1.5h1v-1h1v1h1v-1h2v1h9v-1.5h1v1.5h7v-1.5h2v-4.5h1v-16.5h1v-19h1v21h1v14h1v1.5h1v5h1v-6h1v1h1v-2h2v-1h1v2h1v1.5h2v-1h1v-1h1v.5h1v-6.5h1v6.5h1v-.5h1v.5h1v1h1v-1.5h2v2.5h1v-.5h1v-1.5h2v-19.5h1v1h1v17h1v2h1v-11.5h1v10h1v1.5h1v.5h1v-9h1v10.5h1v-.5h1v-1h1v-1h1v-1h3v1.5h1v3.5h1v-15h1v-19.5h1v10.5h1v19h1v6.5h1v-3.5h1v-1h1v-.5h1v-.5h1v1.5h1v4.5h1v-4.5h1v-.5h3v-.5h1v-1h1v.5h2v-5h1v.5h1v9h1v-2h1v-.5h1v-1h1v.5h1v.5h2v-1.5h1v1h1v-1.5h1v-.5h1v1.5h1v-1h1v-.5h1v.5h1v-.5h1v2h1v-1h1v4h1v1.5h3v-1.5h1v1.5h1v-4h1v4h2v-1h1v1h2v-1.5h1v.5h1v-.5h1v1.5h2v-1.5h1v1.5h2v-1h1v1h1v-.5h1v-1.5h1v-14.5h1v-7h1v14h1v4.5h1v-1h1v1h1v-1h3v1.5h4v-8.5h1v-6h1v2h1v13h1v.5h1v-1.5h1v-7h1v5.5h1v-15.5h1v2.5h1v16.5h1v-2h1v-1.5h1v.5h1v2h2v-1h1v.5h2v4.5h1v-6.5h1v1h1v-1h1v1h3v-.5h1v-.5h1v1h1v.5h1v-1h2v.5h1v1.5h1v.5h1v-.5h1v4h1v-4h1v-14h1v14.5h1v-.5h1v-1.5h1v-.5h1v1.5h1v4.5h1v-4.5h1v.5h1v-1.5h1v-12.5h1v1.5h1v9h1v3.5h1v-13h1v12.5h1v-1h1v-1h1v1h1v.5h1v-1h1v.5h2v-13h1v-6h1v15.5h1v5h1v-1.5h1v-6h1v-25h1v-4h1v35.5h1v-9.5h1v10h1v-1.5h3v1.5h1v-.5h1v.5h1v-1.5h3v-.5h1v-4.5h1v3.5h1v6.5h1V1549.0Z" fill="#e0312f"/>
<path d="M217.7,1549.0v.5h1v4.5h1v11h1v2h1v-13.5h1v-1h1v9h1v1h1v-9h1v1.5h1v12h1v-1h1v-11.5h1v-1.5h1v-.5h1v7h2v-5h1v11h1v4.5h1v-13.5h1v13.5h1v-1h1v-17h1v-2.5h1v-.5h9v1h1v-1h4v1h1v-1h7v1h1v-1h4v.5h1v4h1v10h1v-1h1v-11.5h1v-1.5h1v-.5h4v1.5h2v-1.5h6v1h1v-1h2v1h1v-1h1v1h3v-1h1v1h1v-1h3v2h2v.5h2v.5h1v16h1v19.5h1v-12.5h1v-22.5h1v-.5h1v-.5h1v6h1v-8.5h6v.5h1v-.5h9v.5h1v-.5h6v1h1v-1h3v3h1v-3h18v.5h1v-.5h2v1h1v-1h1v.5h1v-.5h1v.5h1v1.5h1v14.5h1v9.5h1v-14h1v-10.5h1v-1.5h1v.5h1v-.5h1v1h1v-1h1v1h1v-1h12v1h1v-.5h1v-.5h3v1h1v-1h2v.5h1v-.5h3v.5h1v.5h1v-1h7v1h1v-1h2v1h1v-1h4v.5h2v-.5h1v1h2v-1h1v.5h1v-.5h3v2h1v-2h4v.5h1v-.5h4v1h1v.5h1v8h1v5.5h1v-8.5h1v-5.5h1v-1h2v1h1v-1h3v1h1v-1h10v1h1v-1h11v.5h1v4.5h1v18.5h2v-18.5h1v-4.5h1v-.5h25v5h1v1h1v.5h1v-1.5h1v-.5h1v-.5h1v2h1v14h1v-1h1v-13.5h1v1h1v15.5h1v2.5h1v-18h1v.5h1v-2.5h1v1.5h1v12.5h2v-14h1v-4h1v5.5h1v-.5h1v8h1v6.5h1v-15h1v2h1v6h1v5h1v-2h1v-9.5h1v.5h1v-1h1v14h1v1h1v-9h1v-5h2v-1.5h1v-1h1v1h1v-5.5h30v.5h1v2.5h1v1.5h1v-2.5h1v-1h1v-1h8v1.5h3v-1.5h3v2h1v-2h4v1.5h1v-1.5h51v.5h1v.5h1v-1h4v1h3v-1h5v1h1v-1h8v1h1v-1h4v1h1v-1h3v1h1v-1h3v1h1v-1h6v1h1v-1h4v1h1v-1h1v.5h1v-.5h3v1h1v-1h12v1h1v-1h7v1h1v-1h4v1h2v-1h9v1h2v-1h2v.5h1v-.5h3v.5h1v.5h1v-1h6v1h1v-1h1v1h1v-1h2v1h2v-1h9v3h1v18.5h1v18h1v-17h1v-14.5h1v-5.5h1v7h1v-7h2v11.5h1v17h1v-12h1v-16h1v.5h3v-.5h1v-3h1v2.5h3v-.5h1v1h1v.5h1v5h1v6h1v-8h1v-3h1v-.5h1v.5h1v-.5h1v-1h1v-2h1v3h1v-.5h1v.5h1v-3h83v4h1v17h1v21h1v-16h1v1h1v-23h1v.5h1v-4.5h1v1h1v-1h4v1.5h1v-1.5h5v2h1v-2h8v1.5h2v-.5h2v-1h12v1h1v-1h1v1.5h1v-1.5h5v1.5h1v-1.5h4v.5h1v5h1v10.5h1v-3h1v-11.5h1v-1.5h3v1.5h2v-1.5h4v1h1v.5h1v-1.5h1v1h1v-1h10v1.5h1v-1.5h23v.5h1v4h1v4h1v.5h1v-6h1v.5h1v-3.5h3v3.5h2v-.5h1v.5h1v-.5h1v-.5h1v1h1v-.5h1v8.5h2v-7h2v7.5h1v26.5h1v3.5h1v-36.5h1v-1h2v7.5h1v-2.5h1v-5h1v-4.5h1v3h1v.5h1v1h1v-1h1v-3.5h1v3h1v-3h1v3h2v1h1v-1h1v.5h2v7.5h1v.5h1v-10h1v-1.5h23v2h1v-2h2v2h2v-.5h1v-.5h1v9h1v-1h1v-6.5h1v-2h1v1.5h1v-2h6v1.5h1v-1.5h7v2h1v-.5h1v3h1V1549.0Z" fill="#4a4fb0"/>
<path d="M217.7,1632.2v-.5h2v-.5h4v.5h4v-.5h2v.5h4v-.5h2v-.5h2v-8h2v5.5h2v3.5h2v-.5h2v.5h14v-.5h4v.5h2v-.5h4v-3.5h2v2.5h2v1.5h2v-.5h2v-.5h2v-2h2v-5.5h2v7.5h2v1h4v-1h2v.5h4v.5h2v-.5h2v.5h4v-1.5h2v-14.5h2v-14.5h2v26h2v4h2v.5h2v-.5h4v.5h2v-2h2v-2h2v3h2v.5h6v.5h4v-.5h2v.5h2v-.5h2v.5h2v-.5h2v.5h6v-.5h10v.5h2v-.5h2v-4h2v-.5h2v4.5h2v.5h4v-.5h4v.5h2v-.5h6v-.5h2v1h2v-.5h2v-4h2v3.5h2v.5h2v.5h2v-.5h4v-.5h2v.5h2v.5h4v-.5h2v.5h4v-.5h4v.5h6v-.5h2v.5h2v-.5h4v.5h8v-.5h2v.5h2v-.5h2v.5h4v-.5h10v-.5h2v1h4v-2h2v-8.5h2v7h2v3.5h2v-.5h4v.5h4v-1h2v.5h2v.5h6v-1h2v.5h6v-3.5h2v3h2v1h6v-.5h8v.5h4v-.5h4v.5h2v-8.5h2v-3.5h2v1h2v8.5h2v-1.5h2v-3h2v6.5h2v.5h2v-1h2v1h2v-.5h2v.5h6v-.5h2v.5h2v-1h2v.5h2v.5h4v-3.5h2v-17.5h2v13h2v7.5h2v.5h4v-.5h2v.5h8v-.5h2v.5h6v-.5h2v.5h2v-1h2v1h2v-.5h2v.5h2v-.5h6v.5h4v-.5h2v.5h2v-1h2v.5h6v-.5h2v.5h2v-.5h2v1h8v-.5h4v.5h14v-.5h6v.5h2v-.5h2v.5h4v-1h2v1h6v-.5h8v.5h2v-1h2v.5h2v.5h8v-.5h8v.5h2v-.5h2v-.5h2v.5h4v.5h6v-.5h4v.5h18v-1h2v-2h2v-.5h4v1h2v2h2v-.5h2v-10h2v-1h2v6h2v-5h2v1h2v-2.5h2v11h2v.5h2v-.5h2v1h4v-3h2v-10h2v10.5h2v2.5h2v.5h6v-.5h2v.5h2v-.5h2v.5h2v-.5h2v.5h4v-.5h4v.5h4v-1h2v.5h2v.5h2v-1h2v.5h2v.5h6v-.5h2v.5h4v-.5h2v.5h2v-.5h4v-.5h2v1h2v-.5h4v.5h2v-.5h2v.5h6v-3.5h2v.5h2v2h2v-2h2v2.5h2v-2h2v-2h2v-13h2v7h2v7h2v3h2v.5h2v-1h2v1h2v-.5h4v.5h2v-.5h4v.5h2v-.5h2v.5h2v-.5h2v.5h2v-.5h2v.5h2v-.5h2v.5h4v-1.5h2v-7.5h2v7h2v1.5h4v.5h6v-.5h4v.5h2v-.5h2v.5h8v-.5h2v.5h2v-1h2v1h12v-1h2v1h2v-.5h6v.5h2v-6h2v-4.5h2v2.5h2v4.5h2v2h2v-8h2v7h2v1.5h2v-1.5h2v-11.5h2v9h2v-4h2v-8h2v13.5h4v-2.5h2v4.5h2v-1.5h4v2h2v.5h4v.5h2v-.5h2v.5h2v-.5h6v.5h4v-.5h2v.5h2v-.5h2v-.5h2v.5h2v-.5h2v-3h2v-1h2v-10.5h2v5.5h2v8h2v-1.5h2v-4h2v3.5h2v1h2v1h2v-6h2v5h2v-1.5h2v.5h2V1632.2Z" fill="#1c7d3b"/>
<path d="M217.7,1632.2H1103.4" stroke="#1c7d3b" stroke-width="1.2"/>
<path d="M217.7,1673.5v-4.5h2v.5h2v2h2v-.5h2v-1.5h4v2h4v-2.5h2v-7h2v-19.5h2v24.5h2v3h2v-1h2v-4.5h2v6.5h4v-1h4v1h2v-.5h4v.5h2v.5h2v-1h2v1h2v-1.5h2v-6h2v5h2v2h2v-.5h2v-2h2v2.5h2v-7h2v7h2v-2h2v2.5h2v-1.5h2v-1h2v1h2v-4.5h2v-1h2v4h2v2.5h2v-16h2v-14.5h2v27.5h2v3.5h4v-1.5h2v-4h2v4.5h2v1h2v-2h2v1.5h2v.5h2v-1.5h2v-.5h2v.5h2v.5h4v-1h2v1.5h2v-2h2v.5h2v-.5h6v1.5h4v-1h2v.5h2v1.5h2v-2.5h2v-12h2v9h2v4.5h2v1h2v-4h2v2.5h2v-1h2v-7h2v9h2v-1h2v-1.5h2v1.5h2v-1h2v2.5h2v-1.5h2v1.5h4v-.5h2v.5h8v-.5h2v-1.5h2v2h6v-1h2v1h2v-1h2v1h4v-1h2v1h2v-2.5h2v1h2v1h2v-1h2v-1.5h2v2h2v.5h2v.5h2v-.5h2v-1.5h2v.5h2v1h2v-2h2v2.5h2v-.5h2v-1.5h2v-1h2v2h2v1h2v-1h2v-4.5h2v-30.5h2v26.5h2v7h2v2.5h6v-2h2v1.5h2v-1h4v1.5h2v-.5h2v.5h2v-2h2v1h2v.5h2v-2h2v-3h2v3.5h2v2h2v-.5h4v-.5h4v-2h2v-5.5h2v5.5h2v1.5h2v1h2v-.5h2v1h2v-1.5h2v.5h2v-16h2v7h2v7.5h2v4.5h2v-2h2v-.5h2v-2h4v.5h2v.5h2v1.5h6v-2.5h2v2.5h2v-2h2v2h2v-4.5h2v-33.5h2v25.5h2v12.5h2v-2.5h2v-2.5h2v5h2v-2h2v-1h2v2h2v1h2v-.5h2v-1h2v1h2v-.5h2v-1h2v.5h2v-1h2v-.5h2v2h2v-2h2v3h2v-1h2v-1h2v-1h2v2h2v-3h2v-2.5h2v5.5h2v1h2v-1h2v.5h2v-1h2v-5h2v6.5h2v-.5h2v-2h4v.5h2v1.5h2v-2.5h2v.5h2v-6h2v7h4v-3.5h2v5h6v-1h2v-2h2v1.5h2v-.5h2v-1h4v2.5h2v-.5h2v-2h4v1h2v1.5h2v.5h4v-.5h2v.5h2v-2.5h4v2h2v-1.5h2v2h2v-2h2v1h2v1h2v-3.5h2v.5h2v3h2v-.5h2v.5h2v-1.5h2v1.5h2v-2.5h2v2h2v-2.5h2v3h10v-1.5h4v-.5h2v1.5h2v-1h2v-4h2v4h4v.5h2v-4.5h2v2h2v1h2v-14.5h2v-3h2v8h4v10.5h2v-1h2v-2.5h2v4h2v-1.5h2v-1.5h4v-6.5h2v-26h2v29.5h2v7h2v-1h2v-2h2v3h2v-.5h2v.5h2v-2.5h2v2.5h4v-1.5h2v-.5h2v1h2v-1h4v1.5h2v.5h2v-1.5h4v-1.5h2v1h2v2h4v-.5h2v-1.5h2v1.5h2v.5h4v-.5h2v-.5h2v-1h2v-.5h2v2.5h2v-1h2v-2h2v2.5h2v.5h2v-1.5h2v-1h2v2.5h4v-.5h4v.5h4v-1h2v-7h2v-24h2v23h2v6h2v2.5h2v.5h6v-2.5h2v1h2v-1.5h2v2h2v1h2v-.5h4v.5h4v-2h2v-.5h2v-.5h2v2.5h2v-1h2v1h2v-3h2v-16h2v15h2v4.5h2v-2.5h2v-.5h2v.5h2v2.5h2v-1.5h2v-.5h2v.5h2v.5h2v-1h2v2h2v-1.5h2v-1.5h2v1.5h2v1h2v.5h2v-2.5h2v.5h2v-1h4v1h2v-.5h4v-1.5h2v2h2v-1.5h2v-4h2v6h2v-2.5h2v-16h2v4h2v13.5h2v-1.5h2v3h4v-1.5h2v1.5h2v-3.5h2v-.5h2v-3.5h2v-6.5h2v8.5h2v1.5h2v1.5h2v-1.5h2v3h2v-.5h2v-1h2v-.5h2v2h4v-2.5h2v1h2v2.5h2v.5h4v.5h8v-1.5h4v-1h2v1h2v1h2v-1h2v-23h2v10h2v14.5h2v-1h2v1h2v-.5h2v.5h2v-2h2v-15h2v12h2v3h2v-4.5h2V1673.5Z" fill="#1c7d3b"/>
<path d="M217.7,1673.5H1103.4" stroke="#1c7d3b" stroke-width="1.0"/>
<path d="M217.7,1716.2h2v-.5h2v-.5h2v1h2v-.5h2v.5h6v-.5h2v-1.5h2v-10h2v7h2v4.5h4v.5h2v-.5h6v.5h2v-1h2v.5h2v-.5h2v.5h4v.5h2v-1h2v-4h2v3h2v1.5h6v-3h2v-6h2v8h2v1h2v.5h2v-.5h14v-1.5h2v-13h2v-18.5h2v29h2v4h2v.5h10v-1h2v-2.5h2v2.5h4v.5h2v.5h6v-.5h2v.5h2v-.5h10v.5h2v-.5h2v.5h2v-1h2v1h4v-.5h2v-4.5h2v-.5h2v5h6v.5h2v-.5h2v.5h6v-.5h2v.5h4v-.5h2v-2h2v1.5h2v1h2v-.5h2v.5h2v-.5h12v.5h4v-.5h6v.5h2v-.5h10v.5h6v-.5h2v.5h2v-.5h2v.5h8v-.5h6v.5h2v-.5h6v-2.5h2v-10h2v8.5h2v4h10v.5h2v-.5h2v.5h2v-.5h2v.5h2v-.5h2v.5h6v-1.5h2v-1.5h2v2.5h2v.5h2v-.5h8v.5h4v-1h2v.5h4v.5h2v-1.5h2v-5.5h2v.5h2v-5h2v6.5h2v-4h2v8h2v.5h2v.5h2v-.5h2v-.5h2v.5h8v-.5h2v1h2v-.5h2v.5h2v-.5h2v-3h2v-18.5h2v13.5h2v7.5h2v1h6v-.5h2v.5h2v-.5h2v-.5h2v.5h6v.5h4v-.5h2v.5h4v-.5h10v.5h2v-.5h2v.5h2v-.5h2v.5h2v-.5h2v.5h2v-1h2v1h2v-.5h2v.5h4v-1h2v.5h2v.5h6v-.5h2v-.5h4v1h2v-.5h6v.5h6v-.5h2v.5h4v-.5h2v.5h4v-1h2v1h2v-.5h8v.5h4v-.5h6v.5h2v-.5h4v.5h2v-.5h10v.5h2v-.5h2v.5h2v-.5h4v.5h4v-.5h2v.5h6v-.5h4v.5h8v-.5h10v-2h2v-13.5h2v-1.5h2v15h2v1h2v-9.5h2v-3.5h2v13h2v1.5h2v-.5h2v-.5h2v.5h2v-5.5h2v-12.5h2v14h2v4h8v-.5h2v.5h6v.5h2v-.5h2v.5h2v-.5h4v.5h10v-1h4v.5h4v.5h2v-1h2v.5h4v.5h4v-.5h10v.5h2v-.5h2v.5h2v-.5h4v.5h4v-.5h4v-.5h2v.5h2v-.5h2v-5h2v-15.5h2v15.5h2v5h2v1h2v-.5h4v-.5h2v1h2v-1h2v1h4v-.5h2v-.5h2v1h4v-.5h6v.5h2v-.5h2v.5h2v-.5h2v-2h2v-9h2v8.5h2v2.5h6v.5h10v-1h2v.5h6v.5h2v-.5h10v.5h2v-.5h6v.5h2v-.5h4v.5h2v-.5h4v-2.5h2v-8.5h2v2.5h2v7h2v1.5h2v-1.5h2v-1h2v.5h2v-11h2v8.5h2v4h2v-6h2v-6.5h2v11.5h2v.5h2v-.5h2v.5h2v-1h2v1.5h4v.5h2v.5h12v-.5h4v-.5h2v1h8v-.5h2v.5h2v-.5h2v-2.5h2v-16.5h2v5.5h2v12h2v1.5h2v-.5h2v.5h4v-1.5h2v-7h2v5.5h2v3h4V1716.2Z" fill="#b92128"/>
<path d="M217.7,1716.2H1103.4" stroke="#b92128" stroke-width="1.2"/>
<path d="M217.7,1757.6v-3.5h2v2.5h2v-3h2v.5h2v2.5h2v-7h2v5h2v1.5h2v-2.5h2v-10h2v-22h2v28h2v5h4v1.5h2v-.5h2v1h2v-6.5h2v5.5h2v2h2v-1.5h2v-1.5h2v2h2v-1h2v1h2v-2h2v2h4v-2h2v1h2v-.5h4v.5h4v1h6v1h2v-1.5h2v-2h2v2h2v.5h2v-.5h2v-1h2v-16.5h2v-19.5h2v33h2v1.5h2v1.5h2v.5h2v.5h2v-1h2v1h2v-.5h4v-.5h2v-1h2v1h2v1.5h2v-1.5h2v-.5h2v1h2v2h2v-1h2v-1h2v-1h2v1h2v-1h2v.5h2v-1h2v2h2v-2h2v.5h2v1h2v-12h2v7.5h2v3.5h2v.5h2v1.5h2v-2h2v1.5h2v-2h2v2h2v.5h2v1h2v-2h2v-4.5h2v4.5h2v1h2v-.5h2v.5h2v-3h2v2h2v.5h2v.5h2v-1.5h2v1.5h4v-1.5h2v.5h2v-1h2v-.5h2v-3h2v3.5h2v-.5h4v1h2v-.5h2v2h4v-1.5h6v.5h2v1h2v-8h2v8h2v-1.5h2v1h2v-5h2v4.5h4v-.5h2v-1h2v2h2v.5h2v1h2v-1.5h2v-7h2v-26h2v22.5h2v8.5h2v2.5h2v-2.5h2v2h2v-1.5h2v-1h2v.5h2v2h2v-2.5h2v2h2v.5h4v.5h2v-1.5h2v.5h2v-.5h2v-1h2v1.5h2v1h2v-3h2v3h2v-3.5h2v2.5h2v2h4v-1h2v-.5h2v.5h2v-2h2v-11h2v9h2v-31.5h2v15h2v18.5h4v2h2v-.5h2v-1.5h2v-.5h2v2.5h2v-3h4v3h2v-1h2v-1.5h2v2h2v.5h2v-1.5h2v-4.5h2v-31.5h2v22.5h2v14h2v.5h2v-2.5h6v3h4v-2h2v1h2v-2h2v1.5h2v1.5h4v-2h2v1.5h2v-.5h2v-.5h2v1.5h4v-1h2v1h2v1h4v-1h4v1h2v-3h2v1h4v-1.5h2v1.5h2v1h2v-2.5h2v1.5h2v-.5h2v1h2v-.5h2v1h2v-1.5h2v-1h2v.5h2v-.5h2v-.5h2v2h2v-2h2v1h2v-2h2v3.5h2v-1h2v1.5h2v1h2v-4h2v2h2v-.5h2v1h2v-.5h2v1h2v-.5h2v.5h2v1h2v-2.5h2v-1h2v2.5h4v-1.5h2v-1.5h2v1.5h2v.5h2v-1.5h2v2.5h4v-1h2v-.5h2v1.5h2v-5h2v3.5h2v-1h2v2h2v.5h2v-.5h6v-1h2v1h2v-2.5h2v3h2v-2.5h2v2h2v-2h2v2h2v-.5h2v.5h2v-1.5h2v.5h2v-.5h2v1h2v-1h2v-22.5h2v2h2v20.5h2v.5h2v-17h2v-3h2v19h2v.5h2v3h2v-1h2v-.5h2v-12h2v-31.5h2v34h2v9.5h4v-2.5h2v4h4v-2h4v-2h2v.5h2v-5.5h2v6.5h2v-3h2v2h2v.5h2v1.5h2v-1h2v.5h2v2h2v-1h2v-2.5h2v1.5h2v-6.5h2v2h2v4.5h2v-1.5h2v.5h2v.5h4v1.5h6v-1.5h2v-1h2v-.5h2v1h4v3h2v-1h2v-2h2v1.5h2v-1h2v-1h2v2.5h2v-2h2v1h2v-10.5h2v-34.5h2v35h2v10.5h2v-2.5h2v1h2v-.5h2v.5h2v1h6v1h4v-.5h4v.5h2v-1.5h2v1h2v-.5h2v-2h2v.5h2v3.5h2v-1h2v-5.5h2v-17.5h2v16.5h2v6.5h2v-1.5h2v1.5h2v-.5h2v-1.5h2v2h2v-2h2v2h2v-1h2v2h2v-1.5h4v-2h2v2h2v.5h2v-5h2v4h6v-.5h2v1h2v-.5h2v-.5h2v2.5h4v-1h2v-.5h2v-1.5h2v.5h2v-18h2v5h2v13.5h2v-2.5h2v.5h2v2h2v-2h2v-16h2v12.5h2v3.5h2v-10h2v-11.5h2v22h4v-15.5h2v12h2v5h2v-2h2v1.5h2v-.5h2v2h2v-2.5h2v-10h2v8.5h2v3h2v1h2v-.5h2v-1.5h2v-12.5h2v9.5h2v2h2v1.5h2v1h2v-.5h2v1h4v-3.5h2v-30h2v12.5h2v19h2v1h2v-.5h2v1.5h2v-1.5h2v-1h2v-9.5h2v8h2v2.5h2v.5h2V1757.6Z" fill="#b92128"/>
<path d="M217.7,1757.6H1103.4" stroke="#b92128" stroke-width="1.0"/>
<path d="M217.7,1800.3v-4.5h2v-2.5h2v2h2v1.5h2v1h2v.5h2v-5h2v1.5h2v3h2v-2h2v-3h2v1h2v5.5h2v.5h4v-.5h2v-.5h2v.5h2v.5h8v-.5h2v-3h2v-1.5h2v2h2v-1h2v-3.5h2v1.5h2v-3h2v5h2v1h2v-1.5h2v-2.5h2v-1h2v1h2v-1h2v1.5h2v3h2v.5h2v-2.5h4v-2h2v-1h2v1h2v-2h2v3h4v-1h2v2.5h2v-2.5h2v-.5h2v3h2v1.5h2v-2h6v5h8v-.5h4v1h2v-.5h8v.5h2v-.5h2v-.5h2v.5h2v-.5h6v-3h2v.5h2v2.5h4v.5h6v-.5h4v.5h4v.5h14v-1h2v1h4v-1h4v.5h4v.5h2v-.5h2v.5h4v-1h6v1h2v-.5h2v.5h2v-.5h2v.5h2v-.5h2v.5h2v-1h4v.5h2v-.5h4v1h2v-1h4v1h2v-.5h2v.5h4v-.5h2v-1.5h2v-4.5h2v-.5h2v4h2v-.5h2v3.5h4v-.5h2v-.5h4v.5h4v-.5h2v.5h2v-.5h2v1h2v-1h2v1h8v-.5h2v-.5h2v1h2v-.5h2v-4h2v-6.5h2v1h2v-3h4v4h2v4.5h2v-5h2v3h2v-4h2v5.5h2v-6.5h2v5h2v6.5h8v-.5h4v.5h6v-.5h4v.5h2v-.5h2v-.5h2v-2h2v-6.5h2v5h2v3.5h2v1h10v-1h4v1h8v-.5h2v.5h2v-.5h2v.5h2v-.5h2v.5h4v-.5h2v.5h2v-.5h2v-.5h2v.5h2v-.5h2v1h2v-.5h2v-.5h4v.5h2v.5h2v-.5h8v.5h6v-1h2v1h4v-1h4v.5h4v-.5h2v1h6v-.5h2v.5h2v-.5h2v.5h2v-1h6v1h2v-1h4v1h2v-.5h2v.5h4v-1h2v1h2v-.5h2v-.5h2v1h4v-1h4v1h2v-1h2v.5h2v.5h2v-.5h2v.5h4v-1h2v1h2v-1h2v1h2v-.5h2v.5h2v-.5h2v.5h2v-.5h6v.5h2v-8.5h2v4.5h2v-5.5h2v3.5h2v-2h2v2.5h2v2.5h2v-8.5h2v1h2v-1h2v3.5h2v2.5h4v-4h2v-.5h2v.5h2v6h2v-.5h2v-1h2v-6.5h2v7.5h2v-1h2v2h2v-.5h2v-3.5h2v-1.5h2v3.5h2v-5h2v7.5h4v-1h2v-5.5h2v5h2v-4.5h2v4h2v3.5h2v.5h2v.5h2v-1h6v.5h4v.5h2v-1h2v.5h6v-.5h2v.5h4v-.5h2v1h8v-1h2v.5h2v-.5h2v1h2v-.5h2v-.5h2v-1h2v-5h2v-2h2v1.5h2v3h2v-9h2v8.5h2v.5h2v-3h2v4h2v1h2v-6h2v3h2v5h6v.5h6v-.5h2v.5h2v-1h2v1h2v-1h2v.5h2v.5h2v-.5h2v-3h2v-8h2v6.5h2v4h2v1h2v-1h2v1h4v-.5h4v.5h2v-.5h2v.5h6v-.5h6v-.5h2v.5h2v.5h2v-3h2v-4.5h2v-1h2v-2h2v4h2v.5h2v-2h2v-1.5h2v4.5h4v-6h2v2h2v.5h2v2h2v-1h2v2.5h2v-5.5h2v6.5h2v-3h2v-6h2v9h2v1h2v-7.5h2v.5h2v6.5h2v.5h4v-4h2v3.5h2v-9.5h2v7h2v-2.5h2v-1.5h2v5.5h2v2h2v-.5h2v-3h2v-5h2v3.5h2v2h2v5h4v.5h2v-1h4v.5h2v.5h2v-7h2v-3.5h2v3h2v1h2v3.5h2v1h2v-2h2v2h2v-6.5h2v1h2v2.5h2v2h2v-.5h2V1800.3Z" fill="#c8962c"/>
<path d="M217.7,1800.3H1103.4" stroke="#c8962c" stroke-width="1.2"/>
<path d="M217.7,1841.6v-16h2v-.5h2v7h2v2h2v1h2v1.5h2v-.5h2v.5h2v-4.5h2v5h2v.5h2v-4.5h2v-.5h2v5h2v-1h2v-5h2v-10.5h2v12.5h2v-3h2v-8.5h2v15h2v-5h2v-1h2v3h2v.5h2v-12.5h2v6h4v7h2v-5h2v-7.5h2v4h4v-2h2v2.5h4v8h2v-2.5h2v-6.5h2v7.5h2v-2h2v-3.5h2v4h2v-5h2v3h2v-10.5h2v8h2v7h2v-8.5h2v-.5h2v-1h2v.5h2v6h2v4h2v-11h2v8h2v-1.5h2v6.5h4v1h2v-4h2v1.5h2v2.5h2v-3h2v1.5h2v.5h2v-2.5h4v1.5h2v1.5h2v-1h4v-11h2v11.5h2v-2.5h2v-4h2v1.5h2v-10h2v15h2v-8h2v5.5h4v-2h2v-1.5h2v6h4v-1h2v-7h2v4h2v3h2v-4.5h2v1.5h2v3h4v-2.5h2v-6h2v5h2v-6h2v6.5h2v1h2v-6h2v3h2v4h2v-8h2v3.5h2v1h2v-.5h2v1.5h2v-2h2v1h2v4h2v-2.5h2v-1.5h2v4.5h2v-6.5h2v1.5h2v5h2v1h2v-2h2v-1.5h2v.5h2v3h2v-6h4v3.5h2v-3.5h2v-2h2v-1.5h2v5.5h2v1.5h2v-8h2v1h2v1h2v-4h2v7h2v2.5h2v-5.5h2v4.5h2v-7h2v2h2v7.5h2v-2.5h2v-5.5h2v7.5h2v-1h2v1h2v-7h2v-4h2v3h2v-2.5h2v8.5h2v-7.5h2v-2.5h2v3h2v7.5h2v-1h2v-8h2v3.5h2v3.5h2v2h2v1.5h2v-12.5h2v3h2v9h4v7h2v-16.5h2v10h2v-1h2v-8.5h2v5h2v-4.5h2v5h2v1h2v-6h2v7h2v-6.5h2v2.5h2v6.5h2v-7.5h2v.5h2v-4.5h2v8.5h2v.5h2v2h2v-4.5h2v-2.5h2v.5h2v1h2v4h2v-2.5h2v-2h2v5.5h2v-3.5h2v3h2v-3.5h2v4.5h2v-1h2v1h2v2h2v-7h2v3h4v-4h2v.5h2v6h2v-4h4v3.5h2v-12h2v3.5h2v4.5h2v-4h2v-.5h2v-2h2v-1.5h2v4.5h2v1h2v-.5h2v4.5h2v1.5h2v-7.5h2v1.5h2v4h2v-9h2v12.5h2v1h2v-3h2v2.5h2v-9h2v9h2v-1h2v2h2v-2h2v1h4v-.5h2v-1h2v.5h2v.5h2v-10h2v5h2v2.5h2v-3h2v-5.5h2v9.5h2v-9h2v7h2v2.5h2v-12h2v9h2v-8h2v10.5h2v-3h2v-3h2v5.5h2v-7h2v4.5h2v-6.5h2v7h2v-2.5h2v3.5h4v-2.5h2v2.5h2v-3.5h2v3h2v-2.5h2v4h2v-1.5h2v-.5h2v-2h2v-7.5h4v7.5h2v-2.5h2v-2h2v-.5h2v3.5h2v5.5h2v-5.5h2v-5.5h2v11.5h4v-6h2v5.5h4v-1.5h2v-.5h2v-9h2v12h2v-16h2v12.5h2v5.5h2v-6h4v6.5h2v-2h2v-1h2v4h2v-3h2v2h2v1h4v-2h2v-13h2v8.5h4v-3.5h2v1.5h2v2.5h2v3h2v-7.5h2v6h2v-13.5h2v16.5h2v-.5h2v-5h2v2.5h2v4.5h2v-2.5h2v-1.5h2v.5h2v-1h2v3h2v-1.5h2v-3.5h2v1h2v4h2v-1h2v-1h2v1.5h2v-1h2v1.5h2v-5.5h2v5h2v-4.5h2v2h2v2h2v-14.5h2v14h2v2h2v-3h2v-13h2v12.5h2v-2.5h2v-.5h2v.5h2v3h2v-8.5h2v.5h2v-7h2v12h2v2.5h2v-2.5h2v2.5h2v.5h2v1.5h2v-5h2v3.5h2v3h2v-4.5h2v-8.5h2v9h2v-6h2v3h2v-1.5h2v5.5h2v.5h2v-6.5h2v5h2v-4.5h2v6.5h2v-10.5h2v6h2v-6.5h2v1.5h2v-.5h2v-1h2v10.5h2v-7h2v6h2v-8h2v1.5h2v5.5h2v-.5h2v3.5h2v-3h4v-24h2v5h2v12.5h2v2.5h2v-5.5h2v3.5h2v4h2v.5h2v.5h2v-.5h2v-13h2v7.5h2v-5.5h2v11.5h2v-13h2v9h2v-12h2v-.5h2v1.5h2v10h2v-10.5h2v-4.5h2v7.5h2v5h2v-6h2v-3.5h2v4.5h2v11.5h2v-12.5h2v13.5h4v-3.5h2v3h2v-.5h2v3h2v2h2v-2h2v-1.5h2v-.5h2v-2h2v1.5h2v-10h2v7.5h2v4h2v2.5h2v-2h2v-.5h2v4.5h2v-1.5h2v-10h2v10h2v3h2v-2h2V1841.6Z" fill="#c8962c"/>
<path d="M217.7,1841.6H1103.4" stroke="#c8962c" stroke-width="1.0"/>
<path d="M217.7,1883.9v-7.5h2v-.5h2v-5h2v6h2v-3.5h2v3.5h2v1h2v-1.5h2v2.5h2v1.5h2v-6.5h2v7h2v-5h4v2h2v.5h2v2h2v-.5h2v-4.5h2v-.5h2v1h2v-9h2v9h2v-2h2v1.5h2v2h2v2h2v.5h2v1.5h2v-.5h2v-10h2v8h2v1h2v-1h2v-4h2v-.5h2v1.5h2v-1.5h2v2h2v-2h2v-2h2v2h2v5.5h2v-2.5h2v-1h4v-1.5h2v1.5h2v3h4v-1h4v2h4v-1h2v.5h2v-.5h2v-5h2v6h2v-.5h2v1.5h2v-5h2v-3h2v6h2v1h2v1h2v-1h4v-3.5h2v1h2v-2.5h2v-.5h2v5h2v.5h2v-3.5h2v2h2v-3h2v3h2v1.5h2v-4.5h2v1h2v-.5h2v.5h2v-2.5h2v.5h2v5.5h6v-5h2v1.5h2v-2h2v-3h2v7.5h2v-10h2v6h2v4h4v-5.5h4v5.5h2v-7.5h2v7.5h2v-2h2v-2h2v-1.5h2v-.5h2v7h2v-1.5h2v1h4v-4h2v4h2v-9.5h2v-5h2v-2.5h2v4.5h2v-3h2v.5h2v8h2v-.5h2v-15h2v14.5h2v-10h2v14.5h2v-2.5h2v-4h2v6h2v-8.5h2v6h2v-3h2v-9h2v-4h2v16.5h2v2h4v-2h2v2.5h2v3.5h2v-3h2v-5h2v2.5h2v3h2v-4.5h2v3.5h2v1h2v-8h2v9.5h2v2h2v.5h2v-7.5h2v7h2v-2h2v3h2v-2.5h2v-3.5h2v5h2v-7h2v4.5h2v-1.5h2v-2h4v2.5h2v-6.5h2v7h2v-2.5h2v7.5h2v-1.5h2v1.5h4v-.5h4v.5h2v-7.5h2v1.5h2v-4.5h2v3.5h4v-.5h2v.5h2v4.5h4v-5.5h2v4.5h2v-5.5h4v1.5h2v1.5h2v4h2v-4.5h2v3h2v-3h4v5h2v-1.5h2v1h2v.5h2v-4h2v2h2v.5h2v-.5h2v-9h2v12h2v-2h2v-.5h4v-.5h2v2h2v-1h2v-1h2v1.5h2v-2h2v2h2v-15.5h2v.5h2v-14.5h2v-.5h2v-5.5h2v7.5h2v2h2v-5.5h2v12h2v6h2v-11h2v-21.5h2v12.5h2v2.5h2v14.5h2v2h2v-24.5h2v.5h2v16h2v-11.5h2v1h2v4h2v-8h2v-2h2v1.5h2v8.5h2v-18.5h2v6.5h2v-24.5h2v49.5h2v-19h2v8.5h2v-3.5h2v-5.5h2v2.5h2v27.5h2v3h2v-5h2v-4.5h2v1.5h2v6.5h2v-6h2v-1h2v7h2v-1h2v-5.5h2v-5.5h2v-4h2v11.5h2v-14.5h2v15h2v-12h2v13.5h2v-5.5h2v-2h2v10h2v-1h2v-5h2v3h2v-.5h2v6h2v-7.5h2v4.5h2v2h2v-6h2v3.5h2v-4h4v7.5h2v-2h2v-4.5h2v5h2v-.5h2v-6.5h2v-4h2v9h4v-9.5h2v5.5h2v1h2v-2.5h2v-6h2v6h2v4h4v-5h2v3.5h2v2h2v3.5h2v-5h2v-1h2v-27h2v29.5h2v3.5h2v.5h2v-.5h2v-5.5h2v6.5h2v-19.5h2v2.5h2v16.5h2v-3h2v-1h2v-8.5h2v6.5h2v-9h2v-3h2v8.5h4v-8h2v-1.5h2v-2h2v14.5h2v-1.5h2v-4.5h2v.5h2v3.5h2v3h2v-5h2v-10h2v11h2v-15h2v5h2v15.5h2v-2h2v1.5h2v-1.5h2v-10.5h2v10.5h2v-8.5h2v9.5h2v-3h2v5h2v-5.5h2v-8.5h2v-1h2v11h2v3.5h2v.5h2v-4.5h4v-8.5h2v10h2v-2h2v2h2v-1h2v-2.5h2v-2h4v4.5h2v-6h2v8.5h2v-5.5h2v2h2v-5.5h2v4.5h2v-10h2v-3h2v18.5h2v-7.5h2v-3h2v5h2v-20.5h2v24h2v-3.5h2v6h2v-5h2v7.5h2v-6h4v-23.5h2v24.5h2v.5h4v-6.5h2v2h2v-13h2v14.5h2v-8h2v3.5h2v8h4v-9h2v8h2v2h2v-5.5h2v2.5h2v3h2v-8.5h2v6.5h2v-3h2v-6h2v6h2v4h2v-22.5h2v21h2v-4.5h2v8.5h2v-13h2v2h2v2.5h2v5.5h2v5h2v-.5h2v-8.5h2v9.5h2v-.5h2v-4h2v.5h2v-1h2v1.5h2v.5h2v-9.5h4v9.5h2v-14.5h2v11.5h2v-7.5h2v-.5h2v-5.5h2v10.5h2v-2h2v6h2v-1.5h2v-10.5h2v3h2v5.5h2v-11.5h2v12h2v4.5h2V1883.9Z" fill="#5a3aa9"/>
<path d="M217.7,1883.9H1103.4" stroke="#5a3aa9" stroke-width="1.0"/>
<path d="M217.7,1926.1v-7h2v-4.5h2v4.5h2v-2.5h2v1.5h2v-3h2v4h2v-4h2v.5h2v2.5h2v-11.5h2v-1h2v13h2v-4.5h2v1.5h2v1h2v-1h2v-.5h2v4h2v-.5h2v-1h2v-5.5h4v2h2v3h2v-5.5h2v-1h2v1h2v7.5h2v-2h2v-6.5h2v5h2v-6h2v4.5h2v2h2v1.5h2v-.5h2v-10h2v-3.5h2v1h2v13h2v-2.5h2v1h2v-4h2v3.5h2v-4h2v.5h2v-2.5h2v4.5h2v-2h2v5.5h2v-11.5h2v8h2v-4.5h2v7.5h2v2.5h2v-8h2v6h2v3.5h2v-5.5h2v1.5h2v4.5h2v-6.5h2v6h2v-.5h2v-1h2v-8h2v2h4v-2.5h2v5h2v2.5h4v-1.5h2v-4h2v6h4v-1h2v1.5h4v-.5h4v1h2v-10.5h2v8h2v4.5h2v-.5h2v-1.5h2v-1h4v-.5h2v-2h2v.5h2v3h2v-.5h2v-7.5h2v4.5h2v-5h2v-.5h2v1h2v2h2v-1h2v5h2v1h2v-1.5h2v2h4v-5.5h2v-.5h2v-.5h2v1h2v-9h2v-10.5h2v13h2v-17.5h2v7h2v17.5h2v-1h2v-3h2v5h2v5h2v-16.5h2v13h2v2h2v-8.5h2v-2h2v9h2v-10h2v-3.5h2v10.5h2v-4.5h2v3.5h2v-3.5h2v-7h2v10h2v-5.5h2v-3.5h2v-6h2v-3h2v1h2v11.5h2v2h2v-11h2v2.5h2v2.5h2v5h2v-4h2v13h4v-5.5h2v6.5h2v-4.5h2v4h2v-.5h2v2.5h2v-6.5h2v3.5h2v-16h2v18h2v-2.5h2v-4.5h2v3.5h2v-3h2v6.5h2v2.5h2v4.5h2v-12h2v4h2v-2h2v1h4v2.5h2v2h2v-4.5h2v3h2v-2.5h2v.5h2v-2h2v-2h2v-4.5h2v-5.5h2v2.5h2v1.5h2v9.5h2v-4h2v2.5h2v-16h2v20h2v-3h2v-5h2v1.5h2v-12.5h2v19h2v-7.5h2v4.5h2v.5h2v-2h2v1.5h4v-9h2v4h2v2h2v-.5h2v5h4v.5h2v-3h2v-7h2v10h2v-2h2v-7.5h2v8h2v-4h2v-6h2v1.5h2v5h2v1.5h2v-9.5h2v-2h2v-21.5h2v12.5h2v5.5h2v-14h2v17h2v4.5h2v-5h2v8.5h2v-22.5h2v22h2v-1.5h2v5.5h2v-2h2v-11.5h2v13h2v-9.5h2v3h2v9h2v-12h2v13h2v-9h2v-1h2v-20.5h2v24.5h2v2h2v-6h2v.5h2v6.5h4v-.5h2v.5h2v-1h2v-7.5h2v5.5h2v-12.5h2v7h2v-18h2v21.5h2v-14h2v3h2v-10h2v19.5h2v-3h2v-22.5h2v13h2v8h2v-16.5h2v11.5h2v-10h2v10.5h2v-7h2v10h2v12h4v.5h2v-4h2v2.5h2v1.5h2v5.5h2v-2h2v-2.5h2v2.5h2v-.5h2v3h2v-3h2v3h4v-6h2v3h2v1.5h2v-8h2v8.5h2v-10.5h2v1.5h2v2h2v-.5h2v2.5h2v-2.5h2v5.5h2v2.5h4v1h2v-1.5h2v.5h2v-.5h2v-6h2v3.5h2v.5h2v1.5h2v-7h2v5h2v-7.5h2v9h4v-10h2v4h2v-6h2v2h2v-.5h2v6h2v-6h2v7.5h2v-13.5h2v-4.5h2v5.5h2v8h2v.5h2v-4.5h2v5.5h2v-18.5h2v.5h2v10.5h2v5.5h2v-5h2v-11h2v12.5h2v-5.5h2v6.5h2v6h2v-2.5h2v-2h2v-4.5h2v5.5h2v3h2v1.5h2v-15.5h2v1.5h2v8h2v-6h2v6.5h2v3h2v2.5h2v-8.5h2v9.5h2v-13.5h2v12.5h2v-11.5h2v9.5h2v-3.5h2v-15.5h2v23h2v-7h2v2.5h2v-1h2v2h2v-4.5h2v-7.5h2v-1h2v1h2v6h2v1.5h2v-9.5h2v1h2v4h2v-2.5h2v10.5h2v-21h2v11.5h2v8h2v-18.5h2v6h2v6h2v-7.5h2v6.5h2v2h2v8.5h2v-12h2v4.5h2v-6.5h2v5h2v-3h2v1h4v-7.5h2v12.5h2v-8h2v13h2v-15.5h2v15h2v2h2v2h2v1h2v-11.5h2v9h2v4.5h2v-6.5h4v2.5h2v-.5h2v5h2v-1h2v2h2v-7h2v.5h2v4.5h2v1.5h2v-2h2v-12.5h2v15.5h4v-3.5h2v1h2v2.5h2v-1.5h2v-4h2v1h2v-5h4v4.5h2v-5.5h2v8h2v-6h2v-5h2v9h2v-7.5h2v-7h2v15.5h2v-5h2v-5.5h2v5.5h2v4h2v-2h2v-2.5h2V1926.1Z" fill="#5a3aa9"/>
<path d="M217.7,1926.1H1103.4" stroke="#5a3aa9" stroke-width="1.0"/>
<text x="17.2" y="2018.3" font-size="44" >e</text>
<text x="122.8" y="2011.0" font-size="28" textLength="222.0" lengthAdjust="spacingAndGlyphs" >Mouse Tissue Atlas:</text>
<text x="1037.9" y="2018.0" font-size="20.5" textLength="49.9" lengthAdjust="spacingAndGlyphs" >60 kb</text>
<path d="M1102.5,2010.6H1195.6M1103.5,2006V2015.2M1194.6,2006V2015.2" stroke="#231f20" stroke-width="3"/>
<path d="M572.4,2041H641M572.9,2036.5V2045.5M640.5,2036.5V2045.5" stroke="#2e4a9a" stroke-width="1.6"/>
<path d="M579.0,2038.2l-2,2.8l2,2.8M584.0,2038.2l-2,2.8l2,2.8M589.0,2038.2l-2,2.8l2,2.8M594.0,2038.2l-2,2.8l2,2.8M599.0,2038.2l-2,2.8l2,2.8M604.0,2038.2l-2,2.8l2,2.8M609.0,2038.2l-2,2.8l2,2.8M614.0,2038.2l-2,2.8l2,2.8M619.0,2038.2l-2,2.8l2,2.8M624.0,2038.2l-2,2.8l2,2.8M629.0,2038.2l-2,2.8l2,2.8M634.0,2038.2l-2,2.8l2,2.8" stroke="#2e4a9a" stroke-width="1.2" fill="none"/>
<path d="M576,2037.5h3v7h-3zM583,2037.5h2.5v7h-2.5zM588,2038h2v6h-2z" fill="#2e4a9a"/>
<text x="645.3" y="2046.7" font-size="16.5" fill="#2e4a9a" textLength="44.4" lengthAdjust="spacingAndGlyphs" >UCHL5</text>
<text x="69.0" y="2086.4" font-size="22" textLength="45.2" lengthAdjust="spacingAndGlyphs" >Brain</text>
<path d="M136.9,2061.8V2382.2" stroke="#231f20" stroke-width="3"/>
<text x="94.0" y="2459.8" font-size="23" text-anchor="end" textLength="78.0" lengthAdjust="spacingAndGlyphs" >H3K27ac</text>
<path d="M119.6,2433V2702" stroke="#231f20" stroke-width="3"/>
<text x="239.7" y="2076.9" font-size="17.5" text-anchor="end" textLength="71.6" lengthAdjust="spacingAndGlyphs" >ChRO-seq</text>
<text x="242.7" y="2136.0" font-size="17.5" text-anchor="end" textLength="70.3" lengthAdjust="spacingAndGlyphs" >H3K4me3</text>
<text x="242.7" y="2172.6" font-size="17.5" text-anchor="end" textLength="70.3" lengthAdjust="spacingAndGlyphs" >H3K4me2</text>
<text x="242.2" y="2207.0" font-size="17.5" text-anchor="end" textLength="63.4" lengthAdjust="spacingAndGlyphs" >H3K27ac</text>
<text x="242.7" y="2241.6" font-size="17.5" text-anchor="end" textLength="54.3" lengthAdjust="spacingAndGlyphs" >H3K9ac</text>
<text x="241.4" y="2276.6" font-size="17.5" text-anchor="end" textLength="69.0" lengthAdjust="spacingAndGlyphs" >H3K4me1</text>
<text x="242.2" y="2313.3" font-size="17.5" text-anchor="end" textLength="78.4" lengthAdjust="spacingAndGlyphs" >H3K36me3</text>
<text x="241.4" y="2348.6" font-size="17.5" text-anchor="end" textLength="77.6" lengthAdjust="spacingAndGlyphs" >H4K20me1</text>
<text x="242.2" y="2385.3" font-size="17.5" text-anchor="end" textLength="78.4" lengthAdjust="spacingAndGlyphs" >H3K27me3</text>
<path d="M263.8,2070.0v-.5h1v.5h6v-1h1v1h2v-1h4v1h2v-1h1v1h2v-1h1v1h1v-1h1v1h1v-.5h1v.5h5v-1.5h1v1.5h1v-1h2v1h4v-1.5h1v1.5h4v-1.5h1v1.5h1v-1h1v-.5h2v1.5h4v-1h4v-.5h1v1.5h3v-1h1v1h3v-1h2v-5.5h1v-11h1v1.5h1v14h1v1.5h1v.5h2v-2.5h2v2.5h1v-2.5h1v2.5h1v-3h2v1h1v-.5h1v1h1v-.5h1v2h1v-2h1v1h1v-.5h1v-1.5h3v1h1v2h1v-2h1v.5h1v-.5h1v.5h2v-1h1v.5h1v-1h1v3h2v-2.5h1v-4.5h1v-3.5h1v5.5h1v2.5h1v2.5h1v-2.5h1v2.5h1v-1h1v1h2v-1h1v1h4v-.5h1v.5h5v-1h2v1h3v-1.5h1v.5h1v1h1v-.5h1v.5h1v-1h1v1h1v-.5h2v.5h2v-.5h1v.5h1v-1h2v1h3v-1h1v1h8v-1.5h1v1.5h1v-1h3v1h2v-1h1v1h1v-1h2v1h1v-1h1v.5h1v.5h1v-1h1v1h4v-1h1v1h4v-1.5h2v1.5h2v-1h1v1h5v-1.5h1v1.5h1v-1.5h2v1.5h1v-1.5h1v1.5h12v-1.5h1v1.5h2v-1.5h1v1.5h1v-1h1v1h4v-1h1v1h2v-1h1v1h3v-.5h1v.5h10v-1h2v1h1v-1.5h2v1.5h1v-1.5h1v.5h1v1h3v-1.5h1v.5h1v1h3v-1h1v1h2v-.5h1v-.5h1v1h1v-1.5h1v1.5h3v-1.5h1v1.5h4v-1.5h1v.5h1v.5h1v-.5h1v1h1v-1h2v1h3v-1h1v1h1v-.5h1v.5h2v-1.5h1v.5h2v1h4v-1h1v1h1v-1h1v1h1v-.5h1v-1.5h1v-4h1v1.5h1v4h1v-.5h1v1h3v-1h1v1h1v-1h1v1h1v-1h1v1h2v-1.5h1v1.5h9v-1.5h1v1.5h1v-1h1v1h1v-1h2v1h1v-1h2v1h1v-1h2v1h5v-1.5h1v1.5h9v-1.5h1v-3.5h1v1h1v3h1v1h7v-.5h1v-.5h2v1h2v-1h1v1h1v-1h1v1h3v-.5h1v.5h1v-1h2v-.5h1v1.5h1v-1h1v1h2v-1h1v1h5v-.5h1v.5h3v-1h1v1h6v-1h1v1h3v-1h3v1h1v-1h1v1h1v-1h1v1h1v-1h1v1h1v-1h2v1h8v-.5h1v-.5h1v1h3v-1h2v1h6v-1h1v-.5h1v.5h1v-.5h1v1.5h4v-1.5h2v1.5h4v-1h1v1h1v-1h2v-.5h1v1.5h4v-1.5h1v1.5h1v-3h1v1h2v-.5h1v.5h2v.5h1v1.5h1v-2.5h2v2.5h1v-2.5h2v2.5h1v-2.5h1v2.5h1v-1.5h1v-1h1v-.5h1v3h1v-3h1v1.5h1v-.5h1v-.5h3v-.5h1v.5h1v2.5h1v-1.5h1v-.5h1v-.5h1v.5h1v2h2v-1.5h3v-1h3v-.5h1v.5h1v2.5h1v-1.5h4v1.5h2v-3h1v1h1v2h1v-2.5h1v.5h3v-.5h2v1h1v.5h1v-.5h1v-.5h1v.5h1v1.5h1v-2h1v2h1v-2.5h1v-.5h2v.5h1v2.5h1v-2.5h1v-.5h1v1h4v.5h1v-3h1v-28h1v-.5h1v23h1v9h1v1h2v-1h2v1h1v-1h2v1h1v-1h2v1h2v-1h2v.5h1v.5h2v-.5h3v.5h1v-1h1v1h2v-1.5h1v.5h3v-.5h1v1.5h1v-1h1v1h3v-.5h1v-.5h1v1h3v-1h1v1h1v-1.5h1v.5h1v1h2v-1h1v1h4v-1.5h1v1.5h1v-1h1v1h1v-.5h1v.5h1v-1h1v1h1v-1.5h2v1.5h2v-2.5h1v-10h1v-19.5h1v7h1v22h2v1h4v-.5h1v2.5h1v-2.5h2v2.5h1v-2.5h1v-.5h2v.5h1v-.5h4v1.5h2v-1.5h2v-1.5h1v-7.5h1v2h1v8h1v2h1v-1.5h1v-.5h1v2h1v-2.5h2v1h2v-.5h1v-.5h2v-.5h2v1h1v-2h1v-7.5h1v2.5h1v8h1v-.5h1v.5h1v1h2v-1.5h1v1.5h3v-.5h1v.5h3v-1.5h1v.5h1v1h6v-1.5h1v1.5h1v-1h4v1h2v-1h1v1h4v-1h3v1h2v-1.5h1v.5h1v1h3v-1h1v1h2v-1h3v1h3v-1h1v1h2v-1h1v1h1v-1.5h1v1.5h1v-1h1v-.5h1v1.5h3v-1.5h1v.5h1v-.5h1v1.5h2v-1h1v1h2v-.5h1v-.5h1v1h2v-1h2v1h1v-1h1v-.5h1v1.5h2v-1.5h1v.5h3v1h1v-1h1v1h5v-1h2v-.5h1v.5h3v1h1v-1h1v1h1v-1.5h1v.5h1v1h2v-1h1v.5h1v-2.5h1v-4.5h1v1h1v5.5h2v1h2v-1.5h2v1.5h2v-1h2v1h1v-1h1v1h2v-1.5h1v1.5h1v-.5h1v-.5h2v1h2v-1.5h1v1.5h3v-1h3v1h1v-1h1v-.5h1v1.5h1v-1h1v1h3v-1h2v1h2v-1h1v-.5h1v1.5h4v-1h1v1h2v-1h2v1h1v-1.5h1v1.5h4v-.5h1v.5h2v-1h1v.5h1v.5h2v-.5h1v-1h1v-2h1v-5.5h1v1.5h1v5h1v.5h1v.5h1v-.5h1v.5h1v.5h1v1h1v-2h2v1h1v-.5h1v1.5h1v-1.5h1v-.5h1v2h1v-2h1v-.5h3v2.5h3v-1.5h1v-1h1v2.5h1v-2h1v2h1v-1.5h1v-1h1v1h1v-.5h1v2h1v-2.5h1v1h2v1.5h1v-1.5h2v-.5h1v2h1v-2h1v.5h2v1.5h1v-1.5h2v-.5h1v-.5h1v1h1v.5h1v-.5h1v-.5h1v.5h1v1.5h1v-2h1v2h1v-2h1v-.5h1v.5h1v2h1v-2.5h1v2.5h1v-2h2v-.5h2v2.5h1v-2.5h1v.5h1v.5h1v-.5h2v.5h1v-.5h1v.5h2v-.5h1v.5h1v-.5h2v-1.5h1v-6.5h1v3h1v6h1v1h4v-1.5h1v1.5h1v-.5h1v-.5h1v-.5h1v.5h1v1h1v-1.5h1v1.5h1v-1h1v1h1v-.5h1v-4h1v-6.5h1v1.5h1v8h1v1.5h1v-1h1v1h1v-1h2v1h3v-1h1v-.5h1v1.5h2v-1h1v1h1v-1h2v1h3v-1h4v1h2V2070.0Z" fill="#e0312f"/>
<path d="M263.8,2070.0v3h1v-.5h2v.5h1v.5h2v5.5h1v-1.5h1v-5h1v-2.5h1v4.5h1v-1.5h1v.5h1v-.5h2v2.5h1v-3.5h1v.5h1v.5h2v-1h2v.5h1v.5h2v2.5h1v-3.5h1v1h1v.5h1v-.5h1v-1h2v.5h1v.5h1v-.5h1v-.5h1v.5h1v-1.5h1v-.5h1v.5h1v-.5h2v-.5h1v.5h1v.5h2v-.5h7v2h5v1h1v-.5h1v2.5h1v-2h1v-3.5h1v3h2v-.5h1v.5h1v-.5h1v.5h1v.5h2v-1h1v.5h2v-.5h3v-.5h3v.5h1v.5h2v-.5h1v-.5h2v.5h1v-.5h3v1h1v.5h1v-1h1v-.5h1v.5h1v.5h2v-.5h2v-.5h1v.5h1v-2h1v2.5h1v19h1v10.5h1v-16h1v-13.5h1v6h1v-1.5h1v1h1v1h1v-1h2v-1.5h1v2h1v2h1v-.5h1v-.5h1v1h1v-.5h1v10h1v-11.5h1v1.5h1v-.5h1v-1h1v-.5h1v-1h1v3h1v2.5h1v.5h1v1h1v-1.5h1v-1h1v.5h1v-.5h1v3.5h1v8.5h1v-3h1v-8h1v2.5h1v1h1v5.5h1v-4h1v-3h1v-2.5h1v-.5h1v9.5h1v-5.5h1v-3h1v1h1v.5h1v-1.5h1v3h1v-1h1v-1.5h1v-1.5h1v3.5h1v-6h1v-1h1v-1.5h1v-.5h1v.5h1v2.5h1v-1h1v.5h1v.5h2v-2h2v2h1v-1.5h1v1.5h1v-1.5h1v-2h1v1.5h1v1.5h1v-1h1v-1.5h1v-.5h2v2h2v.5h1v-1.5h2v1h2v.5h1v-.5h1v1h2v-.5h1v.5h1v-.5h1v1.5h1v-.5h1v-1.5h1v1.5h1v13.5h1v-13h2v5h1v-4.5h1v-2.5h1v-8h1v10h1v-1h2v-.5h1v-1h1v-.5h1v1h1v-1h1v1h1v1h1v3.5h1v-4h1v1.5h1v7.5h1v-9.5h2v1h1v-1h1v1.5h1v1h1v-1h1v-1.5h1v2h1v-1h1v-2h1v-1h1v1h1v1.5h1v-.5h1v-1h1v2h1v-1.5h1v.5h2v.5h1v.5h1v-1h1v-1h2v-7h1v6h1v-.5h1v1.5h1v2h1v-1h1v11.5h1v-13h1v.5h1v.5h2v.5h1v2.5h1v-1h1v-2h1v-2h2v.5h1v1.5h1v1.5h1v.5h1v-.5h1v-1h2v2h1v-3h2v-1h1v.5h1v.5h1v1.5h1v-1.5h1v-.5h1v-6.5h1v5.5h1v1.5h1v.5h1v6h1v-4.5h1v-1h2v.5h1v-2h1v14.5h1v-14.5h1v2h1v.5h2v-.5h1v-2.5h1v-.5h1v1h1v2.5h1v-1h1v-1.5h2v1h1v-1h1v1.5h1v-1h1v.5h1v.5h1v-2h2v1h1v6h1v-6h1v6h1v5h1v-10.5h3v-1.5h1v1.5h1v1h1v-2h1v-6.5h1v7.5h1v13.5h1v-14h2v-1h1v1h1v1.5h1v-.5h1v-1.5h1v1.5h1v1h1v-2h1v.5h1v-1.5h3v1.5h1v.5h1v.5h1v-.5h1v-.5h1v7h1v-8.5h1v.5h1v2h1v-2h1v1.5h1v4.5h1v-2h1v-2.5h1v1h2v-1h1v-2h1v14.5h1v-14.5h1v1h2v10.5h1v-10.5h1v-.5h1v.5h1v.5h1v-1.5h1v1h1v.5h1v1.5h2v-2h1v-.5h1v.5h2v2h1v-.5h1v-1.5h1v4.5h1v-2h1v-.5h1v-2h1v-1h1v1.5h1v-1h1v1h1v-1h1v.5h1v-1h1v1h1v-1h2v-4.5h6v-.5h1v.5h1v-.5h3v.5h6v-1.5h1v1.5h1v-.5h1v.5h1v-.5h1v.5h2v.5h1v-.5h8v-.5h1v1.5h1v-1h4v-.5h1v.5h2v2h1v-2h4v-.5h1v.5h1v-1.5h1v1.5h6v-.5h2v-1h1v1.5h5v-.5h1v7h1v1.5h1v-1h1v1h1v.5h2v-3h1v.5h1v2h1v-2h1v-.5h1v1.5h1v-1h1v1.5h1v1h2v-1h1v-1h1v.5h2v-.5h1v1.5h1v1h2v-1.5h1v.5h1v1h1v-1.5h1v-1h1v-1h1v4.5h1v-11.5h1v14h1v-1.5h1v.5h2v-4h1v1h1v1h1v-10h1v8.5h1v10h1v-3h1v6.5h1v-11h1v1.5h1v.5h1v-1h2v-1h1v-2.5h3v1.5h1v-10h1v10h1v5.5h1v-2.5h1v-2.5h1v.5h1v-.5h1v-2h2v2h1v-1.5h1v.5h1v1h1v-2h1v2h1v-1h1v2.5h1v.5h1v-3.5h1v.5h2v-1h1v-2h1v1.5h1v-2h2v2h1v-.5h1v23h2v-22.5h1v-7.5h1v.5h1v.5h2v-.5h2v.5h1v-1h2v.5h2v-.5h6v1h1v-.5h5v-.5h1v.5h3v.5h2v-.5h1v-.5h6v-1.5h1v2h1v-.5h3v.5h1v.5h1v-.5h2v2h1v-2h3v-.5h2v.5h1v2.5h1v-.5h1v1h1v-1h1v-.5h1v.5h2v.5h1v-.5h1v1.5h1v-.5h1v-1h1v7h1v19h1v-4h1v-22h1v8h1v-7h1v.5h1v-.5h1v-.5h1v-.5h1v.5h1v-1h1v.5h1v.5h2v-1h2v.5h1v1.5h1v.5h1v-1h1v.5h1v.5h1v-6h1v3.5h1v4h1v-2.5h1v.5h1v-4.5h1v-.5h1v.5h5v-.5h2v.5h5v-.5h1v.5h7v-1h1v1h6v-.5h2v.5h2v-.5h2v.5h5v4h1v-.5h2v1h1v-1h2v.5h1v-1h1v.5h1v-1h1v.5h1v5h1v-5h2v1h1v-5h1v4.5h1v-4.5h1v5h2v-1h1v.5h1v2h1v-3h1v-3.5h1v4h1v.5h1v.5h1v-1h3v4.5h1v-4h2v1h2v.5h1v-.5h1v-1.5h1v.5h1v3.5h1v14h1v-5h1v-13.5h1v4.5h1v-2.5h1v.5h1v3h1v-5h1v.5h2v1h2v-.5h1v.5h2v.5h2v-1.5h2v1h2v-1h1v1h1v-1h1v-.5h1v1h1v.5h2v-1h1v7.5h1v-8.5h1v.5h1v-4h1v4h2v1h1v.5h1v.5h1v-1.5h1v-1h1v-.5h1v1h1v1.5h2v-.5h1v.5h1v-.5h1v1h1v5.5h1v19h1v-5h1v-22h1v-2h1v-.5h2v.5h4v-.5h2v.5h2v.5h1v-.5h3v.5h2v-.5h4v-.5h1v.5h3v1h1v-.5h1v-1h2v.5h1v-.5h3v-1h1v1.5h4v-.5h1v-1h1v1.5h1v-.5h1v.5h1v-.5h2v.5h4v-.5h3v.5h10v-.5h3v3.5h1v8h1v-2h1v-9h1v-.5h3v.5h1v-.5h1v.5h5v-.5h2v2.5h1v-2.5h1v.5h4v2h1v-2h2v-1.5h1v1h1v7h1v1.5h2v.5h1v-10h2v21h1v-11.5h1v-9.5h1v8.5h1v4.5h1v-3.5h1v-1h1v1.5h1v-.5h1v6.5h1v-7h1v.5h1v-1.5h1v10h1v-3h1v-3h1v-2.5h1v6h1v-5.5h1v-.5h1v-9.5h1v7.5h1v2h1v-2h1v3.5h1v14h1v-5.5h1v-9h1v4.5h1v-1h1v2h2v.5h1v10.5h1v-5.5h1v-11h1v-.5h1v3.5h1v-.5h1v-3.5h1v-.5h1v2h1v3h1v5.5h1v-2h1v-3.5h1v-.5h1v-.5h1v-3h1v-1.5h1v3h1v16.5h1v-5h1v-11.5h1v-10.5h8v-1h1v1h7v.5h1v-.5h7v-.5h1v.5h2v.5h1v-.5h1v-.5h1v.5h6v1h1v-1h8V2070.0Z" fill="#4a50b0"/>
<path d="M263.8,2139.0v-1h2v.5h1v-.5h6v.5h2v-.5h1v.5h1v-.5h2v.5h4v-.5h1v.5h6v-.5h1v.5h1v-.5h3v.5h1v-.5h2v.5h4v-.5h1v.5h1v-.5h1v.5h1v-.5h1v.5h1v-.5h1v.5h4v-.5h1v-.5h1v-2h1v-2h1v-2h1v1.5h1v2.5h1v2h1v.5h1v-.5h5v.5h3v.5h1v-2h1v.5h1v-.5h1v.5h1v-2.5h1v-3.5h1v-2.5h1v-.5h1v5h1v3h1v.5h1v.5h1v.5h2v-.5h3v.5h2v-1.5h1v-.5h1v.5h1v1h1v1h1v-.5h1v-.5h1v-.5h1v.5h1v.5h1v-1h2v.5h1v-.5h1v.5h1v-1.5h1v-3h1v-6.5h1v-1h1v4h1v4.5h1v2.5h1v1.5h2v-1h1v1h1v-.5h1v.5h3v-.5h1v1h3v.5h1v-.5h1v.5h2v-.5h2v.5h5v-.5h7v.5h1v-.5h2v.5h7v-.5h2v.5h3v-.5h3v.5h1v-.5h2v.5h2v-.5h1v.5h2v-.5h2v.5h2v-.5h4v.5h9v-.5h2v.5h2v-.5h1v.5h1v-.5h1v.5h3v-.5h1v.5h2v-.5h1v.5h2v-.5h3v.5h4v-.5h3v.5h1v-.5h2v.5h3v-.5h1v.5h1v-.5h2v.5h2v-.5h2v.5h3v-.5h2v.5h1v-.5h3v.5h3v-.5h5v.5h6v-.5h2v.5h5v-.5h3v.5h3v-.5h2v.5h4v-.5h6v.5h3v-.5h6v.5h2v-.5h1v.5h3v-.5h3v.5h5v-.5h2v.5h1v-.5h1v.5h1v-.5h1v.5h3v-.5h11v.5h2v-.5h2v.5h4v-.5h2v.5h2v-.5h4v.5h1v-.5h4v.5h4v-.5h1v.5h6v-.5h4v.5h2v-.5h4v.5h17v-.5h2v.5h3v-.5h6v-.5h1v-2h1v-3h1v-6h1v-10.5h1v-4.5h1v5h1v9.5h1v6h1v3h1v2h1v1h1v.5h2v-.5h1v-1h1v-1h1v-3h1v-1h1v.5h1v3h1v2h1v.5h1v.5h4v-.5h8v.5h3v-.5h1v.5h1v-.5h2v.5h3v-.5h2v.5h4v-.5h2v.5h1v-.5h2v.5h3v-.5h1v.5h1v-.5h10v.5h4v-.5h1v.5h2v-.5h2v.5h1v-.5h7v.5h1v-.5h1v.5h1v-.5h1v.5h8v-.5h4v.5h4v-.5h2v.5h2v-.5h5v.5h5v-.5h4v.5h2v-.5h3v.5h4v-.5h4v.5h1v-.5h1v.5h2v-.5h2v.5h5v-.5h1v-1h1v-1h1v-2.5h1v-5.5h1v-9.5h1v-1.5h1v9h1v6h1v3h1v2h1v1h3v.5h3v-.5h5v.5h2v-.5h1v.5h1v-.5h4v.5h1v-.5h2v.5h1v-.5h1v.5h3v-.5h1v.5h6v-.5h1v.5h2v-.5h1v.5h1v-.5h3v.5h1v-.5h3v.5h5v-.5h1v.5h4v-.5h1v-.5h1v-1.5h1v-3h1v-5.5h1v-7.5h1v-6.5h1v-1h1v13h1v6h1v3.5h1v2h1v1h5v.5h2v-.5h3v.5h6v-.5h1v-1h1v-2h1v-2h1v.5h1v2.5h1v1.5h1v.5h1v.5h1v-.5h1v.5h1v-.5h6v.5h2v-.5h1v-1h1v-1.5h1v-1.5h1v1h1v1.5h1v1.5h1v.5h1v-.5h1v.5h3v-.5h1v.5h2v-.5h1v.5h1v-.5h5v.5h5v-.5h10v.5h5v-.5h1v.5h1v-.5h1v.5h3v-.5h4v.5h3v-.5h2v.5h6v-.5h3v.5h1v-.5h1v.5h1v-.5h2v.5h4v-.5h5v.5h2v-.5h6v.5h1v-.5h3v.5h11v-.5h2v.5h2v-.5h1v.5h3v-.5h1v-1h1v-2h1v-3.5h1v-5h1v-4.5h1v-1.5h1v9h1v4.5h1v2.5h1v1h1v.5h1v.5h1v-.5h2v.5h1v-.5h2v.5h1v-.5h1v.5h3v-.5h2v.5h1v-.5h5v.5h1v-.5h2v.5h3v-.5h1v.5h3v-.5h1v.5h3v-.5h1v.5h3v-.5h3v.5h1v-.5h1v.5h6v-.5h2v.5h3v-.5h6v-1h1v-2.5h1v-3.5h1v-2h1v-.5h1v5h1v2.5h1v1.5h1v.5h1v.5h1v-.5h3v.5h2v-.5h1v.5h2v-.5h9v.5h1v-.5h3v.5h3v-.5h1v.5h3v-.5h1v-2h1v1.5h2v-.5h1v-.5h2v.5h1v-.5h2v1h3v-.5h3v-1h1v1h1v-1h1v1h1v-.5h3v.5h1v-.5h1v.5h2v-.5h2v.5h1v-.5h1v1h3v-1.5h1v1h1v.5h1v-.5h2v-.5h1v1h2v-1.5h1v.5h2v-2.5h1v-3.5h1v-7.5h1v-5.5h2v10.5h1v5h1v2.5h1v2h1v.5h1v.5h3v-.5h2v.5h1v-.5h4v-.5h1v-1h1v-3.5h1v-2h1v1.5h1v2.5h1v2h1v1h1v.5h1v-.5h3v.5h2v-.5h1v.5h5v-.5h1v.5h3v-.5h6v.5h1V2139.0Z" fill="#a91f24"/>
<path d="M263.8,2139.0H1226.5" stroke="#a91f24" stroke-width="1.3"/>
<path d="M263.8,2174.5v-.5h5v-.5h1v.5h1v-.5h1v.5h2v-.5h4v.5h8v-.5h2v.5h2v-.5h1v.5h1v-.5h2v.5h2v-.5h4v.5h2v-.5h4v.5h1v-.5h7v-.5h1v-2h1v-3h1v-1h1v1.5h1v2.5h1v2h1v.5h10v-1.5h1v.5h1v-1h2v-1h1v-4h1v-3h1v.5h1v4.5h1v3h1v1.5h2v-.5h1v.5h1v-.5h2v.5h2v-1h1v1h1v-.5h1v-.5h1v.5h3v-1h2v.5h1v1h1v-1h1v.5h1v-.5h2v.5h1v-1h1v-3.5h1v-6.5h1v-1h1v3.5h1v5h1v2.5h1v1h2v-.5h3v1h1v-1h1v.5h2v1h5v.5h1v-.5h5v.5h2v-.5h1v.5h1v-.5h1v.5h3v-.5h1v.5h10v-.5h3v.5h1v-.5h1v.5h1v-.5h4v.5h2v-.5h2v.5h2v-.5h3v-.5h2v.5h3v.5h1v-.5h1v.5h3v-.5h4v.5h1v-.5h2v.5h4v-.5h2v.5h2v-.5h3v.5h4v-.5h3v.5h2v-.5h2v.5h1v-.5h1v.5h3v-.5h1v.5h2v-.5h4v.5h4v-.5h1v.5h1v-.5h1v.5h5v-.5h3v.5h1v-.5h1v.5h2v-.5h1v.5h1v-.5h1v.5h5v-.5h7v-.5h1v.5h1v.5h1v-.5h1v.5h3v-.5h1v.5h1v-.5h4v.5h1v-.5h1v.5h1v-.5h13v.5h2v-.5h1v.5h2v-.5h2v.5h1v-.5h2v.5h1v-.5h2v.5h3v-.5h5v.5h2v-.5h2v.5h4v-.5h1v.5h3v-.5h2v.5h2v-.5h1v.5h3v-.5h2v.5h3v-.5h4v.5h1v-.5h4v.5h3v-.5h2v.5h2v-.5h4v.5h3v-.5h1v.5h1v-.5h1v.5h1v-.5h2v.5h2v-.5h5v.5h5v-.5h4v.5h3v-.5h3v.5h4v-.5h1v-1h1v-1.5h1v-2.5h1v-5h1v-9.5h1v-5.5h1v1h1v11h1v7h1v3.5h1v1.5h1v1h1v.5h1v-.5h2v-1h1v-1.5h1v-2.5h1v-1h1v1.5h1v2.5h1v1h1v1h1v.5h2v-.5h2v.5h3v-.5h1v.5h2v-.5h1v.5h3v-.5h3v.5h1v-.5h1v.5h7v-.5h6v.5h11v-.5h3v.5h13v-.5h1v.5h1v-.5h2v.5h7v-.5h1v.5h1v-.5h2v.5h1v-.5h2v.5h1v-.5h1v.5h2v-.5h2v.5h2v-.5h1v.5h1v-.5h4v.5h1v-.5h1v.5h2v-.5h3v.5h3v-.5h2v-.5h1v.5h1v.5h2v-.5h3v.5h2v-.5h1v.5h1v-.5h7v.5h1v-.5h4v.5h1v-.5h1v-.5h1v-1.5h1v-2.5h1v-4.5h1v-9.5h1v-1.5h1v6h1v8h1v3h1v1.5h1v1.5h2v.5h2v-.5h5v.5h3v-.5h1v.5h1v-.5h1v.5h2v-.5h3v.5h10v-.5h5v.5h5v-.5h1v.5h12v-.5h4v-.5h1v-1.5h1v-3h1v-5h1v-8h1v-9h1v1.5h1v13.5h1v5.5h1v4h1v1.5h1v1h4v.5h1v-.5h1v.5h3v-.5h1v.5h1v-.5h1v.5h4v-.5h1v-1h1v-2h1v-2h1v1h1v2h1v1.5h1v.5h1v.5h5v-.5h3v.5h3v-.5h1v-1h1v-1.5h1v-1h1v.5h1v1.5h1v1h1v.5h1v.5h2v-.5h2v.5h1v-.5h4v.5h4v-.5h2v.5h1v-.5h1v.5h5v-.5h1v.5h4v-.5h4v.5h1v-.5h1v.5h2v-.5h3v.5h1v-.5h6v.5h3v-.5h1v.5h8v-.5h1v.5h2v-.5h4v.5h6v-.5h1v.5h1v-.5h1v.5h7v-.5h1v.5h4v-.5h6v.5h1v-.5h3v.5h2v-.5h6v-.5h1v-1h1v-1.5h1v-4.5h1v-6h1v-5h1v1.5h1v8h1v4h1v3h1v1.5h1v.5h1v.5h1v-.5h8v.5h2v-.5h1v.5h1v-.5h2v.5h3v-.5h1v.5h1v-.5h2v.5h2v-.5h3v.5h1v-.5h2v.5h2v-.5h3v.5h3v-.5h3v.5h4v-.5h2v.5h4v-.5h1v.5h2v-.5h1v.5h1v-.5h2v-.5h1v-1h1v-1.5h1v-3.5h1v-3.5h1v.5h1v5.5h1v2h1v1.5h1v.5h3v.5h1v-.5h3v.5h2v-.5h1v-.5h1v.5h1v.5h2v-.5h1v.5h1v-.5h3v.5h2v-.5h1v.5h7v-.5h2v-2h1v1h1v-.5h1v-.5h1v1.5h2v-1.5h1v1h1v-.5h1v.5h2v-1h1v.5h1v.5h1v-.5h1v1h2v-1.5h1v1h2v-.5h4v.5h1v.5h1v-.5h1v-1h2v1.5h3v-1h1v-1h1v.5h1v1h3v.5h1v-1h1v-.5h2v1h1v-.5h1v-2h1v-4.5h1v-7.5h1v-6.5h1v2.5h1v9h1v5.5h1v3h1v1.5h1v.5h5v.5h1v-.5h2v.5h2v-.5h1v-.5h1v-1.5h1v-2.5h1v-1.5h1v.5h1v2.5h1v2h1v1h4v.5h6v-.5h3v.5h4v-.5h4v.5h2v-.5h1V2174.5Z" fill="#ef8a87"/>
<path d="M263.8,2174.5H1226.5" stroke="#ef8a87" stroke-width="1.3"/>
<path d="M263.8,2209.5v-1h4v.5h1v-.5h2v.5h1v-.5h1v.5h1v-.5h2v.5h1v-.5h3v.5h6v-.5h2v.5h1v-.5h5v.5h2v-.5h1v-.5h1v.5h1v.5h2v-.5h1v.5h4v-.5h2v.5h2v-.5h1v.5h2v-.5h1v-.5h1v-1.5h1v-3h1v-2h1v2h1v3h1v1.5h1v.5h5v.5h5v-1h1v-1h1v1h1v-1h1v-2h1v-3.5h1v-3.5h2v6h1v2.5h1v1h2v.5h5v-.5h1v-.5h2v-.5h1v.5h1v1h1v-.5h1v.5h1v-.5h2v-.5h1v.5h1v.5h2v-.5h3v-1.5h1v-3h1v-6.5h1v-.5h1v3h1v4.5h1v2.5h1v1h1v1h1v-1h2v.5h1v.5h2v-.5h1v.5h1v.5h4v.5h5v-.5h2v.5h1v-.5h1v.5h8v-.5h6v.5h1v-.5h2v.5h4v-.5h1v.5h1v-.5h2v.5h6v-.5h5v.5h2v-.5h6v.5h3v-.5h2v.5h6v-.5h2v.5h2v-.5h1v-.5h1v.5h2v.5h7v-.5h10v.5h5v-.5h4v.5h2v-.5h1v.5h4v-.5h3v.5h1v-.5h4v.5h1v-.5h1v.5h1v-.5h1v.5h3v-.5h1v.5h1v-.5h1v.5h1v-.5h1v.5h5v-.5h1v.5h1v-.5h6v.5h9v-.5h3v.5h1v-.5h3v.5h2v-.5h1v.5h1v-.5h3v.5h1v-.5h2v.5h1v-.5h4v.5h1v-.5h1v.5h6v-.5h3v.5h1v-.5h1v.5h2v-.5h1v.5h2v-.5h2v.5h1v-.5h1v.5h3v-.5h2v.5h1v-.5h2v.5h2v-.5h3v.5h1v-.5h1v.5h3v-.5h1v.5h1v-.5h3v.5h1v-.5h2v.5h5v-.5h4v.5h4v-.5h6v-.5h1v.5h1v.5h4v-.5h1v.5h2v-.5h3v.5h1v-.5h9v.5h2v-.5h1v-1h1v-1h1v-3h1v-5.5h1v-9.5h1v-5.5h1v3h1v10h1v6.5h1v3h1v2h1v1h1v.5h1v-.5h2v-1h1v-1.5h1v-2.5h1v-1h1v.5h1v3h1v2h1v.5h1v.5h2v-.5h7v.5h5v-.5h2v.5h1v-.5h1v.5h5v-.5h8v.5h2v-.5h1v-.5h1v.5h1v.5h3v-.5h1v.5h5v-.5h1v.5h4v-.5h1v.5h2v-.5h1v-.5h1v.5h6v.5h6v-.5h2v.5h1v-.5h1v.5h1v-.5h1v.5h2v-.5h5v.5h2v-.5h2v.5h2v-.5h2v.5h1v-.5h1v.5h3v-.5h1v.5h1v-.5h1v.5h1v-.5h2v.5h1v-.5h2v.5h1v-.5h2v.5h8v-.5h3v.5h2v-.5h4v.5h1v-.5h4v.5h1v-1h1v-1h1v-2h1v-4.5h1v-8h2v5h1v6h1v3h1v1.5h1v.5h1v.5h5v-.5h2v.5h1v-.5h3v.5h1v-.5h2v.5h4v-.5h1v.5h1v-.5h2v.5h3v-.5h2v.5h2v-.5h1v.5h1v-.5h2v.5h2v-.5h1v.5h1v-.5h2v.5h1v-.5h5v.5h1v-.5h2v.5h3v-.5h1v.5h2v-.5h2v-.5h1v-1.5h1v-3h1v-4h1v-9.5h1v-5.5h1v-.5h1v13h1v5.5h1v3.5h1v1.5h1v1h8v.5h1v-.5h8v-1.5h1v-2h1v-1.5h1v1h1v2.5h1v1h1v.5h1v.5h5v-.5h4v.5h2v-.5h1v-1h1v-1.5h1v-1.5h1v1h1v2h1v.5h1v1h1v-.5h2v.5h3v-.5h4v.5h3v-.5h2v.5h6v-.5h2v.5h6v-.5h4v.5h1v-.5h2v.5h1v-.5h2v.5h3v-.5h1v.5h3v-.5h1v.5h2v-.5h1v.5h1v-.5h1v.5h1v-.5h5v.5h5v-.5h1v.5h3v-.5h2v.5h1v-.5h5v.5h2v-.5h1v.5h2v-.5h1v.5h2v-.5h1v.5h2v-.5h1v.5h3v-.5h5v.5h2v-.5h2v.5h1v-.5h3v.5h1v-.5h1v-1h1v-2.5h1v-4h1v-7h1v-3h1v-1h1v9h1v5h1v2.5h1v1.5h1v.5h3v.5h2v-.5h2v.5h1v-.5h1v.5h3v-.5h3v.5h3v-.5h2v.5h4v-.5h4v.5h1v-.5h8v.5h14v-.5h7v.5h1v-.5h1v-1.5h1v-2h1v-3.5h1v-3h2v5h1v3h1v1.5h1v.5h1v.5h1v-.5h2v.5h1v-.5h8v.5h1v-.5h2v.5h2v-.5h3v.5h1v-.5h2v.5h7v-1h1v-.5h2v-.5h1v.5h1v-.5h1v1h3v-.5h2v.5h2v-.5h1v-1.5h1v.5h1v1h1v-1h1v1h1v-1h2v1.5h5v-1h1v-.5h1v1h1v.5h1v-1h1v.5h2v-1h1v1.5h4v-1h1v1h1v-.5h1v-.5h3v-2h1v-3.5h1v-8h1v-6.5h1v3h1v8.5h1v4.5h1v3.5h1v1h1v1h2v.5h1v-.5h2v.5h3v-.5h1v.5h1v-.5h1v-.5h1v-1h1v-2.5h1v-2.5h1v.5h1v3h1v2h1v1h1v.5h2v-.5h1v.5h6v-.5h4v.5h3v-.5h3v.5h2v-.5h1v.5h1V2209.5Z" fill="#1f7a3a"/>
<path d="M263.8,2209.5H1226.5" stroke="#1f7a3a" stroke-width="1.3"/>
<path d="M263.8,2245.0v-.5h1v-.5h4v.5h3v-.5h1v.5h1v-.5h1v.5h1v-.5h2v.5h2v-.5h2v.5h1v-.5h1v.5h3v-.5h3v.5h4v-.5h2v.5h4v-.5h3v.5h2v-.5h2v.5h4v-.5h2v.5h1v-.5h1v-1.5h1v-2h1v-.5h1v.5h1v2h1v1.5h1v.5h1v-.5h2v.5h1v-.5h2v.5h1v-.5h2v.5h1v-1.5h1v-.5h3v-2h1v-3.5h1v-3h1v.5h1v5h1v2.5h1v1.5h1v-.5h1v.5h1v-1h1v.5h1v.5h8v-1h1v1h1v-1h1v1h2v.5h1v-1h1v-.5h1v.5h1v1h1v-1h1v-1.5h1v-2.5h1v-6.5h1v-2.5h1v4h1v5.5h1v2.5h1v1.5h1v.5h1v-1h2v-.5h1v1h1v-.5h1v-.5h2v1.5h2v.5h1v-.5h9v.5h1v-.5h2v.5h2v-.5h7v.5h4v-.5h1v.5h2v-.5h2v.5h2v-.5h5v.5h1v-.5h3v.5h1v-.5h3v.5h2v-.5h1v.5h1v-.5h5v.5h4v-.5h3v.5h1v-.5h2v.5h7v-.5h1v.5h1v-.5h1v.5h2v-.5h1v.5h5v-.5h1v.5h2v-.5h1v.5h1v-.5h7v.5h2v-.5h3v.5h1v-.5h3v.5h1v-.5h2v.5h1v-.5h1v.5h3v-.5h5v.5h3v-.5h2v.5h5v-.5h6v.5h5v-.5h2v.5h3v-.5h1v.5h7v-.5h3v.5h7v-.5h2v.5h2v-.5h4v.5h3v-.5h2v.5h6v-.5h3v.5h2v-.5h4v.5h4v-.5h1v.5h1v-.5h5v.5h1v-.5h1v.5h1v-.5h1v.5h1v-.5h6v.5h2v-.5h4v.5h6v-.5h2v.5h2v-.5h3v.5h6v-.5h2v.5h1v-.5h2v.5h1v-.5h1v.5h1v-.5h1v.5h2v-.5h1v.5h4v-.5h3v.5h7v-.5h1v-1h1v-1h1v-3.5h1v-4.5h1v-9h1v-8.5h1v5h1v10h1v6.5h1v3h1v2h1v1h4v-.5h1v-1.5h1v-3.5h1v-1.5h1v2h1v2.5h1v2h1v.5h1v.5h2v-.5h3v.5h2v-.5h2v.5h3v-.5h1v.5h2v-.5h2v.5h1v-.5h3v.5h2v-.5h5v.5h3v-.5h4v.5h8v-.5h5v.5h4v-.5h1v.5h8v-.5h1v.5h1v-.5h2v.5h1v-.5h2v.5h3v-.5h1v.5h4v-.5h3v.5h1v-.5h1v.5h1v-.5h1v.5h2v-.5h6v.5h2v-.5h2v.5h3v-.5h6v.5h3v-.5h1v.5h9v-.5h1v.5h1v-.5h9v-.5h1v-1h1v-2h1v-5h1v-6h2v3.5h1v5.5h1v3h1v2h1v.5h4v.5h1v-.5h1v.5h2v-.5h2v.5h11v-.5h1v.5h1v-.5h4v.5h1v-.5h3v.5h2v-.5h2v.5h2v-.5h2v.5h3v-.5h2v.5h3v-.5h1v.5h6v-.5h3v-.5h1v-1.5h1v-2.5h1v-4.5h1v-9.5h1v-8.5h1v4h1v10h1v7h1v3.5h1v1.5h1v1h1v.5h2v-.5h5v.5h4v-.5h1v.5h3v-.5h1v-1h1v-2.5h1v-1h1v.5h1v2h1v1.5h1v.5h3v.5h2v-.5h1v.5h3v-.5h4v-1h1v-1.5h1v-1h2v2h1v1h1v.5h1v.5h2v-.5h2v.5h5v-.5h1v.5h1v-.5h4v.5h2v-.5h3v.5h4v-.5h2v.5h4v-.5h3v.5h1v-.5h1v.5h4v-.5h3v.5h2v-.5h3v.5h1v-.5h2v.5h1v-.5h4v.5h1v-.5h2v.5h2v-.5h2v.5h1v-.5h4v.5h2v-.5h1v.5h1v-.5h1v.5h1v-.5h3v.5h1v-.5h7v.5h3v-.5h1v.5h2v-.5h2v.5h3v-.5h3v-.5h1v.5h1v.5h1v-.5h1v.5h1v-.5h1v-1h1v-2h1v-3.5h1v-6.5h1v-5h1v.5h1v8.5h1v5h1v2.5h1v1h1v.5h1v.5h1v-.5h4v.5h2v-.5h3v.5h3v-.5h6v.5h1v-.5h1v.5h1v-.5h2v.5h2v-.5h1v.5h2v-.5h2v.5h1v-.5h4v.5h2v-.5h1v.5h2v-.5h2v.5h3v-.5h5v.5h1v-.5h1v.5h1v-.5h1v.5h1v-.5h1v.5h1v-1h1v-1h1v-2h1v-4h1v-2.5h2v5.5h1v2.5h1v1.5h1v.5h4v.5h1v-.5h1v.5h2v-.5h3v.5h2v-.5h2v.5h3v-.5h2v.5h3v-.5h2v.5h3v-.5h2v.5h1v-2h1v-.5h1v1h1v-.5h1v.5h1v-.5h2v.5h2v-.5h1v-.5h1v1h1v-.5h1v-.5h2v.5h1v1h2v-.5h1v-.5h1v-.5h1v-.5h1v.5h3v.5h3v.5h1v.5h2v-.5h1v-1h3v1.5h1v-1h1v.5h1v-.5h1v.5h1v.5h2v-.5h1v-.5h1v-2h1v-4.5h1v-7h1v-5h2v10h1v5.5h1v2h1v2h1v.5h3v.5h4v-.5h4v-.5h1v-1.5h1v-2.5h1v-2h1v1h1v2.5h1v2h1v1h1v.5h2v-.5h2v.5h2v-.5h8v.5h3v-.5h1v.5h1v-.5h4V2245.0Z" fill="#c21f9a"/>
<path d="M263.8,2245.0H1226.5" stroke="#c21f9a" stroke-width="1.3"/>
<path d="M263.8,2281.0v-16.5h1v9h1v3h1v.5h1v-1h1v.5h1v-.5h2v2.5h2v.5h1v-1.5h1v-2h1v1h1v-.5h4v-1h1v-6.5h1v-1h1v3.5h1v-2h1v1.5h1v3.5h2v3h1v.5h2v.5h1v.5h2v-.5h1v-1.5h2v-1.5h1v-1h1v-1h1v2.5h1v-.5h1v-2.5h1v1.5h1v-.5h2v-3h1v2h1v1.5h1v-3h1v4h1v-.5h1v-2.5h1v-1h1v-5.5h1v-2.5h1v2.5h1v6h2v1.5h1v1h1v.5h1v-4h1v3h1v3h1v.5h2v-1.5h1v-1h1v.5h1v-1h1v-1.5h2v-1.5h1v-9.5h1v-3.5h1v-.5h1v10.5h1v5h1v3h1v1h1v1h1v-1.5h2v.5h2v.5h1v-1.5h1v-4.5h1v-.5h1v3h2v1h1v-3h1v2.5h1v-1.5h1v-.5h1v2h2v3h1v1.5h1v-1.5h1v-2h1v-3.5h1v-7.5h1v-8h1v-3.5h1v4h1v11h1v2h1v-1.5h2v.5h1v.5h1v2h1v1.5h1v1.5h1v-2.5h1v1.5h1v2.5h1v1.5h1v-1.5h2v.5h1v-.5h1v-2h1v1h1v-2h1v1.5h1v2.5h1v-2h1v-3.5h1v3.5h1v1h1v-2.5h1v.5h1v.5h1v1h1v.5h1v1h1v.5h2v.5h1v-.5h1v-.5h1v-3h1v.5h1v2h1v-2h1v-1.5h1v-.5h1v3.5h1v1h1v-1h1v-2.5h3v3h1v1h1v-1.5h1v.5h1v-1h1v.5h1v.5h1v-1h1v-1h1v1h1v.5h1v-1h1v-.5h1v-.5h1v1h1v1.5h1v-1h1v-.5h1v-1.5h1v2h1v1h2v-5h1v2h1v-.5h1v1h1v1h1v2.5h1v-.5h1v-.5h1v.5h1v1h1v.5h2v.5h1v.5h1v-.5h1v-.5h1v-.5h1v.5h1v-.5h1v-.5h1v.5h1v-1h1v1.5h1v.5h1v-1.5h2v-3.5h3v-.5h1v2h1v-.5h1v.5h2v2h1v-1h1v-2.5h1v.5h1v1.5h1v2.5h1v-1h1v.5h1v-.5h1v.5h1v-8h1v8.5h2v-.5h1v1h1v-1h1v.5h2v1h2v-1h1v-1h2v-.5h1v.5h2v-.5h1v-.5h1v-3h1v-.5h1v-1h1v4h2v-2h1v-.5h1v.5h1v-3.5h1v7h2v-1h1v.5h1v-8h1v9.5h1v-1.5h1v-1.5h1v-.5h1v1h1v.5h1v1.5h1v-1.5h2v1.5h1v.5h1v-1h1v-1h1v1.5h1v-1.5h1v-.5h1v1.5h1v.5h1v-.5h2v-.5h1v-2h1v-1h1v.5h1v2.5h1v-2h1v-1h1v2h1v.5h1v-.5h1v-.5h1v-2.5h1v3h1v-2h1v.5h2v-1.5h1v.5h1v2h1v.5h1v-1h1v-2.5h1v-4h1v-4.5h1v.5h1v6h1v3.5h1v2h1v-.5h1v-6.5h1v3h1v1h2v1h1v1.5h1v1.5h1v.5h2v-1h2v-7.5h1v8.5h2v-2h1v1h1v-2h1v.5h2v-1h1v2.5h1v-.5h1v.5h1v-1h1v-4.5h1v4h1v.5h1v-.5h2v1h1v-1.5h1v-3h1v5.5h1v-.5h1v-3.5h1v1.5h1v1.5h1v-4.5h1v-.5h1v-1h1v1.5h1v.5h1v1h1v-1h1v1.5h1v2.5h1v-1.5h1v2h2v-.5h1v-1h1v1h1v-6.5h1v4.5h1v2h1v1.5h1v-1h1v-1h1v.5h1v2h1v.5h1v-1.5h1v-1.5h1v1.5h3v-2h1v-.5h1v2.5h2v-2.5h1v.5h1v2.5h1v1h2v-4.5h1v-.5h1v2h1v-8.5h1v8h1v-18.5h1v15h1v-6h1v.5h1v-8h1v-7.5h1v2.5h1v10.5h1v7h1v1.5h1v-3h1v-.5h1v-4.5h1v-2.5h1v4.5h1v1.5h2v-10.5h1v-.5h1v1.5h1v7.5h1v2.5h1v2.5h1v-.5h1v4.5h1v-9.5h1v9.5h1v.5h1v1h1v.5h1v-1h1v-4h3v-2.5h1v4h1v-1.5h1v-.5h1v-4h1v-3.5h1v-.5h1v3h1v2.5h1v-4h1v5h1v1.5h1v-3h1v.5h1v2.5h1v1.5h1v-8h1v5.5h1v-5.5h1v1.5h2v4h1v2.5h1v-4.5h1v4.5h1v-2.5h1v2.5h1v-4h1v2.5h2v-3.5h1v2h1v2h1v3h1v-1h1v-4h1v-1.5h1v4.5h1v2.5h1v-3.5h1v-2h1v2h1v2.5h1v.5h1v.5h1v-4h1v-1.5h1v1.5h1v3.5h1v-3.5h1v-3.5h1v-.5h1v-2h1v2h1v-2.5h1v-3h1v-2.5h1v7h1v2h1v5h1v-1.5h1v-6.5h1v4.5h1v.5h1v-5h1v-4h1v1.5h1v7h1v2.5h1v-6h1v1.5h1v1h1v1.5h2v1.5h1v-4h1v-3.5h1v-5.5h1v4.5h1v4h1v4.5h1v3h2v-5.5h1v-2h1v4.5h1v1.5h1v2.5h1v-1.5h1v2h1v-.5h1v1.5h1v-.5h1v-1.5h1v.5h1v-.5h1v.5h1v.5h1v-1.5h1v1h1v1h1v-.5h1v1.5h1v.5h1v-1.5h1v-3h1v2h2v-3h1v-2h2v.5h1v3.5h1v.5h1v-5.5h1v.5h1v1.5h1v-2h1v-1h1v4h1v-5.5h1v-7.5h2v5h1v5.5h1v3.5h1v-2h1v-1h1v2.5h1v.5h1v-4h1v3h1v-4h1v-3h1v3h1v2.5h1v-4h1v5.5h1v-1h1v-2.5h1v5.5h2v-.5h1v-3.5h1v2.5h2v2h2v.5h1v-2h1v1h1v-3.5h1v2h1v-1.5h1v2h1v-2.5h1v-.5h1v2.5h1v.5h1v1.5h2v1.5h1v1.5h1v-.5h1v-.5h1v-.5h1v1h1v.5h2v.5h1v-1.5h3v1.5h2v-2.5h1v.5h1v-2h1v-2h1v2h1v-2h1v-3h1v-4h1v1h1v-1h1v-2h1v.5h1v4h1v-6h1v-6.5h1v-.5h1v12.5h1v4.5h1v4h1v1.5h2v-1.5h1v-9.5h1v9h1v-2h1v2.5h1v-1.5h1v-7.5h1v-1.5h1v1h1v-.5h1v5h1v-1.5h1v2.5h2v-.5h2v2.5h1v-4h1v-4h1v2h1v2.5h1v2h1v2h1v-7.5h1v5h1v1.5h1v-5.5h1v1.5h1v-3h1v.5h1v-.5h2v-1h1v4h1v-1h1v2h1v-3h2v-1.5h1v6h1v.5h1v-2.5h1v3.5h1v1.5h1v-1.5h1v-1.5h1v.5h1v-.5h1v2h1v-2h1v-1h1v1h2v-.5h1v2h1v-1.5h1v-2.5h1v-2.5h1v1h1v2.5h1v3.5h1v-4.5h2v1.5h1v4h1v-1.5h1v1h1v.5h1v2.5h2v-1h1v-2.5h2v3h1v.5h1v.5h1v-1.5h1v-1h1v1.5h1v-3h1v.5h1v2h1v-5h1v2h1v-1.5h1v2h1v-2h1v-3h1v3h1v1.5h1v-.5h1v-3h1v.5h1v-2.5h1v4h1v-3.5h1v1.5h1v-2h1v-3.5h1v3.5h1v1.5h1v-2.5h2v-1.5h1v-5.5h1v3h1v6.5h1v-3h1v.5h1v7h1v1h1v-1.5h1v-3h1v-1.5h1v2.5h1v3h1v-3.5h1v-1h2v4h1v2h1v-1.5h1v-2.5h1v-4.5h1v-3.5h1v-1.5h1v7h1v5.5h1v2.5h1v.5h1v-15h1v14h1v-.5h3v.5h1v2h1v1h2v-1.5h1v-1h1v-.5h1v-4h2v-2h1v2h1v-3.5h1v.5h1v-.5h1v-6h1v-6h1v1.5h1v8.5h1v5h1v2.5h1v-3.5h2v1h1v2h1v1h1v-.5h1v-2h1v.5h1v.5h1v-1h1v1h1v-.5h1v1.5h1v1.5h1v-2.5h2v-1h2v-5h1v-4.5h1v.5h1v8h1v1.5h1v2.5h1v.5h1v-2.5h1v.5h1v-.5h1v.5h1v-2h2v1.5h1v-2h1v3h1v2h1v-1h1v-3.5h1v.5h1v-1h2v-3h1v-2.5h1v4.5h1v2.5h1v-5.5h1v-1.5h1v1.5h1v-1h1v1.5h1v-1.5h2v-4.5h1v9.5h1v-1h1v-1.5h1v-.5h1v-.5h1v1.5h1v2.5h1v-3.5h1v4h1v-3h1v-3.5h1v-1h1v-2h1v1h1v5h1v4.5h1v1.5h1v-2.5h1v-.5h1v3h1v-.5h1v1h1v-2h1v-.5h1v-1h1v3.5h1v-1h1v-.5h2v.5h2v2h1v-1.5h1v.5h2v-3h1v-5h1v-2.5h1v-1.5h1v-4h1v2.5h1v3h1v-1h1v-5h1v4.5h1v5.5h1v-3h1v4.5h1v3h1v2h1v-1h1v-.5h2v-1h1v2h1v-1h1v-1h2v2.5h1v1h1v-.5h1v-.5h1v-3h1v-1.5h1v1.5h1v1h1v-18.5h1v13h1v-12h1v5.5h1v-1h1v.5h1v1h1v3.5h1v-3h1v-2h1v4.5h2v-.5h1v3h1v.5h1v2.5h1v-2h1v-5.5h1v-3.5h1v8.5h1v-2.5h1v3.5h1v-6.5h1v-1h1v1.5h1v1h1v5h1v-2.5h1v-9.5h1v-8h1v3h1v12.5h1v2.5h1v6h1v-6h1v4.5h1v2h1v-.5h1v1.5h1v-.5h1v-6h1v1h1v6h1v-2h1v-2h1v2h2v-4h1v-9.5h1v-5.5h1v1.5h1v10h1v6h1v4h1v1.5h1v-1.5h2v2h2v-1h1v-4.5h1v.5h1v2h1v-2h2v-2h1v.5h1v-4h1v-.5h1v3h1v2h1v-5.5h1v3h1v3.5h1v-5h1v-4h1v2.5h1V2281.0Z" fill="#c4952b"/>
<path d="M263.8,2281.0H1226.5" stroke="#c4952b" stroke-width="1.5"/>
<path d="M263.8,2316.0v-2.5h1v.5h1v-.5h1v.5h1v-.5h2v.5h1v-.5h1v-.5h1v.5h1v.5h2v-1h1v.5h1v-.5h1v.5h1v.5h2v-.5h2v.5h1v-.5h3v-.5h1v.5h1v-.5h1v-.5h1v.5h3v.5h1v-.5h1v-.5h5v-.5h2v1.5h1v-1h4v-.5h1v1h1v-.5h2v.5h1v.5h2v-1h1v-.5h1v1h1v-.5h1v.5h1v-.5h1v.5h2v-1.5h1v1h1v1h1v-.5h2v-1h2v-3h1v1h1v.5h1v-2.5h1v2h1v-.5h1v-.5h1v2h1v-1h1v-1.5h1v-8.5h1v2.5h1v4h3v-1.5h1v-2h1v1h1v-2h1v.5h1v3h2v-1.5h1v3.5h1v1h1v-.5h1v-2.5h1v-.5h1v3h1v1.5h1v-2.5h2v-3h1v3h1v.5h1v-1.5h1v-1h1v-1h1v-1h1v2h1v-2.5h1v-1.5h1v1h1v1.5h1v-.5h1v4h1v-2h1v-2h2v1.5h1v-3h1v-1.5h2v-.5h1v.5h1v3h1v.5h1v-5.5h1v5h2v-.5h1v2.5h1v2.5h1v-.5h1v-.5h2v-2.5h1v-1.5h1v1h1v.5h1v1.5h1v-4.5h1v2.5h1v-3.5h1v2h1v-1h1v1h1v-.5h1v.5h1v2.5h1v3h2v-4.5h1v1.5h1v1.5h1v-.5h1v1.5h1v.5h1v-2h1v1.5h1v-5h1v-6h1v-1h1v2h1v-2h1v3h1v2h1v-2h1v-3h1v7.5h1v-.5h1v-6h1v1.5h1v-1h1v2.5h1v1h2v-2.5h1v-4.5h1v-2.5h1v.5h1v-1.5h1v3.5h1v2.5h1v4h1v-4.5h1v-3.5h1v7.5h1v.5h1v-5.5h1v4h1v3h1v1h1v-4h1v5h4v-4.5h1v1.5h1v1h1v-3.5h1v1h1v1.5h1v-1.5h1v-3h1v3h1v-1h1v4.5h1v-4h3v2.5h1v-3h1v-3h1v2.5h1v4h1v-6h1v-1h1v4.5h1v1.5h1v.5h1v-3h1v4h1v-2h1v-3.5h1v-1h1v1.5h1v-4.5h1v2h1v6.5h1v-5h1v4.5h1v2h1v-2h2v3.5h1v-2h2v3h1v-3.5h1v-1h1v3.5h1v2.5h2v-2h2v-1.5h1v3h1v-.5h1v1.5h1v-4h1v-2h1v3.5h2v2.5h1v1.5h1v-.5h1v-2h1v.5h1v1h2v-4.5h1v.5h1v2h1v-1h1v.5h2v-.5h1v-2h1v6.5h1v-.5h1v-2.5h1v1h1v1h1v-4h2v-1h1v1.5h1v-2h1v-.5h1v4.5h1v.5h1v-5h1v-1.5h1v1h1v-.5h1v.5h1v2h1v-1.5h1v1h1v2h1v-1h1v2h1v-1.5h1v3h1v2h1v-.5h1v-1h1v-.5h1v-3.5h1v3.5h1v-2h1v-3.5h1v-.5h1v-1.5h1v2.5h1v.5h1v-3h1v-1h1v4h1v-2h1v1.5h1v2.5h2v1h1v-3.5h1v1h1v1.5h1v-5h1v2h1v.5h1v3h1v-2.5h1v3h2v-.5h2v-1.5h1v2h1v-2h1v1.5h1v1h1v-1h1v1h1v-.5h1v3h2v-3.5h1v1.5h1v-1h1v2h1v.5h1v-3h1v2h1v-2.5h1v3h1v.5h1v-3h1v2.5h2v.5h2v-.5h2v-1h1v-1h1v-3h1v-.5h1v-2.5h1v2h1v-2h1v-1.5h1v-3h1v2.5h1v2h1v3.5h1v-2h1v-6.5h1v6.5h1v1h1v-5h1v4h1v2.5h1v-1.5h2v-4.5h2v7.5h1v2h1v-.5h2v-2h1v-4h1v-1.5h1v1h1v-1.5h1v2.5h1v1h1v-5.5h1v-9h1v4.5h1v6h1v-1.5h1v-1h1v17.5h3v-.5h1v1h2v-.5h1v-.5h1v1h2v-1h1v.5h2v.5h1v-1h4v1h1v-1h2v-.5h2v1h1v1h2v-.5h1v-1.5h1v.5h1v-.5h1v.5h2v.5h1v-.5h2v-.5h1v1h2v-1h1v.5h1v1h1v-.5h1v-2h2v2h1v.5h1v-1h1v-.5h1v1.5h2v-.5h2v1h2v-.5h1v.5h2v-.5h2v.5h1v.5h1v-.5h1v.5h1v-.5h1v.5h1v-2.5h1v-1h1v.5h1v.5h3v-1h1v-1h1v1h1v-.5h1v-2h2v-1.5h1v2h1v.5h2v-1h1v-1h1v-1h1v2h1v-9.5h1v-3.5h1v4.5h1v-2.5h1v-.5h1v3.5h1v-3h1v1.5h1v1.5h1v2h1v.5h1v-4h1v1.5h1v4h1v-3h1v1.5h1v-2.5h2v-2h1v2.5h1v.5h1v-2h1v5.5h1v-.5h1v-5.5h1v1h1v-2h1v.5h1v5.5h1v1h1v-4.5h1v-3h1v-2h1v-2h1v-5h1v6h1v-6.5h1v-2h1v7.5h2v.5h1v1h1v-.5h1v-3h1v5h1v-2h1v-12h1v2h1v9.5h1v.5h1v4h1v1h1v-7h1v-1h1v7h1v3h1v-1.5h1v-8.5h1v-2h1v9h1v-4h1v2.5h1v8.5h1v6h3v.5h2v1h1v-.5h1v-1h1v.5h1v.5h1v-.5h1v-.5h2v.5h2v1h3v-1.5h2v-1h2v1h2v1h2v1h1v-.5h1v.5h1v-1h1v1h4v-1h1v.5h3v-1h1v.5h2v.5h1v-.5h1v.5h1v-1h2v-1h2v.5h2v1h1v.5h2v-1.5h1v-1h2v.5h1v-6.5h1v1h1v-1h1v3h2v-5h2v2.5h1v2.5h1v.5h1v-2h1v2.5h1v-2h2v.5h1v2h1v-1h2v-.5h1v.5h1v2h1v1h1v-1h2v-2.5h1v.5h1v-.5h1v-1.5h1v1h1v-1h1v1.5h1v-1.5h1v1h1v-2.5h1v-.5h1v3.5h1v-2.5h1v1h1v3h1v1h1v3h1v-.5h1v-1.5h2v.5h1v1h1v-1h1v.5h1v.5h1v-.5h1v1.5h2v-1.5h1v-.5h1v1h1v-.5h3v.5h1v-.5h1v-1h1v-.5h2v.5h1v1.5h1v.5h2v-.5h1v-.5h1v.5h1v.5h1v-.5h2v.5h1v-.5h1v.5h1v.5h2v-1.5h3v1h1v-1h1v-1h3v.5h1v1h1v-.5h1v.5h1v-1h3v.5h1v-1h1v-.5h1v1.5h2v-.5h1v1.5h2v-.5h1v.5h2v-1h1v.5h2v.5h1v-.5h1v1h1v.5h3v-.5h1v.5h1v-.5h2v.5h1v-1h2v.5h1v.5h2v-.5h1v-.5h1v.5h3v.5h3v.5h1v-.5h1v-1h1v-.5h1v-.5h1v1h1v.5h3v-1.5h1v-1h1v.5h1v1.5h1v-1h2v-.5h2v1h1v-.5h1v.5h1v-1h1v1h1v-1.5h2v1.5h1v-.5h1v-1.5h1v1.5h1v.5h1v-2h1v-1h1v-1h1v.5h1v2h1v-1h1v-1.5h1v2h1v-1h1v-1h1v-.5h1v1.5h1v-.5h1v1.5h1v.5h1v.5h1v-.5h1v-2.5h1v.5h1v.5h1v1h1v1h1v-1.5h1v-.5h1v.5h1v-2h1v.5h1v.5h2v1.5h1v2h2v-1h1v1h1v-.5h1v-.5h1v.5h1v-1h1v1h1v1h1v-1h1v-.5h1v-.5h1v1h1v-1h2v.5h2v1h1v-1h2v1.5h1v-.5h1v.5h2v-.5h2v.5h1v-.5h1v.5h1v-1.5h1v-.5h2v.5h1v-1.5h1v.5h1v1h3v-2h1v.5h1v2h2v-.5h1v-.5h1v1.5h1v-1.5h1v.5h1v.5h1v-1h1v1h1v1h1v.5h1v-1h1v-1h3v1h1v.5h6v-1h2v1h1v-1h1v-.5h1v.5h1v.5h1v-1h1v-.5h1v1.5h1v-.5h4v-.5h1v.5h1v-6h1v1h1v-1.5h2v1h1v2.5h1v-.5h1v-1h2v1h1v-14.5h1v7.5h1v-3h1v-2h1v6.5h1v1h1v-4h1v-4.5h1v3h1v-.5h1v-2.5h1v.5h1v1.5h1v5h1v-2.5h1v-5h1v2h1v3.5h1v.5h1v.5h1v-3h1v-5.5h1v1.5h1v-.5h1v3h1v-3.5h1v1.5h1v-.5h1v-1.5h1v-.5h1v-4.5h1v-6.5h1v.5h1v2.5h1v4h1v4h1v-2h1v-3.5h1v2h1v-7.5h1v27.5h1v1.5h1v.5h2v-.5h1v1.5h1v.5h1v-1.5h2v1h1v-1h2v.5h1v-.5h3v1.5h1v-.5h1v1h4v-.5h1v1h2v-.5h1v-1h3v.5h1v-.5h1v-.5h1v-.5h1v1h1v-.5h1v.5h1v1h1v-.5h1v-1.5h1v.5h1v.5h1v-.5h1v-1h1v1h2V2316.0Z" fill="#3db52b"/>
<path d="M263.8,2316.0H1226.5" stroke="#3db52b" stroke-width="1.5"/>
<path d="M263.8,2351.0v-6h1v-2.5h1v2h1v1.5h1v-.5h2v-1.5h2v2h1v1h1v.5h1v-1h1v.5h1v1h2v-1h1v-.5h1v-.5h2v1.5h2v-1h1v-.5h1v.5h1v1.5h1v-.5h1v-6h1v6h1v-.5h1v-1h3v1.5h1v-.5h2v-.5h1v.5h1v-1h1v1h1v-4.5h1v4.5h1v.5h1v-1h1v1h1v-1h1v-1h1v1h2v-1.5h1v.5h1v.5h1v-2h1v1h1v.5h1v-.5h1v-1.5h3v2h1v1h1v-3h1v2h1v.5h2v-.5h1v-1h1v-1.5h1v-3.5h1v-2.5h1v5.5h1v-3.5h1v3.5h1v-.5h1v1h1v.5h1v-1h1v-1.5h1v-1.5h1v3h1v-.5h1v.5h1v-2.5h1v.5h3v2h2v-.5h1v-2h1v-7.5h1v11h2v-.5h1v-.5h1v1.5h2v-1.5h1v-2h2v2.5h2v-2.5h1v1.5h1v-2h1v-1h1v-.5h1v4.5h1v1h1v-1h1v-4h1v1.5h1v2.5h2v-2h1v-1h1v2h1v-2.5h1v3.5h1v-2h2v1.5h1v-1h1v-.5h1v3h1v.5h1v-2.5h1v-1h1v1.5h1v.5h1v1.5h1v-.5h2v-1h1v-1h1v2.5h1v-.5h1v-.5h1v.5h1v1.5h1v-1.5h1v1h1v-1h1v1.5h1v-1h1v-2.5h1v-1h1v-1h1v-6h1v6.5h1v.5h1v2h1v-3h1v-2.5h1v-.5h1v-.5h1v1h1v4h1v-2.5h1v3h2v-1h1v-3h1v2.5h1v-1h1v-.5h1v-1.5h1v2h1v3.5h1v.5h1v-1.5h1v-.5h1v.5h1v1.5h1v-.5h1v.5h2v-2h1v1.5h2v-1.5h1v2.5h1v-2h1v-.5h1v2h1v-.5h1v-1h1v2.5h1v-.5h1v-2.5h1v-1h1v-3h1v3h1v1.5h2v1h1v1h1v1.5h2v.5h1v.5h3v-1h1v-.5h1v-.5h1v1.5h3v-1h2v1.5h1v-.5h1v-1.5h1v-3.5h1v3h1v-3h1v-1h1v-.5h2v2h1v1h1v-2h1v.5h1v-3h1v3.5h1v-.5h1v.5h1v-2.5h1v5h1v-6.5h1v3h1v1h1v.5h1v2h1v-3.5h1v-1h1v-1h1v3.5h1v-1.5h1v2h1v-3h1v1h1v3h1v2h2v-1h1v-2.5h1v.5h1v2h2v.5h1v-1h1v2h1v-2h1v1h3v-3h1v-.5h1v-1h1v.5h1v2.5h3v-1.5h2v-1.5h1v3h1v-2h2v1.5h1v-1h1v-7.5h1v11.5h1v-2h1v1h2v1.5h1v-1h1v-.5h1v-.5h1v2h2v-2.5h3v.5h1v-1.5h1v1h1v.5h1v-.5h1v1h1v-1.5h1v-2h1v2h1v.5h1v1h1v.5h1v-1h1v-2.5h1v1.5h1v1h1v-2.5h1v1h1v.5h1v-.5h1v-1h1v-.5h1v.5h2v1h1v2.5h1v.5h1v-2h1v-1h1v-1.5h3v.5h1v.5h1v1h1v-.5h1v2.5h1v-2h1v-.5h1v2.5h1v.5h1v-1.5h1v-2h1v2h1v-1h2v-1.5h1v-1h2v-.5h1v.5h1v-.5h1v-1h1v-.5h1v5h1v-1.5h1v-3.5h1v1h1v2.5h1v-2.5h1v2h1v-1h1v2h1v-2h1v-.5h1v-.5h1v.5h1v-1h1v-1.5h1v1h1v1h1v1h1v-2h1v2h1v2.5h1v.5h1v-1h1v-.5h2v-2h1v1.5h1v.5h1v-1.5h1v-2.5h1v2.5h1v-2h1v-1h1v.5h2v1.5h1v.5h1v-2.5h1v-.5h1v4h1v2h1v.5h1v-3h1v1h1v1.5h1v-3h1v-9.5h1v-6.5h1v3.5h1v10.5h1v1.5h1v-1h1v9h1v-1.5h1v-.5h1v1.5h1v-1.5h2v-.5h1v-.5h3v1.5h1v-1h1v-.5h1v1.5h2v-2h1v2h1v-1h1v-1h1v1.5h1v-.5h1v-1h1v-.5h1v2h1v-.5h3v.5h1v-1h2v1h1v-.5h1v-.5h1v2h2v-1h1v-.5h1v1.5h1v.5h1v-.5h1v.5h1v-1h1v-.5h1v-.5h1v.5h1v.5h1v.5h1v-1h1v.5h1v-.5h1v.5h1v.5h3v-1h1v.5h2v.5h1v-1.5h1v1h1v-1h1v.5h1v1h1v-5h1v3.5h1v-6.5h1v1.5h1v3h1v.5h1v-2h1v.5h1v1.5h1v-.5h1v-.5h1v-2.5h1v-1h2v.5h1v-2.5h1v2.5h1v-2.5h1v3h1v2h1v-3h1v-3.5h1v2h1v2h1v-3h1v4.5h1v2h1v-.5h1v-1h1v-1h1v.5h1v-1.5h1v1.5h1v2h1v1h1v-2.5h2v2.5h1v-.5h1v1h2v-1h1v-1h1v.5h1v-1h1v2h1v-.5h1v-3.5h1v-.5h1v3h2v-1.5h1v-3h1v-.5h1v-6.5h1v4h1v1h1v-.5h1v2.5h1v-1h1v2h1v2.5h1v-3h1v3.5h1v-.5h1v-1h1v.5h1v-.5h1v-2h1v-4h1v-1.5h1v4h1v-2.5h1v2.5h1v-3.5h1v-4h1v4.5h1v2h1v-.5h1v1h1v-4h1v-.5h1v-3h1v2h1v10.5h1v3.5h1v.5h1v-1h2v1h1v.5h1v.5h1v-1.5h1v-.5h2v-5h1v6h1v.5h1v-1h1v1h1v-1h1v-1h1v-.5h1v1h1v1.5h1v-1.5h1v-.5h1v-1.5h1v1h1v.5h2v1h1v-1.5h1v1h1v-2h3v-1h1v1.5h1v1.5h4v-.5h1v.5h1v-1.5h1v1.5h1v.5h1v-3h1v1.5h1v1h1v-2h1v-.5h2v2h1v1h1v-.5h1v-1.5h1v.5h2v1h1v-1.5h1v1.5h1v.5h1v1.5h1v-.5h1v-1.5h1v.5h1v-1h1v2h1v.5h3v.5h1v-.5h1v-.5h1v-.5h1v1h1v-.5h1v-1.5h1v-.5h1v1.5h1v-1h1v-.5h1v.5h1v1h1v-4.5h1v1.5h1v2h1v-1.5h1v-1.5h1v1h1v2h1v-.5h1v-.5h1v.5h1v-2.5h1v1h2v2.5h2v-1h1v6.5h2v-5h1v-.5h1v.5h2v-.5h1v2h2v-1.5h1v.5h1v-.5h1v1.5h2v-1h2v-.5h1v-.5h1v.5h1v1.5h1v.5h1v-2h1v.5h1v1h1v-.5h2v-2h1v1h1v1h1v-1h1v.5h2v-2h1v-2h1v-.5h1v1.5h1v1.5h1v1h1v-.5h1v-2h1v1.5h2v.5h1v-2h1v-1h1v-1h4v.5h2v3.5h1v.5h1v-.5h3v.5h2v.5h1v-1h1v-1.5h1v.5h1v-.5h4v2h2v-2.5h1v1.5h1v-1h1v.5h1v1.5h1v-1h1v2h2v-1.5h1v-.5h2v1.5h1v-1h1v1h1v-1h1v-1.5h1v1.5h1v.5h2v-1.5h1v-1h1v1h1v-1h2v1.5h1v-.5h2v1h1v-2h1v2h1v-1.5h1v-2h1v1h1v1h2v-.5h2v.5h1v2h1v-1.5h1v-.5h1v.5h1v-.5h1v.5h2v2.5h3v-.5h1v-2h2v1.5h1v-.5h1v1.5h1v-6.5h1v7h1v-.5h1v-2h1v1h1v-2.5h1v2h1v.5h1v-.5h1v1.5h1v-.5h1v.5h1v.5h1v-1h1v-.5h2v-2h1v-1h1v1h1v-1h1v3h1v-.5h1v-2.5h1v.5h1v-.5h1v-.5h1v-1h1v.5h1v3h1v-2h1v-1h1v.5h1v2.5h1v-1.5h2v2h1v1h1v-1.5h1v2h1v.5h1v1h1v-.5h3v.5h1v-.5h1v-.5h1v.5h1v-1h2v.5h2v-.5h1v1h1v.5h2v-1.5h3v1h1v-.5h1v-.5h1v.5h1v3.5h3v-3h1v-.5h1v-7h1v.5h1v3h1v-1h1v-3.5h1v.5h1v1h1v2.5h1v-1h1v-1.5h2v2.5h1v-2.5h1v-3.5h1v1.5h1v3.5h1v-3.5h2v3h1v1h1v-1.5h1v-2h1v-2h2v4.5h1v1h3v-1h1v1.5h1v-2h1v-2.5h1v2h1v-1.5h1v3.5h3v-.5h1v.5h1v-3.5h2v-1h2v1.5h1v2h1v-1h1v-.5h1v-1.5h1v1h1v-2h1v-10h2v5h1v-3.5h1v1h1v1.5h1v1.5h1v-2h1v2.5h1v2h1v.5h1v2.5h1v-4.5h1v5h1v-1.5h1v1.5h2v1.5h1v-.5h2v-2.5h1v-1h1v1h1v.5h2v2h1v-2h1v-3.5h1v2h1v1h1v1h1v-1.5h1v-4h1v4h1v-1.5h1v-2h1v1h1v-3.5h1v1h1v7h1v7h1v.5h2v1h1v-1.5h2v.5h1v.5h1v-.5h1v.5h1v.5h2v-1h1v.5h1v.5h1v-.5h1v.5h1v-.5h1v-.5h1v1h1v-7h1v6h1v1h2v-.5h1v-1h1v1h1v.5h1v.5h2v-.5h1v-1.5h2v1.5h1v-.5h1v-1h2v.5h1v-.5h1v.5h2v.5h1v-.5h1v-1h1v-1h1V2351.0Z" fill="#1f7a35"/>
<path d="M263.8,2351.0H1226.5" stroke="#1f7a35" stroke-width="1.5"/>
<path d="M263.8,2388.0v-21.5h1v-1.5h1v4.5h1v3.5h1v1h1v-2h1v1h1v-2h1v-6h1v-1h1v-1.5h1v10h1v3h1v-.5h1v-1.5h1v1.5h1v-4.5h1v-2.5h1v-3.5h1v4h1v-6h1v3h1v-6h1v-2h1v7h1v4h1v2.5h1v-7h2v1.5h1v8.5h2v-6.5h1v1h1v-6.5h1v4h1v5h1v-7.5h1v-1h1v2h1v-5h2v2h1v.5h1v2.5h1v3.5h1v2.5h1v-1h1v1.5h1v-.5h1v-6.5h1v-1.5h1v8.5h1v.5h1v-7.5h1v-.5h1v3.5h1v-6h1v4h1v-10h2v-2h1v5.5h1v2.5h1v.5h1v-6h1v-10h1v25h1v-3.5h1v-5.5h1v-2.5h1v5.5h1v11.5h1v-2.5h1v4.5h2v-5h1v4h1v1h1v-1.5h1v-4h1v1h1v-1h2v7h1v.5h1v-4.5h1v4.5h1v.5h1v2.5h1v-2.5h1v-1.5h1v-.5h1v3h1v1.5h1v-3h1v-1h1v2h1v-2.5h1v2h1v-4h1v-.5h2v3h1v1.5h1v-3h1v2h1v-2h1v.5h1v2.5h1v-2.5h1v2h2v-2h1v2h2v.5h2v.5h1v1.5h1v.5h1v-2.5h1v-2h1v-2h1v-1h1v1.5h1v1.5h1v-.5h1v2h2v.5h1v-2.5h1v-1h1v1.5h1v1h1v-.5h1v3h1v-2h1v-2.5h1v1.5h1v1.5h1v-1.5h1v-.5h1v-2.5h1v4.5h1v1h1v-1h1v.5h1v-1.5h1v-1.5h1v2h1v-1h1v3h1v-1h1v-2h1v-.5h1v1.5h1v-1h1v-1.5h1v-2h1v2.5h1v2h3v-2.5h1v3h1v-.5h1v-11h1v9.5h1v.5h1v-1h1v-2.5h1v3.5h2v3.5h1v-.5h1v-1h1v1.5h1v-.5h1v-2.5h1v-3h2v4.5h2v-2.5h1v2h2v-2.5h2v.5h1v-7h1v6.5h2v2.5h1v1h1v1.5h1v-1h1v-1h1v1.5h1v1h1v-.5h2v-.5h1v-.5h2v-4h1v-2.5h1v-.5h1v-1.5h2v2.5h1v2.5h1v1.5h1v2h1v-.5h1v.5h1v1.5h1v-.5h1v-2.5h1v-2.5h1v-2h2v2.5h1v-2.5h1v.5h1v1.5h1v1.5h1v-4.5h1v1.5h1v3h1v-.5h1v.5h1v-1.5h1v-1h1v1.5h1v-3h1v-2.5h1v4h1v-1.5h1v2h1v-2.5h1v1h1v1.5h1v-.5h1v3.5h1v-1h1v-1.5h1v-.5h1v-.5h1v4.5h1v.5h1v.5h1v-.5h1v-2h1v-.5h1v-1h1v1h1v-8h1v4.5h1v-1h1v2.5h1v-6.5h1v6h1v-1h1v-.5h1v-3.5h1v6h1v-5h1v-2h1v2.5h2v2.5h1v4.5h1v-1.5h1v-2.5h1v-.5h1v-1h1v3h1v-2.5h1v2h1v4h1v-.5h1v-2h1v1h2v-1h1v.5h1v-.5h1v2h1v.5h2v-1.5h1v-1.5h1v-2h1v.5h1v-2.5h1v1.5h1v4h1v-.5h1v-4h1v3h1v-1h1v-1.5h1v-2h1v2.5h1v2.5h1v-4h1v3h1v-1h1v1h1v.5h1v1.5h1v-1h1v.5h2v-1.5h1v1h1v1.5h1v-2.5h1v2.5h1v-5h1v4.5h1v-1.5h1v-1.5h1v3.5h1v-1h1v-1.5h1v2h1v-1.5h1v-3h1v.5h1v1h1v1h2v-.5h1v1.5h1v.5h1v.5h1v-.5h1v2.5h3v-1.5h1v-3h1v-4h1v8h1v-4.5h2v-1.5h1v-1.5h1v1h1v1h1v.5h1v4.5h2v-3h1v-.5h1v-1.5h1v.5h1v-1h1v1.5h1v1h1v-.5h1v-2.5h1v.5h1v.5h1v1.5h1v-1h1v1.5h1v2.5h1v.5h1v-3h1v-3h1v1h1v5.5h1v-2h1v-1h1v-1.5h1v-1h1v-1h1v.5h1v2.5h1v-2.5h1v1.5h1v-1h1v-2.5h1v-4h1v1.5h1v6.5h1v1h1v-3h1v-6h1v-1h1v2.5h1v3h1v1h1v1.5h1v2.5h1v-2h1v2.5h1v-1h1v-.5h1v1h2v-.5h1v-2.5h1v3h1v-1h1v.5h1v1.5h1v-3.5h1v1.5h1v2h1v-3h1v-1h1v.5h1v2.5h1v.5h1v-2h1v2h1v.5h1v-2.5h1v2.5h1v-2h1v-3.5h1v-1h2v4h1v1.5h1v-2.5h1v-.5h1v4h1v-.5h1v-4h1v.5h1v-7h1v13h1v-2h1v-4.5h1v-8h1v11.5h1v-3.5h1v-2h1v2h1v-1h1v-4h1v3h1v-3.5h1v3h2v-.5h1v-.5h1v4h1v2h1v-1.5h1v.5h1v2.5h1v-14.5h1v16h1v-4.5h1v-.5h1v5h2v1.5h2v-2.5h1v-.5h1v-3h1v3.5h1v-2h1v2h1v.5h1v-1h1v-5.5h1v-1h1v4h1v2h1v-13.5h1v12h1v-.5h1v3h1v-.5h1v-4h1v4.5h1v-3.5h1v-3h2v1.5h1v5h1v-.5h1v.5h1v-1h1v-3h1v-.5h1v-3h1v2.5h1v-4.5h1v1.5h1v4h1v-4.5h1v-1.5h1v4.5h1v-4.5h1v1h1v4h1v-.5h1v2h1v-5h1v1h1v1.5h1v1h1v-1.5h1v.5h1v2.5h1v-2.5h1v2h1v-3.5h1v1.5h1v2.5h1v-10.5h1v11h1v2h1v-1h1v-3.5h1v-4.5h1v4h1v-3h1v8h1v-1.5h1v-1.5h1v-4h1v5h1v1h1v-3.5h1v1.5h1v5.5h1v1h1v-3h1v-4.5h1v-1h1v2h1v-.5h2v-2h1v-5.5h2v1h1v2h1v-2.5h1v.5h1v-1h1v6h1v-6h1v-2h1v2.5h1v8h1v-1.5h1v3h1v-4h1v-.5h1v2.5h1v1.5h1v2h1v-.5h1v-3h1v-1.5h1v1.5h1v-2.5h1v-1h1v.5h1v-5.5h1v7.5h2v-5.5h2v4h1v1.5h1v-7h1v-1h2v-.5h1v8h1v-3.5h2v3h1v-2h1v2h1v2h3v1.5h1v-2.5h1v2h1v-1.5h1v-11h1v7.5h1v-1.5h1v4h1v-5h1v6h1v2h2v-3.5h1v-2h1v2.5h1v.5h1v-10.5h1v14h1v-4h1v-1.5h1v2h1v-1h1v-3.5h1v5.5h1v-1h1v-15.5h1v15h1v-1h1v.5h1v-.5h1v3h1v-15.5h1v7.5h1v6h2v1.5h1v-7h1v1.5h1v3.5h1v-3.5h1v5h1v-2h1v.5h1v-2h1v-4.5h1v3h1v6.5h1v-1.5h1v1.5h1v-1h1v-2.5h1v3h1v3h2v-3h1v-.5h1v2h1v-1.5h1v-2.5h1v.5h1v-4h1v-4h1v2.5h1v-2.5h1v3.5h1v6h2v-1.5h1v-2h1v.5h1v.5h1v-2.5h1v-1h1v3.5h1v1h1v2.5h1v-3.5h1v-.5h1v-2h1v4.5h1v-9.5h2v2.5h1v1.5h1v.5h1v-3h1v2.5h1v4h1v-2.5h1v1.5h1v5h1v-2.5h1v-3.5h1v4h1v-5.5h1v.5h1v2.5h1v-1h1v1h1v3.5h1v-5h1v-6h2v4h1v-4.5h1v1h1v4.5h1v2h1v-4h1v-1.5h1v2h1v-1h1v1.5h1v6.5h1v3h1v-1.5h1v-.5h1v.5h1v-19h1v17.5h1v-3h1v-3.5h1v-2.5h1v5h1v2.5h1v-5.5h1v2h1v-1.5h1v5h1v1.5h1v-4.5h1v-10.5h1v8.5h1v-1.5h1v1h1v-1h1v-1.5h1v6.5h1v-6h1v-3.5h1v9h1v-2.5h1v3.5h1v3h1v-7h1v5h1v-2.5h1v-.5h1v-.5h1v5.5h1v-2.5h1v-3.5h1v4.5h1v-4.5h1v3.5h1v-3h1v-.5h1v4h1v-2h1v-1h1v-.5h1v5h1v.5h1v-4h1v-3h1v1.5h1v7h1v-1.5h1v-3.5h1v1h1v1.5h1v3h1v1.5h1v-1.5h1v-5.5h1v1h1v.5h1v-3h1v3.5h1v-3.5h1v3h1v-14h1v15h1v3.5h1v-3.5h1v-2.5h1v1.5h1v1.5h2v1.5h1v-3.5h1v-.5h1v.5h1v2h1v3.5h1v-1h1v-.5h1v-1h1v-13.5h1v15h1v-2.5h1v1h1v-12h1v14h1v1h1v-3.5h1v-2h1v3h2v-2h1v3h2v-1.5h1v-1.5h1v3h1v-1.5h1v-5.5h1v5h1v-2h1v-4.5h1v3h1v4h1v-2.5h1v-3.5h1v5.5h1v1h1v-2.5h1v1h2v1h1v-1h1v2h1v1.5h1v-12h1v8.5h1v-.5h1v2h2v-.5h1v3h3v-.5h1v-2h1v3.5h2v-3.5h1v-1h1v-2.5h1v1.5h1v4.5h1v.5h2v-2h1v-2.5h1v-.5h1v.5h1v-2h1v-1h1v2.5h1v-3.5h1v3h1v-1.5h1v2h1v-1h1v-2h1v-1h1v5h1v1.5h1v1.5h2v-3.5h1v-3.5h1v1h1v3h1v2h1v1.5h1v-1h1v-2.5h1v-.5h1v-1.5h1v1.5h1v-2.5h1v-1h1v2h1v.5h1v-.5h1v1.5h1v-1h2v.5h1v2h2v-2h1v-3.5h1v.5h1v3h1v-1.5h2v1h1v-5h1v-.5h1v5h1v-2h1v-1h1v-4.5h1v-1.5h1v5h1v5h1v1.5h1v-4.5h1v-1.5h1v4h1v2h1v-13h1v11h1v-1h1v-2.5h1v-.5h1v-2h1v6.5h1v-1h1v-9h1v-2.5h1v3h1v7h1v-1.5h1v2h1v2.5h1v-2.5h1v-5h1v-1.5h1v2.5h1v3.5h1v4.5h1v1h1v-3.5h1v4h1v-15h1v9.5h1v-1.5h1v3h2v1.5h1v-1.5h1v-5h1v-3h1v5.5h1v-4.5h1v8.5h1v-3h1v-1.5h1v-.5h1v2h1v3h1v-1.5h1v-3h1v-2.5h1v4h1v-.5h1v3.5h1v-4h1v-1h1v-1.5h1v-1.5h1v-.5h1v-1.5h1v2.5h1v6.5h2v1h1v.5h1V2388.0Z" fill="#5a34a8"/>
<path d="M263.8,2388.0H1226.5" stroke="#5a34a8" stroke-width="1.5"/>
<text x="243.5" y="2446.7" font-size="17.5" text-anchor="end" textLength="107.7" lengthAdjust="spacingAndGlyphs" >Large Intestine</text>
<path d="M263.8,2448.0v-.5h3v-.5h1v.5h8v-.5h1v.5h2v-.5h1v.5h2v-.5h3v.5h4v-.5h2v.5h1v-.5h3v.5h1v-.5h5v.5h2v-1h3v.5h3v.5h1v-.5h4v-1h1v-1h1v-3.5h1v-1.5h1v1.5h1v3h1v1.5h1v1h1v.5h4v-.5h3v.5h2v-.5h1v.5h1v-.5h1v.5h7v-.5h2v.5h6v-.5h1v.5h2v-.5h7v.5h2v-.5h2v-.5h1v-1h1v-2.5h1v-3.5h1v-8h1v-8h1v3.5h1v9.5h1v6h1v2h1v1.5h1v.5h1v-.5h1v.5h1v.5h7v-.5h1v.5h1v.5h1v-.5h1v.5h5v-.5h2v.5h11v-.5h1v.5h6v-.5h1v.5h4v-.5h1v.5h1v-.5h2v.5h1v-.5h1v-.5h3v1h3v-1h2v1h2v-.5h1v.5h1v-.5h5v.5h4v-.5h2v.5h1v-.5h1v.5h4v-.5h4v.5h2v-.5h4v.5h3v-.5h2v.5h1v-.5h1v.5h1v-.5h4v-.5h4v.5h4v.5h1v-.5h2v.5h6v-1h1v-1h1v-2h1v-1.5h1v1.5h1v2h1v1h2v.5h1v.5h1v-.5h2v.5h3v-1h1v.5h1v-.5h2v.5h2v-.5h1v.5h4v.5h1v-.5h3v-.5h1v.5h3v.5h5v-.5h2v.5h2v-.5h1v.5h1v-.5h2v-.5h4v.5h1v-.5h2v.5h5v.5h2v-1h2v1h2v-.5h2v.5h1v-.5h5v.5h3v-.5h1v.5h1v-.5h3v.5h1v-.5h4v.5h2v-.5h4v.5h1v-.5h2v.5h2v-.5h1v.5h4v-.5h1v-.5h1v.5h1v-.5h1v.5h2v-.5h1v.5h2v-.5h2v.5h3v.5h3v-.5h3v.5h3v-.5h1v-.5h1v.5h2v.5h1v-.5h2v.5h1v-.5h4v-.5h3v.5h1v-.5h1v.5h4v-.5h1v.5h1v.5h4v-1h2v.5h1v.5h1v-.5h3v-.5h2v.5h3v.5h5v-.5h4v-.5h1v.5h2v.5h1v-.5h8v.5h11v-.5h6v.5h3v-.5h2v.5h1v-.5h1v-.5h2v.5h9v.5h1v-.5h1v.5h2v-.5h1v.5h2v-.5h1v-.5h1v.5h3v-.5h2v.5h1v-.5h1v.5h1v-1h3v.5h1v.5h4v-.5h1v-.5h1v.5h1v.5h3v.5h4v-.5h1v.5h1v-.5h1v-.5h2v.5h4v-.5h1v.5h5v-.5h2v-.5h1v.5h2v.5h1v-1h1v.5h5v.5h2v-.5h2v.5h1v-.5h1v.5h2v-.5h1v.5h3v-.5h2v.5h1v.5h2v-.5h2v-.5h1v.5h1v-.5h1v.5h1v-.5h1v-1.5h1v-2.5h1v-4h1v-10h2v6h1v6.5h1v3.5h1v1.5h1v1h4v.5h2v-.5h1v-.5h1v.5h2v.5h1v-.5h5v.5h2v-.5h1v.5h2v-.5h2v.5h2v-.5h1v-.5h1v-1.5h1v-2.5h1v-4h1v-8.5h1v-7h1v1.5h1v11h1v5.5h1v-6h1v-6h1v1h1v9.5h1v3h1v3h1v1h1v.5h2v-.5h2v.5h9v.5h2v-.5h1v-1h1v-2h1v-4h1v-6h1v-5.5h1v1.5h1v8.5h1v4.5h1v2h1v-1h1v-2.5h1v-3h1v.5h1v4.5h1v2h1v1h1v.5h1v.5h1v-.5h3v.5h2v-.5h1v.5h8v-.5h1v-.5h1v.5h3v.5h5v-.5h2v-1h1v-1.5h1v-3.5h1v-7.5h1v-5h1v2.5h1v8.5h1v4h1v2h1v1h3v.5h1v.5h1v-.5h8v.5h1v-.5h1v-.5h1v1h1v-.5h1v-.5h1v.5h2v-.5h1v.5h2v-.5h2v.5h1v-.5h4v-.5h2v.5h1v.5h2v-.5h1v.5h1v.5h2v-.5h3v.5h1v-.5h2v.5h10v-.5h1v-1h1v-2h1v-2h1v.5h1v3h1v1h1v.5h5v-.5h1v.5h1v.5h2v-1h1v-.5h1v.5h1v.5h1v.5h1v-.5h1v-.5h2v-.5h1v.5h1v.5h7v-.5h1v.5h1v.5h1v-.5h1v-.5h3v1h4v-.5h1v-.5h1v-1.5h1v-2.5h1v-4.5h1v-10h1v-7h1v2h1v12.5h1v5h1v4h1v1.5h1v1h1v.5h6v-.5h4v-.5h2v.5h2v.5h1v-1h3v.5h4v-.5h1v.5h1v-.5h2v.5h1v-.5h3v-.5h1v.5h1v1h2v-1h1v-.5h1v-1.5h1v-2.5h1v-7h1v-3h1v.5h1v7.5h1v3.5h1v2h1v1h1v1h1v-.5h2v.5h1v-.5h2v.5h3v-.5h3v.5h2v-.5h3v-1h1v-2h1v-1.5h1v.5h1v2h1v1.5h2v.5h2v.5h4v-.5h1v-.5h1v-.5h1v-1.5h1v-2h1v.5h1v2h1v1.5h1v.5h1v-.5h2v.5h1v.5h2v-.5h3v.5h4v-.5h1v.5h3v-.5h1v.5h1v-.5h1v.5h1v-.5h1v.5h2v-.5h1v-.5h3v.5h1v-.5h1v.5h1v-.5h1v.5h2v-1h1v.5h1v.5h6v-.5h2v.5h2v-.5h2v1h1v-.5h3v-.5h1v.5h2v.5h14v-.5h1v.5h4v-.5h2v.5h4v-.5h1v.5h1v-.5h4v.5h2v-.5h1v.5h1v-.5h1v-.5h2v.5h1v.5h1v-.5h1v-.5h1v.5h2v-.5h2v.5h3v.5h3v-.5h5V2448.0Z" fill="#21793c"/>
<path d="M263.8,2448.0H1226.5" stroke="#21793c" stroke-width="1.2"/>
<text x="247.0" y="2481.6" font-size="17.5" text-anchor="end" textLength="38.0" lengthAdjust="spacingAndGlyphs" >Heart</text>
<path d="M263.8,2483.8v-1.5h1v.5h2v.5h1v-.5h2v-.5h1v.5h2v.5h2v-.5h1v-.5h1v.5h4v.5h1v-.5h3v.5h1v-.5h3v-1h1v-1.5h1v-3.5h1v-2h1v.5h1v4h1v2h1v1h1v.5h1v.5h1v-.5h1v.5h6v-.5h1v.5h5v-.5h1v-.5h1v-1h1v-2h1v-3.5h1v-3.5h1v-.5h1v5.5h1v3.5h1v1.5h1v.5h1v.5h4v-.5h1v.5h2v-1h2v.5h2v-.5h2v.5h4v.5h7v-.5h4v.5h1v-.5h1v.5h2v-.5h2v-1h1v-1.5h1v-3h1v-2h2v3.5h1v2.5h1v.5h1v-2h1v-3h1v-7h1v-4.5h1v1.5h1v8h1v4h1v2.5h1v1h1v.5h1v.5h3v-.5h1v.5h3v-.5h1v.5h3v-.5h1v.5h4v-.5h1v.5h4v-.5h1v.5h1v-.5h2v.5h1v-.5h2v.5h3v-.5h1v.5h1v-.5h2v-.5h2v.5h1v.5h1v-.5h1v-.5h2v.5h2v.5h1v-.5h2v.5h1v-.5h2v.5h1v-.5h2v.5h1v-.5h2v.5h1v-.5h3v.5h4v-1h1v.5h1v.5h1v-.5h1v.5h4v-.5h1v-.5h1v.5h3v.5h2v-1h1v.5h1v-.5h1v.5h2v-.5h1v-.5h1v.5h1v.5h1v-.5h1v.5h1v-.5h1v.5h1v.5h2v-.5h4v.5h4v-.5h3v.5h6v-.5h2v.5h4v-.5h6v.5h3v-.5h3v.5h1v-.5h3v.5h1v-.5h2v-.5h1v1h2v-.5h2v.5h2v-.5h1v.5h2v-.5h2v.5h3v-.5h3v.5h2v-.5h1v.5h2v-.5h2v-.5h1v.5h1v-.5h2v.5h1v.5h1v-1h1v-.5h1v.5h2v.5h1v.5h2v-1h1v.5h3v.5h1v-.5h3v.5h4v-.5h10v.5h1v-.5h1v-.5h1v.5h4v.5h2v-.5h1v.5h1v-.5h3v.5h1v-.5h3v.5h5v-.5h2v-.5h2v1h1v-.5h7v.5h1v-.5h1v-.5h3v.5h3v-.5h3v.5h1v-.5h1v1h3v-.5h3v-.5h1v.5h1v.5h1v-.5h2v-.5h1v.5h1v.5h1v-.5h1v-.5h1v.5h2v-1h1v.5h1v.5h2v-.5h3v1h2v-.5h1v-.5h2v1h2v-.5h1v.5h9v-.5h2v.5h11v-.5h2v.5h1v-.5h1v.5h1v-.5h1v.5h2v-.5h1v.5h1v-.5h3v-.5h2v.5h4v.5h1v-.5h1v-.5h1v.5h1v.5h1v-.5h5v.5h1v-.5h1v-.5h2v.5h2v-1h2v.5h1v.5h2v-.5h1v.5h1v.5h1v-.5h1v.5h1v-.5h2v.5h1v-.5h4v.5h4v-.5h1v.5h3v-1h1v.5h1v.5h1v-.5h1v-.5h3v.5h1v-.5h2v1h2v-.5h9v-.5h1v.5h2v.5h2v-1h3v.5h4v-.5h1v.5h4v-.5h1v.5h1v.5h1v-.5h5v.5h9v-.5h1v.5h1v-.5h5v.5h1v-1h1v-1h1v-2h1v-3h1v-3h1v.5h1v4.5h1v2.5h1v1.5h1v.5h1v.5h8v-.5h3v.5h2v-.5h2v.5h6v-.5h3v.5h2v-.5h3v-.5h5v-.5h1v.5h1v.5h1v.5h1v-.5h1v-.5h1v.5h1v-.5h2v.5h3v.5h1v-.5h1v-1h1v.5h1v.5h1v-.5h1v1h4v-.5h2v-.5h1v-1.5h1v-3h1v-3.5h1v-5h1v2h1v5.5h1v3.5h1v1.5h1v.5h1v1h3v-.5h2v-.5h1v.5h1v-.5h1v.5h1v.5h1v-.5h1v-.5h2v.5h1v-.5h1v.5h1v-.5h1v.5h1v-1h1v-2h1v-2h1v.5h1v2.5h1v1.5h1v.5h1v.5h1v-.5h2v.5h3v-.5h1v.5h2v-.5h1v-.5h1v-1h1v-3h1v-2.5h1v1.5h1v2.5h1v2h1v1h1v-.5h3v.5h2v.5h6v-.5h4v.5h4v-.5h2v.5h3v-.5h5v.5h5v-.5h3v.5h1v-.5h2v.5h1v-.5h1v-.5h3v.5h4v-.5h1v.5h2v.5h1v-.5h2v.5h2v-.5h2v.5h4v-.5h3v.5h1v-.5h1v-.5h1v.5h1v.5h2v-.5h3v.5h1v-1h1v.5h1v-.5h2v.5h9v-.5h1v-1h1v-3h1v-2h1v1h1v2.5h1v2h1v1h2v.5h3v-.5h1v-.5h1v-1.5h1v-3h1v-4h1v-11h1v-6h1v2h1v11h1v6h1v4h1v1.5h1v1.5h1v.5h4v-.5h1v.5h3v-.5h2v.5h1v-.5h2v.5h4v-.5h2v-.5h3v.5h2v.5h1v-.5h3v-.5h1v.5h3v.5h1v-.5h4v.5h1v-.5h1v-.5h1v.5h1v.5h1v-.5h1v-.5h1v.5h2v-.5h2v.5h3v.5h1v-.5h3v-.5h1v.5h3v-1h1v-1.5h1v-3h1v-4.5h1v-5.5h1v1h1v7.5h1v3.5h1v2h1v1h1v.5h2v.5h2v-.5h7v-1h1v-1.5h1v-3h1v-2h1v.5h1v3.5h1v1h1v-3h1v-3h1v1h1v4h1v1.5h1v-3h1v-2.5h1v1h1v3h1v2h1v1.5h1v.5h1v-.5h1v.5h8v-.5h1v.5h2v-.5h3v.5h3v-.5h2v.5h6v-.5h3v.5h1v-.5h6v.5h1v-.5h2v.5h2v-.5h2v-.5h2v.5h1v.5h2v-1h1v.5h5v-.5h1v.5h8v-.5h1v-.5h1v1h1v.5h2v-.5h1v-.5h3v.5h4v.5h5v-.5h1v.5h1v-.5h1v.5h2v-.5h1v.5h1v-.5h1v-.5h2v.5h2v.5h2V2483.8Z" fill="#21793c"/>
<path d="M263.8,2483.8H1226.5" stroke="#21793c" stroke-width="1.2"/>
<text x="247.0" y="2517.0" font-size="17.5" text-anchor="end" textLength="49.0" lengthAdjust="spacingAndGlyphs" >Kidney</text>
<path d="M263.8,2519.0v-1h3v.5h3v-.5h2v.5h1v-.5h1v.5h5v-.5h13v.5h1v-.5h1v.5h3v-.5h1v-.5h1v.5h2v.5h3v-.5h1v-.5h1v.5h2v.5h3v-.5h3v-1h1v-1.5h1v-3.5h1v-3h1v2h1v3h1v2.5h1v1.5h2v.5h1v-.5h1v.5h1v-.5h1v.5h2v-.5h13v.5h4v-.5h1v.5h3v-.5h2v.5h1v-.5h1v.5h4v-.5h2v.5h3v-.5h1v-.5h1v-1.5h1v-2h1v-5h1v-3.5h1v1.5h1v5h1v3.5h1v1.5h1v1h3v-.5h3v.5h1v.5h1v-.5h5v.5h2v-.5h3v.5h1v-.5h2v-.5h7v.5h4v-.5h2v.5h1v-.5h2v.5h2v-.5h2v.5h1v.5h5v-.5h2v.5h1v-.5h1v.5h5v-.5h5v.5h5v-.5h1v.5h7v-.5h1v.5h15v-.5h1v.5h6v-.5h7v.5h16v-.5h1v.5h9v-.5h1v.5h5v-.5h1v.5h1v-1h2v.5h1v-.5h3v-.5h1v.5h1v.5h1v-.5h3v.5h5v.5h1v-.5h6v.5h2v-.5h1v-.5h3v.5h3v-.5h1v.5h1v-.5h1v.5h2v-.5h1v.5h2v-.5h1v-.5h2v1h1v-1h1v.5h1v.5h1v.5h2v-.5h2v-.5h2v-.5h2v.5h4v.5h2v.5h1v-.5h1v-.5h2v.5h3v.5h1v-.5h1v.5h1v-.5h1v.5h1v-.5h2v.5h11v-.5h1v.5h4v-.5h2v.5h5v-.5h1v.5h6v-.5h1v.5h2v-.5h3v.5h2v-.5h3v-1h1v-2h1v-1.5h2v2.5h1v1.5h1v.5h2v.5h1v-.5h1v.5h5v-.5h1v.5h1v-.5h4v.5h1v-.5h1v-.5h1v-1h1v-1.5h1v.5h1v1.5h1v1h4v.5h2v-1h1v.5h3v.5h2v-.5h4v.5h2v-.5h5v.5h3v-.5h2v.5h1v-.5h1v.5h2v-.5h2v.5h3v-.5h4v.5h2v-.5h1v.5h5v-.5h2v.5h1v-.5h1v.5h5v-.5h1v.5h3v-.5h3v.5h2v-1h1v.5h2v.5h1v-.5h2v.5h5v-.5h2v.5h28v-.5h5v.5h1v-.5h4v-.5h1v-.5h2v1h1v.5h1v-.5h2v.5h1v-.5h1v-.5h1v-.5h1v.5h1v.5h3v.5h3v-.5h2v.5h2v-1h1v-1h1v-2h1v-3.5h1v-3.5h1v.5h1v5h1v3h1v1.5h3v.5h2v-.5h1v.5h1v-.5h1v-.5h2v1h2v-.5h1v.5h5v-.5h3v-.5h1v.5h2v.5h2v-.5h2v1h2v-.5h1v-1h1v-2h1v-2.5h1v-3h1v1h1v4h1v2h1v1h2v.5h2v.5h1v-.5h1v.5h8v-.5h3v.5h2v-.5h1v-.5h1v1h1v-.5h1v-.5h1v-2.5h1v-2h1v-7h1v-4h1v2h1v6.5h1v4.5h1v1.5h1v1h3v.5h4v.5h1v-.5h1v-.5h1v.5h1v-.5h2v.5h1v-.5h1v.5h1v-.5h2v.5h1v-.5h3v.5h4v.5h2v-.5h3v.5h1v-.5h3v.5h2v-.5h1v.5h2v-.5h4v.5h1v-.5h1v.5h1v-.5h3v.5h1v-.5h1v.5h2v-.5h1v-.5h1v.5h3v.5h2v-.5h1v.5h4v-.5h1v.5h2v-.5h1v-.5h1v1h1v-.5h1v-.5h3v.5h1v-.5h1v.5h1v.5h1v-.5h2v-.5h1v.5h1v.5h1v-.5h2v-1h1v.5h1v-1h1v-2h1v-3h1v-4h1v1.5h1v4.5h1v2.5h1v1.5h1v.5h1v-.5h1v.5h2v.5h2v-.5h2v.5h2v-.5h2v.5h3v-.5h2v.5h5v-.5h2v.5h2v-.5h4v.5h1v-.5h3v-.5h1v-1h1v-2.5h1v-4h1v-6.5h1v-9h1v4h1v8.5h1v5.5h1v3h1v1.5h1v1h2v.5h1v-.5h1v-.5h1v-2h1v-2h1v-6h1v-9.5h1v-7.5h1v3h1v12.5h1v5h1v4h1v2h1v1h1v.5h1v-.5h5v.5h10v-.5h2v.5h1v-.5h7v-.5h2v-.5h1v.5h1v.5h1v-.5h1v.5h3v.5h1v-.5h3v.5h1v-.5h3v.5h5v-.5h3v.5h3v-.5h1v.5h1v-.5h4v-.5h1v-1.5h1v-2.5h1v-2h1v1h1v2.5h1v2h1v1h2v-.5h2v.5h1v.5h1v-.5h2v.5h1v-.5h4v-.5h1v.5h2v.5h2v-.5h5v.5h2v-.5h2v.5h1v-.5h2v.5h1v-.5h3v-.5h3v.5h1v.5h1v-.5h1v-.5h1v1h2v-.5h1v.5h5v-.5h1v.5h3v-.5h2v-.5h2v.5h3v-.5h1v.5h2v-.5h2v-.5h1v1h1v.5h1v-.5h2v-.5h2v.5h1v.5h1v-.5h2v-.5h1v.5h2v.5h2v-.5h1v-.5h1v.5h2v.5h2v-.5h3v.5h5v-.5h2v-.5h1v.5h1v.5h6v-.5h6v.5h1v-.5h1v-.5h1v.5h3v.5h2v-.5h2v-.5h2v1h4V2519.0Z" fill="#21793c"/>
<path d="M263.8,2519.0H1226.5" stroke="#21793c" stroke-width="1.2"/>
<text x="247.5" y="2551.5" font-size="17.5" text-anchor="end" textLength="36.0" lengthAdjust="spacingAndGlyphs" >Lung</text>
<path d="M263.8,2554.5v-1.5h1v.5h1v-.5h1v-1.5h1v-2h1v-6h1v-3.5h1v2h1v6h1v3h1v1.5h1v1h1v.5h5v-.5h3v.5h1v-.5h1v.5h3v-.5h1v-.5h4v.5h2v-.5h1v-.5h1v.5h1v-.5h1v.5h4v.5h1v.5h1v-.5h3v-.5h1v.5h1v.5h1v-.5h1v-.5h3v-.5h1v-1h1v.5h1v1h1v.5h1v.5h1v-.5h2v.5h2v-.5h1v.5h7v-.5h1v-1h1v-2h1v-1h1v-.5h1v3h1v1h1v.5h1v.5h22v-.5h1v-1h1v-2.5h1v-3.5h1v-3h2v5.5h1v2.5h1v1.5h1v.5h1v.5h2v-.5h6v.5h1v-.5h1v.5h2v-.5h5v-.5h1v1h2v-.5h1v.5h4v-.5h1v-.5h1v.5h1v.5h1v-.5h1v-.5h1v.5h1v.5h3v-.5h2v.5h1v-.5h2v.5h9v-.5h1v.5h2v-.5h3v-.5h1v.5h1v-.5h1v.5h1v-.5h1v.5h3v-.5h1v.5h1v-.5h1v.5h2v-1h1v.5h1v.5h2v-.5h3v.5h1v.5h2v-.5h4v-.5h1v.5h3v-.5h1v.5h6v.5h1v-.5h3v.5h6v-.5h1v.5h14v-.5h4v-.5h1v.5h2v.5h3v-.5h1v.5h2v-.5h1v.5h1v-.5h3v.5h5v-.5h2v.5h7v-.5h2v.5h8v-.5h1v.5h3v-.5h1v.5h4v-.5h7v.5h7v-.5h1v.5h5v-.5h5v.5h3v-.5h1v-.5h1v.5h1v-.5h1v.5h1v.5h1v-.5h2v.5h4v-.5h2v.5h12v-.5h2v.5h1v-.5h5v.5h2v-.5h1v.5h2v-.5h3v.5h1v-.5h1v-.5h1v1h3v-.5h1v-.5h1v.5h1v-.5h1v1h1v-.5h7v.5h1v-.5h2v-.5h2v.5h10v.5h4v-.5h1v.5h1v-.5h2v.5h27v-.5h2v.5h2v-.5h2v.5h3v-.5h2v.5h1v-.5h2v.5h2v-.5h3v.5h2v-.5h2v.5h1v-.5h6v-.5h1v.5h2v.5h3v-.5h4v.5h8v-.5h2v-1h1v-2h1v-3h1v-3h1v1h1v4.5h1v2h1v1h2v.5h2v-1h2v.5h1v1h2v-1h3v.5h1v-.5h1v.5h7v-.5h2v.5h3v-.5h2v.5h1v-.5h1v.5h2v-.5h2v.5h2v-.5h1v.5h8v.5h2v-.5h3v-.5h1v-2h1v-1h2v2.5h1v1h1v.5h3v-1h1v-1h1v-2h1v-3h1v-3h1v.5h1v4h1v3h1v1.5h1v.5h1v.5h1v-.5h2v.5h6v-.5h2v.5h2v-.5h1v-1.5h1v-2h1v-3h1v-3h1v.5h1v5h1v2h1v1.5h1v.5h1v.5h6v-.5h1v.5h2v-.5h3v.5h1v-.5h6v.5h6v-.5h5v.5h3v-.5h2v-1h1v-1.5h1v-3.5h1v-5h1v-6h1v1.5h1v8h1v4.5h1v1.5h1v1h1v1h1v-.5h1v.5h3v-1h1v.5h1v-.5h2v.5h1v.5h2v-1h1v.5h2v.5h2v-.5h2v.5h3v-.5h2v.5h1v-.5h2v-.5h3v.5h1v.5h1v-.5h1v-.5h1v-1.5h1v-2.5h1v-4h1v-9.5h1v-5.5h1v2h1v10h1v5h1v3.5h1v2h1v1h1v.5h3v-.5h1v.5h2v-.5h2v.5h2v-.5h2v-.5h2v.5h1v.5h1v-.5h1v.5h1v-.5h1v-.5h1v.5h3v-.5h5v1h2v-.5h1v.5h3v-.5h2v-.5h3v.5h1v.5h1v-.5h2v.5h1v-.5h2v.5h5v-.5h3v.5h8v-.5h3v.5h3v-.5h2v-.5h1v.5h3v.5h2v-.5h1v-.5h1v.5h1v.5h1v-.5h1v.5h2v-1h3v-1.5h1v-2.5h1v-5.5h1v-8.5h1v-10.5h1v5.5h1v11h1v6h1v3.5h1v2h1v1h1v.5h1v-.5h1v-.5h1v-1.5h1v-2.5h1v-5h1v-10h1v-5.5h1v1h1v11.5h1v5.5h1v4h1v2h1v1h1v-.5h2v.5h1v-.5h1v.5h1v-.5h3v.5h1v.5h3v-.5h3v.5h1v-.5h1v.5h1v-.5h3v.5h1v-.5h11v.5h1v-.5h1v-.5h1v-1.5h1v-2h1v-4.5h1v-3h1v.5h1v5.5h1v3h1v1.5h1v1h5v.5h3v-.5h4v.5h3v-.5h1v-.5h1v-1.5h1v-2.5h1v-4h1v-4h1v1.5h1v5h1v3.5h1v1.5h1v1h2v.5h2v-.5h1v.5h3v-.5h2v.5h4v-.5h2v.5h2v-.5h2v.5h4v-.5h1v-1h1v-1.5h1v-3h1v-3.5h1v2h1v3.5h1v2h1v1h1v.5h3v-.5h5v.5h1v-.5h1v.5h1v-.5h1v.5h1v-.5h5v1h5v-.5h1v-.5h1v.5h5v.5h1v-.5h1v.5h3v-.5h2v.5h7v-.5h1v.5h4v-.5h1v-.5h3v.5h2v-.5h2v.5h1v-.5h1v.5h4v-.5h1v.5h2v-.5h2v.5h1v.5h1v-.5h6v.5h2v-.5h1v.5h2v-.5h1v.5h1v-.5h1v-.5h1v.5h1v.5h1v-1h2v.5h4V2554.5Z" fill="#21793c"/>
<path d="M263.8,2554.5H1226.5" stroke="#21793c" stroke-width="1.2"/>
<text x="247.0" y="2588.0" font-size="17.5" text-anchor="end" textLength="34.0" lengthAdjust="spacingAndGlyphs" >Liver</text>
<path d="M263.8,2590.3v-.5h1v-.5h2v.5h1v-.5h5v.5h1v-.5h1v-.5h1v.5h4v-.5h1v-.5h2v1h1v-.5h1v.5h1v.5h2v-.5h2v-.5h2v1h1v-.5h4v.5h1v-.5h1v-.5h1v-.5h1v-.5h2v1h1v1h1v-.5h1v-.5h3v.5h1v.5h1v-1h1v.5h1v.5h2v-1h1v.5h1v.5h2v-.5h1v.5h2v-.5h3v-.5h1v.5h1v-1h1v-1.5h1v-3.5h1v-2.5h1v1.5h1v3.5h1v2h1v1.5h2v.5h4v-.5h3v.5h1v-.5h2v-.5h3v.5h1v.5h4v-.5h1v.5h2v-.5h1v.5h6v-.5h1v.5h3v-.5h2v-.5h1v.5h2v.5h2v-.5h2v-.5h1v.5h6v-.5h1v-.5h1v1h2v.5h2v-.5h4v-.5h1v-.5h1v1h1v.5h3v-.5h5v.5h1v-.5h2v.5h1v-.5h2v.5h2v-.5h4v.5h2v-.5h1v.5h1v-.5h2v.5h3v-.5h3v.5h1v-.5h1v.5h2v-.5h1v.5h5v-.5h3v.5h2v-.5h4v-.5h3v.5h1v.5h1v-.5h1v.5h1v-.5h1v.5h2v-.5h1v.5h6v-.5h2v-.5h3v.5h1v-.5h1v.5h2v-.5h2v.5h2v-.5h1v-.5h2v.5h1v.5h2v.5h2v-.5h8v.5h1v-.5h1v-.5h1v-.5h1v.5h1v.5h1v-.5h2v.5h2v-.5h1v.5h2v.5h1v-.5h1v.5h1v-.5h1v-.5h5v1h4v-.5h2v.5h4v-.5h1v.5h7v-.5h5v.5h3v-.5h1v.5h2v-.5h1v-.5h2v.5h1v.5h1v-.5h1v-.5h1v1h1v-.5h1v.5h1v-.5h1v.5h5v-.5h2v.5h1v-.5h5v.5h6v-.5h1v-.5h1v.5h1v.5h3v-.5h2v.5h1v-.5h5v.5h5v-.5h3v.5h1v-.5h1v.5h2v-.5h1v.5h19v-.5h1v.5h1v-.5h4v.5h1v-.5h2v.5h2v-.5h1v.5h2v-.5h1v.5h2v-.5h2v.5h4v-.5h1v.5h1v-.5h3v.5h2v-.5h1v.5h3v-.5h2v.5h1v-.5h2v.5h1v-.5h2v.5h1v-.5h2v.5h1v-.5h5v.5h2v-1h2v.5h1v.5h1v-.5h3v-.5h1v.5h3v-.5h1v.5h1v.5h1v-.5h2v-.5h1v.5h6v.5h3v-.5h1v.5h3v-1h1v.5h3v.5h2v-1h3v.5h1v.5h2v-.5h3v-.5h1v.5h1v.5h2v-.5h4v-.5h1v.5h1v-.5h2v-.5h1v1h1v.5h1v-.5h1v-.5h2v.5h1v-.5h1v.5h2v-.5h3v.5h1v.5h3v-.5h3v.5h12v-.5h5v.5h3v-.5h1v.5h3v-.5h1v-1h1v.5h1v.5h2v-1h3v1h2v-.5h2v.5h1v-.5h1v.5h4v.5h3v-.5h1v-.5h1v-1.5h1v-3.5h1v-3.5h1v-5h1v1h1v6h1v4h1v2h1v1h1v.5h2v-.5h3v.5h1v-.5h1v.5h2v-.5h2v.5h3v-.5h1v.5h1v-.5h1v.5h1v-.5h2v.5h2v-.5h1v.5h4v-.5h4v-.5h1v-1.5h1v-3h1v-6h1v-8.5h1v-10h1v4h1v11h1v8h1v3h1v2h1v1h3v.5h3v-.5h1v.5h1v-.5h1v.5h2v.5h3v-.5h2v-1h1v-2h1v-3h1v-6h1v-5h1v1h1v7h1v4.5h1v2.5h1v1.5h1v1h6v-.5h2v.5h8v-.5h1v-.5h2v.5h2v-.5h2v.5h1v.5h1v-.5h2v.5h1v-.5h1v.5h5v-.5h1v-1h1v-1.5h1v-3h1v-2.5h2v4.5h1v2h1v.5h1v-2h1v-2.5h1v-3h1v1h1v3.5h1v2.5h1v1h2v-.5h1v.5h1v-.5h1v.5h4v-.5h4v.5h1v.5h1v.5h1v-.5h2v-.5h2v-.5h1v.5h1v.5h1v-.5h2v1h1v-.5h5v.5h3v-.5h2v.5h2v-.5h1v.5h1v-.5h4v.5h1v-.5h1v-.5h1v-2h1v-2h1v-5.5h1v-9.5h1v-6.5h1v2h1v10h1v7.5h1v3.5h1v2h1v1h1v.5h5v-.5h3v.5h1v-.5h1v.5h5v-.5h6v.5h1v-.5h2v.5h1v-.5h10v-.5h2v1h1v-.5h1v-.5h1v-2h1v-2.5h1v-5.5h1v-10h1v-7.5h1v.5h1v14h1v7h1v3h1v2h1v1h1v.5h2v.5h8v-.5h2v.5h1v-.5h1v.5h1v-.5h1v.5h2v-.5h1v.5h1v-.5h1v.5h7v-.5h2v.5h2v-.5h1v.5h2v-.5h1v-.5h1v.5h1v.5h1v-.5h1v.5h6v-.5h2v.5h1v-.5h1v-1h1v-1.5h1v-4h1v-1h1v-.5h1v4.5h1v2h1v1h1v1h7v-.5h2v.5h1v-.5h2v.5h3v-1h1v-.5h1v-1.5h1v-3h1v-3h1v.5h1v4.5h1v2h1v1h1v1h2v-1h1v.5h1v-.5h1v.5h2v-.5h1v.5h3v.5h1v-.5h1v.5h4v-.5h2v.5h4v-.5h3v.5h2v-1h1v-.5h1v.5h2v.5h2v.5h2v-.5h2v.5h2v-.5h2v.5h18v-.5h2v.5h1v-.5h3v.5h1v-.5h1v.5h2v-.5h1v.5h1v-.5h1v-.5h1v.5h3v.5h4v-.5h4v.5h6v-.5h3v.5h9v-.5h2v.5h4v-.5h1v.5h1V2590.3Z" fill="#21793c"/>
<path d="M263.8,2590.3H1226.5" stroke="#21793c" stroke-width="1.2"/>
<text x="240.5" y="2623.4" font-size="17.5" text-anchor="end" textLength="111.2" lengthAdjust="spacingAndGlyphs" >Skeletal Muscle</text>
<path d="M263.8,2625.6v-1h2v.5h2v-.5h2v.5h1v-.5h2v-.5h5v.5h2v-.5h1v.5h1v.5h2v-.5h1v-.5h1v.5h1v-.5h2v.5h5v.5h1v-.5h1v.5h1v-.5h2v.5h1v-.5h2v.5h1v-.5h1v.5h1v-.5h1v.5h1v-.5h1v.5h3v-.5h4v.5h2v-.5h1v.5h2v-.5h4v.5h1v-.5h1v-.5h2v.5h2v-.5h3v-.5h1v.5h1v.5h4v-.5h1v.5h1v.5h1v-1h1v.5h2v-.5h2v.5h4v-.5h1v.5h4v-.5h1v.5h1v.5h1v-.5h1v-.5h1v.5h4v-.5h1v-1h1v-3h1v-1.5h1v.5h1v2.5h1v2h1v1h1v.5h3v-.5h1v.5h9v-.5h1v.5h1v-.5h1v.5h1v-.5h1v-.5h1v.5h2v-.5h2v.5h3v.5h1v-.5h1v.5h3v-.5h2v.5h1v-.5h2v.5h14v-.5h2v.5h4v-.5h2v.5h2v-.5h2v-.5h2v.5h2v-.5h1v.5h1v-.5h1v-.5h1v.5h1v.5h1v-.5h1v1h2v-1h3v1h5v-.5h3v.5h4v-.5h2v.5h3v-.5h5v-.5h2v.5h1v-.5h1v-.5h1v.5h3v.5h2v-.5h1v.5h2v-.5h1v.5h3v.5h2v-1h2v.5h4v-.5h3v.5h1v.5h1v-.5h1v-.5h1v.5h3v.5h2v-.5h1v.5h4v-.5h1v.5h2v-.5h2v.5h3v-.5h4v.5h3v-.5h5v-.5h3v.5h1v-.5h2v.5h4v.5h3v-1h2v.5h1v.5h1v-.5h3v.5h2v-.5h2v.5h2v-.5h1v.5h1v-.5h1v-.5h1v.5h1v.5h2v-.5h1v-.5h1v.5h7v.5h5v-.5h1v.5h1v-.5h1v.5h6v-.5h3v.5h3v-.5h1v.5h3v-.5h4v.5h5v-.5h2v.5h9v-.5h1v.5h2v-.5h2v.5h1v-.5h2v.5h2v-.5h1v-.5h2v.5h4v.5h1v-.5h1v-.5h1v.5h2v.5h3v-.5h1v-.5h1v-.5h2v.5h1v.5h1v.5h2v-.5h2v-.5h3v.5h1v.5h1v-.5h3v-.5h1v.5h1v.5h2v-.5h1v.5h1v-.5h1v.5h4v-.5h2v.5h4v-.5h7v-.5h3v.5h1v.5h2v-.5h1v.5h2v-.5h1v.5h6v-.5h2v-.5h2v1h1v-.5h2v-.5h1v.5h1v.5h2v-.5h6v-.5h1v.5h1v.5h1v-1h2v.5h1v-.5h1v-.5h1v-1.5h1v-2h1v-5h1v-5h1v1h1v6.5h1v4h1v2h1v1h1v.5h1v-.5h2v.5h1v-.5h1v.5h4v-.5h2v-.5h3v.5h4v.5h1v-.5h3v.5h1v-.5h1v-.5h2v.5h2v-.5h1v.5h1v-.5h2v.5h1v.5h4v-.5h2v.5h7v-.5h1v.5h1v-.5h4v.5h2v-.5h1v-.5h4v.5h2v-1h1v-2h1v-2h1v1h1v2.5h1v1h1v.5h3v-1h2v.5h3v.5h2v-.5h1v.5h4v.5h1v-.5h6v.5h3v-.5h5v.5h1v-.5h2v.5h5v-.5h2v.5h8v-.5h2v.5h2v-.5h4v.5h1v-.5h1v-.5h1v.5h2v-1.5h1v-2h1v-3h1v-4h1v.5h1v5.5h1v2.5h1v1.5h2v-.5h1v.5h1v.5h2v-.5h1v.5h1v-.5h4v1h1v-.5h2v.5h2v-.5h2v.5h6v-.5h1v.5h9v-.5h3v-1h1v-1.5h1v-1.5h1v.5h1v2h1v1.5h1v.5h11v-.5h1v.5h3v-.5h1v.5h2v-.5h2v.5h7v-.5h1v.5h1v-.5h1v.5h4v-.5h1v.5h1v-.5h1v.5h1v-.5h3v.5h1v-.5h1v.5h8v-.5h1v.5h3v-.5h4v-.5h1v.5h4v.5h1v-.5h2v-.5h1v.5h2v-.5h1v.5h1v.5h3v-.5h2v.5h2v-.5h4v-.5h1v.5h1v-.5h4v.5h2v-.5h5v.5h5v.5h1v-.5h2v-.5h1v-1.5h1v-3.5h1v-6h1v-10.5h1v-4.5h1v-2.5h1v15h1v6.5h1v4h1v2.5h1v1h3v.5h2v-.5h2v.5h5v-.5h2v-.5h4v.5h1v.5h3v-.5h3v-.5h1v.5h1v.5h11v-.5h1v.5h2v-.5h1v-.5h2v.5h3v-.5h1v.5h10v.5h1v-1h1v-.5h1v-2h1v-3.5h1v-3h1v1h1v4h1v2.5h1v1.5h1v.5h1v.5h2v-.5h2v.5h3v-.5h2v.5h18v-.5h2v.5h5v-.5h2v.5h12v-.5h1v.5h2v-.5h1v.5h1v-.5h1v-.5h5v.5h2v.5h1v-.5h2v-.5h3v.5h2v.5h1v-.5h1v-.5h1v.5h3v.5h5v-.5h1v.5h1v-.5h1v.5h6v-.5h1v.5h17v-.5h1v.5h5v-.5h1v.5h4v-.5h1v.5h1v-.5h3v.5h1v-.5h1V2625.6Z" fill="#21793c"/>
<path d="M263.8,2625.6H1226.5" stroke="#21793c" stroke-width="1.2"/>
<text x="244.8" y="2659.2" font-size="17.5" text-anchor="end" textLength="48.0" lengthAdjust="spacingAndGlyphs" >Spleen</text>
<path d="M263.8,2660.5v-1h2v-.5h1v.5h3v-.5h1v.5h1v.5h1v-.5h1v.5h1v-.5h1v.5h1v-.5h7v.5h4v-.5h1v.5h5v-.5h3v.5h2v-.5h3v-.5h1v.5h1v.5h1v-.5h2v.5h1v-.5h1v-.5h2v.5h4v-.5h1v.5h2v.5h1v-.5h1v.5h2v-.5h2v.5h1v-.5h3v.5h6v-.5h2v.5h1v-.5h1v.5h2v-.5h1v.5h1v-.5h1v.5h3v-.5h7v.5h2v-.5h2v.5h3v-.5h1v.5h3v-.5h2v.5h4v-.5h1v.5h2v-.5h1v-.5h1v.5h1v.5h1v-.5h2v.5h2v-.5h1v.5h1v-.5h5v.5h2v-.5h2v.5h1v-.5h1v.5h1v-.5h1v-.5h1v.5h5v-.5h1v.5h2v-.5h2v.5h3v-.5h1v1h2v-.5h1v.5h2v-.5h6v-.5h1v.5h1v-.5h1v1h3v-.5h1v.5h2v-1h1v.5h1v.5h1v-.5h1v-.5h1v1h2v-.5h1v-.5h1v.5h1v.5h3v-.5h1v.5h3v-.5h2v.5h7v-.5h1v-.5h1v.5h2v.5h2v-.5h1v.5h1v-.5h3v.5h3v-.5h1v-.5h1v.5h1v-.5h1v.5h1v.5h2v-.5h2v.5h3v-.5h3v.5h1v-.5h2v-.5h1v.5h3v.5h7v-.5h10v.5h1v-1h3v.5h5v-.5h3v.5h1v.5h2v-.5h7v-.5h5v.5h1v-.5h2v.5h4v-.5h5v.5h1v.5h1v-.5h1v-.5h2v.5h3v.5h2v-.5h2v.5h11v-.5h1v.5h3v-.5h1v.5h1v-.5h2v.5h2v-.5h2v-1h1v-1h1v.5h1v1h1v.5h6v-.5h2v.5h1v.5h1v-.5h1v-.5h1v.5h1v.5h1v-.5h1v-.5h1v.5h1v.5h3v-.5h5v.5h2v-.5h1v-.5h1v.5h1v.5h2v-.5h2v.5h1v-.5h1v.5h18v-.5h3v.5h1v-.5h1v.5h1v-.5h1v-1h1v-1h1v.5h1v1h1v.5h3v-.5h1v.5h2v-.5h3v.5h1v-.5h2v.5h1v-.5h2v-.5h2v1h2v.5h1v-.5h2v-.5h1v.5h3v-.5h1v1h2v-.5h1v-.5h1v1h1v-.5h1v-.5h3v.5h2v.5h2v-.5h1v-.5h2v-.5h1v.5h1v.5h2v-.5h1v.5h3v-.5h2v.5h1v.5h3v-.5h2v.5h2v-.5h4v.5h2v-.5h3v.5h1v-.5h4v.5h1v-.5h3v.5h1v-.5h5v-.5h4v.5h5v-.5h1v.5h1v-.5h1v.5h2v.5h1v-1h1v.5h2v-.5h2v.5h2v-.5h2v.5h1v-.5h1v.5h5v-.5h1v.5h2v.5h9v-.5h1v.5h10v-.5h7v-1h1v-1.5h1v-1h2v2h1v.5h1v.5h1v.5h1v-1h2v1h1v.5h2v-1h1v-.5h1v1h3v-.5h1v-.5h2v.5h1v.5h1v-.5h3v.5h2v-1h1v.5h1v.5h1v.5h1v-.5h2v-.5h1v.5h4v-.5h1v.5h2v-.5h2v1h2v-.5h2v.5h7v-.5h2v.5h3v-.5h5v.5h1v-.5h1v-.5h1v-1h1v-2.5h1v-5h1v-3h1v1h1v5h1v3.5h1v1.5h1v1h2v-.5h1v.5h2v.5h2v-.5h3v.5h1v-.5h5v.5h1v-.5h1v-1h1v-1.5h1v-1.5h1v.5h1v2h1v1.5h1v.5h1v-.5h8v-1h1v-1h1v-3.5h1v-6h1v-10.5h1v-6h1v2h1v11.5h1v6.5h1v4.5h1v2h1v1.5h3v-.5h1v.5h7v.5h6v-.5h2v.5h3v-.5h1v-.5h4v.5h1v-.5h1v.5h1v-.5h3v.5h1v.5h1v-.5h3v.5h1v-.5h1v-.5h3v.5h1v-.5h1v.5h3v-.5h1v.5h2v.5h1v-.5h3v.5h1v-.5h1v-.5h1v.5h3v.5h2v-.5h1v.5h7v-.5h2v.5h2v-.5h3v.5h6v-.5h1v.5h1v-.5h2v-.5h1v-.5h1v-2h1v-1.5h2v3h1v1h1v.5h3v-.5h2v.5h1v-.5h1v.5h1v-.5h1v-1.5h1v-2.5h1v-1.5h2v3h1v2h1v1h4v-.5h2v1h2v-1h1v.5h4v.5h8v-.5h1v.5h8v-.5h1v.5h2v-.5h3v.5h1v-.5h3v.5h1v-.5h2v.5h2v-.5h1v.5h1v-.5h2v.5h1v-.5h4v-.5h1v.5h3v.5h2v-.5h1v.5h2v-.5h1v.5h16v-.5h3v.5h1v-.5h2v-.5h1v1h2v-1h1v.5h1v.5h3v-1h1v.5h2v.5h1v-.5h2v.5h2v-.5h2v.5h5v-.5h2v.5h4v-.5h2v.5h7v-.5h1v.5h1v-.5h1v-.5h2v.5h2v-.5h1v.5h2v-.5h3v1h3v-.5h1v.5h2v-.5h1v.5h5v-.5h1v.5h2v-.5h6v-.5h1v.5h2v.5h2v-.5h6v.5h2v-1h1v.5h1v.5h2v-.5h1v.5h3v-.5h3v.5h2v-.5h1v.5h1v-.5h5v-.5h2v.5h1v-.5h1v.5h2V2660.5Z" fill="#21793c"/>
<path d="M263.8,2660.5H1226.5" stroke="#21793c" stroke-width="1.2"/>
<text x="244.8" y="2692.4" font-size="17.5" text-anchor="end" textLength="63.0" lengthAdjust="spacingAndGlyphs" >Stomach</text>
<path d="M263.8,2695.9v-.5h1v-.5h1v.5h8v-.5h6v.5h4v-.5h2v-.5h1v.5h2v-.5h1v1h3v-1h2v.5h4v-.5h2v.5h1v.5h3v-.5h2v.5h7v-.5h1v-.5h1v-1.5h1v-1h1v1h1v1.5h1v.5h1v.5h1v-.5h3v.5h2v-1h1v.5h1v-.5h1v.5h2v-.5h2v.5h2v-1h2v1h5v-.5h2v.5h2v-.5h5v.5h1v.5h1v-.5h3v.5h1v-.5h2v.5h2v-.5h1v-.5h1v-1h1v-2h1v-5h1v-6h1v-7.5h1v1.5h1v10.5h1v4.5h1v3.5h1v1h1v1h1v.5h3v-.5h2v.5h3v-.5h4v.5h2v-.5h1v-.5h1v.5h3v.5h2v-.5h2v.5h8v-.5h1v.5h2v-.5h1v.5h1v-.5h3v.5h7v-.5h3v.5h1v-.5h4v-.5h1v.5h2v-.5h3v.5h1v-.5h2v.5h2v.5h11v-.5h1v.5h3v-.5h3v-.5h3v.5h2v-.5h1v.5h2v.5h2v-1h1v.5h4v-.5h1v.5h3v-.5h2v.5h1v-.5h1v.5h1v.5h2v-.5h5v.5h2v-.5h1v.5h2v-.5h2v.5h10v-.5h1v.5h3v-.5h3v.5h3v-1h1v.5h2v-.5h1v-.5h1v1h2v-.5h1v.5h1v-.5h1v-.5h1v.5h1v.5h3v.5h1v-.5h2v.5h1v-.5h1v-.5h3v.5h1v.5h2v-.5h3v.5h1v-.5h4v.5h2v-1h1v.5h1v.5h2v-1h1v.5h1v.5h1v-.5h2v.5h2v-.5h1v.5h2v-.5h2v.5h6v-.5h1v.5h3v-.5h2v.5h1v-.5h2v.5h1v-.5h2v.5h3v-.5h2v.5h4v-.5h2v-.5h1v.5h1v-.5h2v.5h4v.5h2v-.5h2v-.5h2v.5h4v-.5h1v.5h3v-.5h2v.5h1v.5h4v-.5h3v.5h3v-.5h2v.5h13v-.5h3v.5h2v-.5h1v-.5h2v1h1v-.5h1v.5h1v-.5h1v-.5h1v.5h1v-.5h1v.5h1v-.5h2v1h2v-.5h1v-.5h1v.5h2v.5h2v-.5h1v-.5h1v.5h1v-.5h3v.5h2v-.5h1v1h1v-.5h1v-.5h1v.5h9v.5h5v-.5h3v.5h2v-.5h1v-.5h3v1h2v-.5h2v.5h1v-.5h5v.5h16v-.5h3v-.5h1v.5h1v.5h1v-.5h2v.5h3v-.5h1v-.5h2v1h1v-.5h1v-.5h1v-.5h1v.5h1v.5h1v-.5h1v.5h2v-.5h1v.5h7v.5h1v-.5h2v.5h1v-.5h1v.5h4v-1h1v.5h4v-.5h1v.5h5v-.5h2v.5h1v-.5h1v.5h3v-.5h1v.5h3v-.5h1v.5h1v-1.5h1v-1.5h1v-4.5h1v-3.5h1v2h1v4.5h1v2.5h1v1.5h2v-.5h2v1h1v-.5h1v.5h3v.5h1v-.5h1v-.5h1v.5h2v.5h1v-.5h1v.5h2v-.5h1v.5h2v-.5h2v.5h5v-.5h1v-.5h1v-1.5h1v-1.5h1v-4.5h1v-4.5h1v.5h1v6.5h1v2h1v-4h1v-2h1v1h1v3.5h1v3h1v1.5h1v.5h1v.5h8v-.5h7v-.5h2v-1.5h1v-3h1v-4h1v-4.5h1v1.5h1v6h1v3h1v2h1v.5h1v.5h2v-.5h1v-.5h1v.5h1v1h2v-.5h1v.5h2v-.5h2v.5h1v-.5h3v-.5h2v.5h4v.5h2v-.5h3v-.5h1v1h2v-.5h1v-.5h1v.5h1v.5h1v-1h2v-.5h1v-1.5h1v-1h1v.5h1v1.5h1v1h1v.5h3v-.5h1v-.5h2v.5h2v.5h3v.5h1v-.5h4v.5h8v-.5h1v.5h5v-.5h2v.5h1v-.5h1v-.5h2v1h1v-.5h2v-.5h3v.5h2v-.5h1v.5h2v.5h2v-1h2v.5h4v.5h1v-.5h1v-1h1v-1h1v.5h1v1h1v.5h1v.5h1v-.5h1v.5h1v-.5h2v.5h2v-.5h1v.5h3v-.5h1v.5h8v-.5h1v.5h3v-.5h1v.5h2v-.5h1v.5h2v-.5h2v.5h3v-.5h1v-.5h1v.5h1v-.5h2v.5h2v-.5h1v-2h1v-3h1v-4.5h1v-12h1v-8h1v1h1v16h1v6.5h1v3h1v2h1v1h1v.5h1v-.5h2v.5h3v.5h1v-.5h4v.5h2v-.5h1v.5h2v-.5h1v.5h5v-.5h2v.5h7v-.5h1v.5h1v-.5h1v-1h1v-1.5h1v-3.5h1v-3h1v.5h1v5h1v2h1v1h1v1h5v-.5h1v.5h5v-.5h2v.5h1v-.5h1v-.5h2v-1.5h1v-2.5h1v-1.5h1v-.5h1v3.5h1v2h1v1h2v.5h1v-.5h2v.5h3v-.5h3v-.5h2v.5h1v-.5h1v.5h6v.5h1v-.5h2v.5h3v-.5h1v-.5h5v.5h1v-1h5v.5h1v.5h2v-.5h1v-.5h1v.5h1v.5h1v.5h1v-.5h1v.5h2v-1h2v.5h1v.5h1v-.5h3v.5h1v-.5h1v.5h12v-.5h3v.5h2v-.5h1v-.5h2v.5h3v.5h2v-.5h1v.5h11v-.5h1v.5h1v-.5h1v.5h2v-.5h5v-.5h1v.5h1v-.5h1v.5h2v-.5h1v.5h5v-.5h1v.5h1v-.5h2v.5h1v-.5h2v.5h4V2695.9Z" fill="#21793c"/>
<path d="M263.8,2695.9H1226.5" stroke="#21793c" stroke-width="1.2"/>
</svg></body></html>
